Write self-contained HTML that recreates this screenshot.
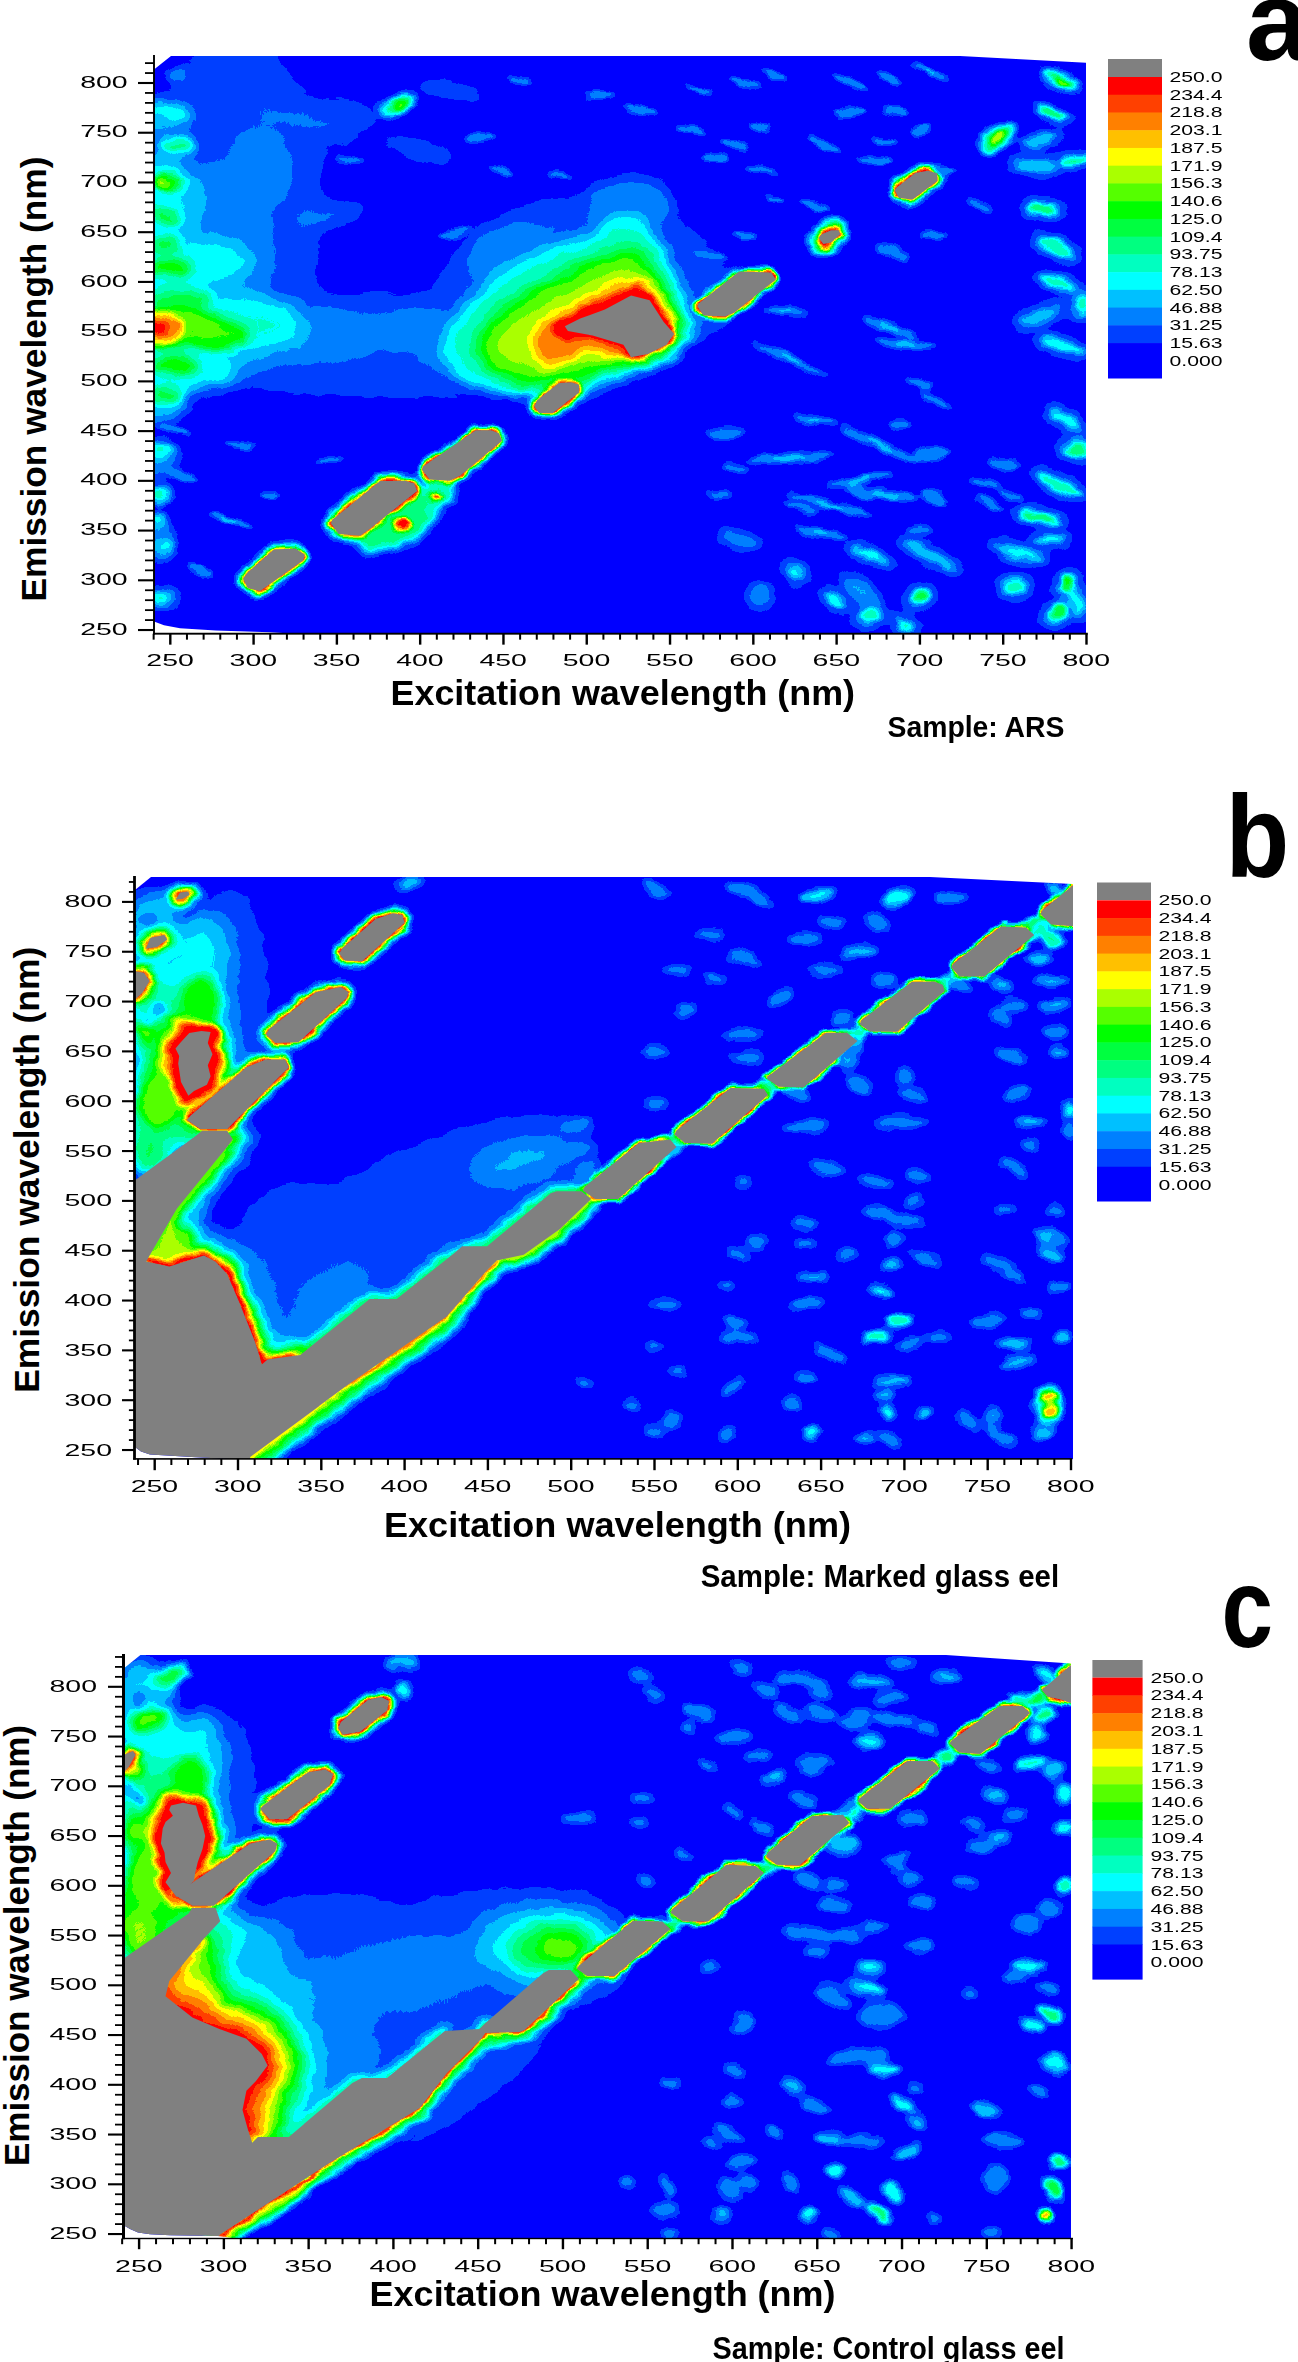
<!DOCTYPE html>
<html><head><meta charset="utf-8"><title>Excitation emission matrices</title><style>html,body{margin:0;padding:0;background:#fff}svg{display:block}</style></head><body>
<svg width="1298" height="2362" viewBox="0 0 1298 2362" font-family="'Liberation Sans', sans-serif" fill="#000">
<defs>
<filter id="jet" filterUnits="userSpaceOnUse" x="0" y="0" width="1298" height="2362" color-interpolation-filters="sRGB">
<feTurbulence type="fractalNoise" baseFrequency="0.045 0.07" numOctaves="2" seed="7" result="n"/>
<feDisplacementMap in="SourceGraphic" in2="n" scale="9" xChannelSelector="R" yChannelSelector="G" result="d"/>
<feComponentTransfer in="d">
<feFuncR type="discrete" tableValues="0 0 0 0 0 0 0 0 0 .333 .667 1 1 1 1 1 .5"/>
<feFuncG type="discrete" tableValues="0 .25 .5 .75 1 1 1 1 1 1 1 1 .75 .5 .25 0 .5"/>
<feFuncB type="discrete" tableValues="1 1 1 1 1 .75 .5 .25 0 0 0 0 0 0 0 0 .5"/>
</feComponentTransfer></filter>
<clipPath id="clipa"><path d="M154,69.5 L171,56 L960,56 L1086,62.8 L1086,634 L300,634 L270,632.3 L216,630.6 L180,628.2 L164,625.2 L154,621.5 Z"/></clipPath>
<clipPath id="clipb"><path d="M135,890 L151,877 L930,877 L1073,884 L1073,1459 L230,1459 L216,1458.3 L196,1457.2 L150,1454.5 L141,1451.5 L135,1447 Z"/></clipPath>
<clipPath id="clipc"><path d="M124,1668.2 L140.4,1655 L946,1655 L1071,1663.5 L1071,2239 L240,2239 L218,2236 L170,2235.2 L150,2234.2 L138,2232.5 L130,2229 L124,2225.5 Z"/></clipPath>
<filter id="b1_5" x="-60%" y="-60%" width="220%" height="220%" color-interpolation-filters="sRGB"><feGaussianBlur stdDeviation="1.5"/></filter>
<filter id="b2" x="-60%" y="-60%" width="220%" height="220%" color-interpolation-filters="sRGB"><feGaussianBlur stdDeviation="2"/></filter>
<filter id="b2_5" x="-60%" y="-60%" width="220%" height="220%" color-interpolation-filters="sRGB"><feGaussianBlur stdDeviation="2.5"/></filter>
<filter id="b3" x="-60%" y="-60%" width="220%" height="220%" color-interpolation-filters="sRGB"><feGaussianBlur stdDeviation="3"/></filter>
<filter id="b3_5" x="-60%" y="-60%" width="220%" height="220%" color-interpolation-filters="sRGB"><feGaussianBlur stdDeviation="3.5"/></filter>
<filter id="b4" x="-60%" y="-60%" width="220%" height="220%" color-interpolation-filters="sRGB"><feGaussianBlur stdDeviation="4"/></filter>
<filter id="b4_5" x="-60%" y="-60%" width="220%" height="220%" color-interpolation-filters="sRGB"><feGaussianBlur stdDeviation="4.5"/></filter>
<filter id="b5" x="-60%" y="-60%" width="220%" height="220%" color-interpolation-filters="sRGB"><feGaussianBlur stdDeviation="5"/></filter>
<filter id="b6" x="-60%" y="-60%" width="220%" height="220%" color-interpolation-filters="sRGB"><feGaussianBlur stdDeviation="6"/></filter>
<filter id="b6_5" x="-60%" y="-60%" width="220%" height="220%" color-interpolation-filters="sRGB"><feGaussianBlur stdDeviation="6.5"/></filter>
<filter id="b7" x="-60%" y="-60%" width="220%" height="220%" color-interpolation-filters="sRGB"><feGaussianBlur stdDeviation="7"/></filter>
<filter id="b8" x="-60%" y="-60%" width="220%" height="220%" color-interpolation-filters="sRGB"><feGaussianBlur stdDeviation="8"/></filter>
<filter id="b9" x="-60%" y="-60%" width="220%" height="220%" color-interpolation-filters="sRGB"><feGaussianBlur stdDeviation="9"/></filter>
<filter id="b10" x="-60%" y="-60%" width="220%" height="220%" color-interpolation-filters="sRGB"><feGaussianBlur stdDeviation="10"/></filter>
<filter id="b14" x="-60%" y="-60%" width="220%" height="220%" color-interpolation-filters="sRGB"><feGaussianBlur stdDeviation="14"/></filter>
<filter id="b16" x="-60%" y="-60%" width="220%" height="220%" color-interpolation-filters="sRGB"><feGaussianBlur stdDeviation="16"/></filter>
<filter id="b17" x="-60%" y="-60%" width="220%" height="220%" color-interpolation-filters="sRGB"><feGaussianBlur stdDeviation="17"/></filter>
</defs>
<g clip-path="url(#clipa)"><g filter="url(#jet)"><rect x="134" y="36" width="973" height="618" fill="#000"/><g filter="url(#b14)"><ellipse cx="235" cy="200" rx="90" ry="165" fill="rgb(26,26,26)"/><ellipse cx="390" cy="345" rx="250" ry="55" fill="rgb(26,26,26)"/><ellipse cx="585" cy="300" rx="150" ry="105" fill="rgb(27,27,27)"/><ellipse cx="560" cy="130" rx="50" ry="14" fill="rgb(21,21,21)" transform="rotate(10 560 130)"/><ellipse cx="330" cy="120" rx="60" ry="30" fill="rgb(21,21,21)"/></g><g filter="url(#b8)"><ellipse cx="300" cy="120" rx="50" ry="10" fill="rgb(34,34,34)" transform="rotate(10 300 120)"/><ellipse cx="420" cy="150" rx="40" ry="9" fill="rgb(32,32,32)" transform="rotate(15 420 150)"/><ellipse cx="330" cy="215" rx="40" ry="10" fill="rgb(36,36,36)" transform="rotate(-10 330 215)"/><ellipse cx="450" cy="90" rx="40" ry="8" fill="rgb(32,32,32)" transform="rotate(10 450 90)"/><ellipse cx="215" cy="250" rx="55" ry="85" fill="rgb(42,42,42)"/><ellipse cx="215" cy="330" rx="105" ry="40" fill="rgb(47,47,47)"/><ellipse cx="300" cy="335" rx="80" ry="25" fill="rgb(44,44,44)"/><ellipse cx="260" cy="170" rx="30" ry="40" fill="rgb(39,39,39)"/><ellipse cx="520" cy="260" rx="50" ry="35" fill="rgb(41,41,41)"/><ellipse cx="630" cy="205" rx="45" ry="30" fill="rgb(38,38,38)"/><ellipse cx="420" cy="330" rx="60" ry="20" fill="rgb(38,38,38)"/><ellipse cx="480" cy="365" rx="60" ry="14" fill="rgb(38,38,38)" transform="rotate(10 480 365)"/></g><g filter="url(#b5)"><polygon points="150,668 1095,104 1095,660" fill="rgb(8,8,8)"/></g><g filter="url(#b8)"><ellipse cx="158" cy="120" rx="28" ry="22" fill="rgb(47,47,47)"/><ellipse cx="160" cy="200" rx="38" ry="50" fill="rgb(60,60,60)"/><ellipse cx="158" cy="300" rx="48" ry="60" fill="rgb(70,70,70)"/><ellipse cx="158" cy="390" rx="36" ry="32" fill="rgb(58,58,58)"/><ellipse cx="160" cy="460" rx="20" ry="18" fill="rgb(45,45,45)"/><ellipse cx="158" cy="540" rx="16" ry="22" fill="rgb(45,45,45)"/><ellipse cx="165" cy="598" rx="18" ry="9" fill="rgb(52,52,52)"/><ellipse cx="230" cy="325" rx="70" ry="26" fill="rgb(75,75,75)"/><ellipse cx="200" cy="262" rx="48" ry="20" fill="rgb(72,72,72)"/><ellipse cx="200" cy="372" rx="40" ry="16" fill="rgb(72,72,72)"/></g><g filter="url(#b5)"><ellipse cx="168" cy="182" rx="16" ry="9" fill="rgb(128,128,128)"/><ellipse cx="178" cy="146" rx="16" ry="6" fill="rgb(112,112,112)"/><ellipse cx="176" cy="75" rx="10" ry="5" fill="rgb(60,60,60)"/><ellipse cx="170" cy="112" rx="22" ry="6" fill="rgb(82,82,82)" transform="rotate(15 170 112)"/><ellipse cx="165" cy="215" rx="15" ry="8" fill="rgb(112,112,112)" transform="rotate(20 165 215)"/><ellipse cx="170" cy="268" rx="22" ry="9" fill="rgb(128,128,128)"/><ellipse cx="165" cy="245" rx="15" ry="8" fill="rgb(112,112,112)"/><ellipse cx="180" cy="300" rx="30" ry="10" fill="rgb(112,112,112)"/><ellipse cx="175" cy="328" rx="55" ry="20" fill="rgb(142,142,142)"/><ellipse cx="210" cy="335" rx="40" ry="14" fill="rgb(135,135,135)"/><ellipse cx="175" cy="365" rx="25" ry="10" fill="rgb(128,128,128)"/><ellipse cx="165" cy="395" rx="18" ry="9" fill="rgb(112,112,112)"/><ellipse cx="160" cy="450" rx="12" ry="8" fill="rgb(82,82,82)"/><ellipse cx="160" cy="495" rx="12" ry="7" fill="rgb(98,98,98)"/><ellipse cx="158" cy="520" rx="10" ry="6" fill="rgb(82,82,82)"/><ellipse cx="165" cy="548" rx="10" ry="5" fill="rgb(82,82,82)"/><ellipse cx="160" cy="598" rx="8" ry="6" fill="rgb(98,98,98)"/><ellipse cx="398" cy="105" rx="18" ry="9" fill="rgb(98,98,98)" transform="rotate(-25 398 105)"/></g><g filter="url(#b3_5)"><ellipse cx="160" cy="328" rx="24" ry="15" fill="rgb(202,202,202)"/><ellipse cx="155" cy="328" rx="13" ry="9" fill="rgb(235,235,235)"/><ellipse cx="399" cy="105" rx="9" ry="4" fill="rgb(158,158,158)" transform="rotate(-25 399 105)"/><ellipse cx="163" cy="182" rx="6" ry="4" fill="rgb(172,172,172)"/></g><g filter="url(#b7)"><polygon points="444.7,354.1 450.8,329.4 472.4,301.7 500.1,277 543.3,255.5 592.6,237 617.2,218.5 641.9,221.6 660.4,252.4 675.8,286.3 685,317.1 691.2,329.4 666.5,354.1 635.7,363.3 604.9,372.6 580.2,384.9 543.3,391.1 497,388 460.1,375.7" fill="rgb(76,76,76)" stroke="rgb(76,76,76)" stroke-width="6" stroke-linejoin="round"/></g><g filter="url(#b10)"><polygon points="481.6,363.3 475.5,338.7 500.1,310.9 543.3,283.2 592.6,261.6 632.6,246.2 648,261.6 666.5,292.4 678.9,323.3 678.9,338.7 654.2,357.2 617.2,366.4 592.6,372.6 574.1,381.8 537.1,384.9 506.3,378.7" fill="rgb(152,152,152)"/></g><g filter="url(#b6_5)"><polygon points="530.9,344.8 534,329.4 555.6,314 586.4,298.6 617.2,283.2 641.9,280.1 663.5,301.7 675.8,329.4 672.7,341.8 648,357.2 629.6,360.2 604.9,354.1 586.4,351 567.9,360.2 549.4,366.4 537.1,360.2" fill="rgb(205,205,205)"/></g><g filter="url(#b2_5)"><polygon points="549.4,332.5 558.7,320.2 586.4,307.9 611.1,295.5 635.7,284.7 648,289.4 666.5,317.1 675.8,334.1 669.6,344.8 648,355.6 629.6,358.7 620.3,344.8 592.6,338.7 564.8,338.7" fill="rgb(237,237,237)"/></g><g filter="url(#b5)"><polygon points="243.1,578.8 247.7,588 260.1,591.1 303.2,560.3 304.7,554.8 295.5,548.6 273.9,549.5 247.7,572.6" fill="rgb(98,98,98)" stroke="rgb(98,98,98)" stroke-width="8" stroke-linejoin="round"/><polygon points="330.9,523.3 338.6,534.1 360.2,535.7 371,528 417.2,491 414.1,483.3 404.9,480.8 380.2,481.1 332.5,519.6" fill="rgb(112,112,112)" stroke="rgb(112,112,112)" stroke-width="10" stroke-linejoin="round"/><polygon points="421.8,469.4 429.6,479.6 449.6,480.8 460.4,475.6 502,440.7 498.9,433.3 491.2,430.3 475.8,430.3 423.4,466.3" fill="rgb(75,75,75)" stroke="rgb(75,75,75)" stroke-width="6" stroke-linejoin="round"/><polygon points="534.3,406.2 539,413 552.8,413 579,392.4 579,384.7 571.3,382.2 559,383.1 537.4,400.1" fill="rgb(112,112,112)" stroke="rgb(112,112,112)" stroke-width="8" stroke-linejoin="round"/><polygon points="697.3,306.3 703.5,315.6 725.1,316.5 734.3,312.5 775.9,279.5 771.3,272.4 739,271.5 698.9,303.2" fill="rgb(52,52,52)" stroke="rgb(52,52,52)" stroke-width="4" stroke-linejoin="round"/><polygon points="894.8,190.2 898.8,197.9 912.6,199.5 937.3,181 937.3,173.3 928,170.8 915.7,172.7 897.2,187.1" fill="rgb(98,98,98)" stroke="rgb(98,98,98)" stroke-width="8" stroke-linejoin="round"/><ellipse cx="828" cy="237" rx="20" ry="13" fill="rgb(142,142,142)" transform="rotate(-38 828 237)"/><ellipse cx="997" cy="138" rx="20" ry="10" fill="rgb(112,112,112)" transform="rotate(-35 997 138)"/><ellipse cx="1060" cy="81" rx="22" ry="7" fill="rgb(112,112,112)" transform="rotate(25 1060 81)"/><ellipse cx="395" cy="530" rx="40" ry="16" fill="rgb(98,98,98)" transform="rotate(-20 395 530)"/><ellipse cx="430" cy="500" rx="28" ry="14" fill="rgb(90,90,90)" transform="rotate(-30 430 500)"/></g><g filter="url(#b2)"><polygon points="243.1,578.8 247.7,588 260.1,591.1 303.2,560.3 304.7,554.8 295.5,548.6 273.9,549.5 247.7,572.6" fill="rgb(237,237,237)" stroke="rgb(237,237,237)" stroke-width="3.5" stroke-linejoin="round"/><polygon points="330.9,523.3 338.6,534.1 360.2,535.7 371,528 417.2,491 414.1,483.3 404.9,480.8 380.2,481.1 332.5,519.6" fill="rgb(237,237,237)" stroke="rgb(237,237,237)" stroke-width="3.5" stroke-linejoin="round"/><polygon points="421.8,469.4 429.6,479.6 449.6,480.8 460.4,475.6 502,440.7 498.9,433.3 491.2,430.3 475.8,430.3 423.4,466.3" fill="rgb(237,237,237)" stroke="rgb(237,237,237)" stroke-width="3.5" stroke-linejoin="round"/><polygon points="534.3,406.2 539,413 552.8,413 579,392.4 579,384.7 571.3,382.2 559,383.1 537.4,400.1" fill="rgb(237,237,237)" stroke="rgb(237,237,237)" stroke-width="3.5" stroke-linejoin="round"/><polygon points="697.3,306.3 703.5,315.6 725.1,316.5 734.3,312.5 775.9,279.5 771.3,272.4 739,271.5 698.9,303.2" fill="rgb(237,237,237)" stroke="rgb(237,237,237)" stroke-width="3.5" stroke-linejoin="round"/><polygon points="894.8,190.2 898.8,197.9 912.6,199.5 937.3,181 937.3,173.3 928,170.8 915.7,172.7 897.2,187.1" fill="rgb(237,237,237)" stroke="rgb(237,237,237)" stroke-width="3.5" stroke-linejoin="round"/><polygon points="818.6,238 823.3,244.1 831,242.6 840.2,234.3 838.7,230.3 831,230.3 821.7,234.3" fill="rgb(237,237,237)" stroke="rgb(237,237,237)" stroke-width="3.5" stroke-linejoin="round"/><ellipse cx="828" cy="237" rx="12" ry="8" fill="rgb(237,237,237)" transform="rotate(-38 828 237)"/><ellipse cx="998" cy="138" rx="8" ry="3.5" fill="rgb(172,172,172)" transform="rotate(-35 998 138)"/><ellipse cx="1062" cy="82" rx="9" ry="3" fill="rgb(158,158,158)" transform="rotate(25 1062 82)"/><ellipse cx="402" cy="525" rx="8" ry="5" fill="rgb(237,237,237)"/><ellipse cx="436.6" cy="497.8" rx="5" ry="4" fill="rgb(232,232,232)"/></g><g filter="url(#b4_5)"><ellipse cx="1052" cy="113" rx="23" ry="9" fill="rgb(38,38,38)" transform="rotate(20 1052 113)"/><ellipse cx="1075" cy="160" rx="21" ry="9" fill="rgb(38,38,38)" transform="rotate(-10 1075 160)"/><ellipse cx="1043" cy="209" rx="23" ry="10" fill="rgb(38,38,38)" transform="rotate(5 1043 209)"/><ellipse cx="1056" cy="247" rx="27" ry="11" fill="rgb(38,38,38)" transform="rotate(25 1056 247)"/><ellipse cx="1058" cy="283" rx="25" ry="9" fill="rgb(38,38,38)" transform="rotate(15 1058 283)"/><ellipse cx="1040" cy="140" rx="23" ry="9" fill="rgb(38,38,38)" transform="rotate(-10 1040 140)"/><ellipse cx="1035" cy="166" rx="27" ry="10" fill="rgb(38,38,38)" transform="rotate(5 1035 166)"/><ellipse cx="1082" cy="305" rx="15" ry="16" fill="rgb(38,38,38)"/><ellipse cx="1062" cy="346" rx="29" ry="9" fill="rgb(38,38,38)" transform="rotate(15 1062 346)"/><ellipse cx="1040" cy="316" rx="27" ry="11" fill="rgb(38,38,38)" transform="rotate(-20 1040 316)"/><ellipse cx="1065" cy="420" rx="23" ry="9" fill="rgb(38,38,38)" transform="rotate(30 1065 420)"/><ellipse cx="1078" cy="450" rx="19" ry="14" fill="rgb(38,38,38)"/><ellipse cx="1060" cy="485" rx="31" ry="10" fill="rgb(38,38,38)" transform="rotate(25 1060 485)"/><ellipse cx="1040" cy="517" rx="29" ry="9" fill="rgb(38,38,38)" transform="rotate(10 1040 517)"/><ellipse cx="1050" cy="540" rx="21" ry="7" fill="rgb(38,38,38)"/><ellipse cx="1068" cy="583" rx="15" ry="13" fill="rgb(38,38,38)" transform="rotate(-20 1068 583)"/><ellipse cx="1058" cy="613" rx="18" ry="13" fill="rgb(38,38,38)" transform="rotate(-30 1058 613)"/><ellipse cx="1015" cy="587" rx="19" ry="12" fill="rgb(38,38,38)"/><ellipse cx="1075" cy="600" rx="13" ry="22" fill="rgb(38,38,38)" transform="rotate(-25 1075 600)"/><ellipse cx="1020" cy="553" rx="31" ry="9" fill="rgb(38,38,38)" transform="rotate(15 1020 553)"/><ellipse cx="920" cy="597" rx="16" ry="13" fill="rgb(38,38,38)" transform="rotate(-25 920 597)"/><ellipse cx="870" cy="615" rx="17" ry="14" fill="rgb(38,38,38)" transform="rotate(-30 870 615)"/><ellipse cx="905" cy="625" rx="17" ry="9" fill="rgb(38,38,38)" transform="rotate(30 905 625)"/><ellipse cx="835" cy="600" rx="17" ry="9" fill="rgb(38,38,38)" transform="rotate(35 835 600)"/><ellipse cx="795" cy="572" rx="15" ry="10" fill="rgb(38,38,38)" transform="rotate(40 795 572)"/><ellipse cx="870" cy="555" rx="27" ry="8" fill="rgb(38,38,38)" transform="rotate(25 870 555)"/><ellipse cx="930" cy="555" rx="37" ry="9" fill="rgb(38,38,38)" transform="rotate(30 930 555)"/><ellipse cx="860" cy="590" rx="23" ry="12" fill="rgb(38,38,38)" transform="rotate(40 860 590)"/><ellipse cx="740" cy="540" rx="23" ry="8" fill="rgb(38,38,38)" transform="rotate(15 740 540)"/><ellipse cx="760" cy="595" rx="14" ry="13" fill="rgb(38,38,38)" transform="rotate(-20 760 595)"/></g><g filter="url(#b2_5)"><ellipse cx="1052" cy="113" rx="15" ry="4" fill="rgb(112,112,112)" transform="rotate(20 1052 113)"/><ellipse cx="1075" cy="160" rx="13" ry="4" fill="rgb(98,98,98)" transform="rotate(-10 1075 160)"/><ellipse cx="1043" cy="209" rx="15" ry="4.8" fill="rgb(105,105,105)" transform="rotate(5 1043 209)"/><ellipse cx="1056" cy="247" rx="19" ry="5.6" fill="rgb(90,90,90)" transform="rotate(25 1056 247)"/><ellipse cx="1058" cy="283" rx="17" ry="4" fill="rgb(90,90,90)" transform="rotate(15 1058 283)"/><ellipse cx="1040" cy="140" rx="15" ry="4" fill="rgb(60,60,60)" transform="rotate(-10 1040 140)"/><ellipse cx="1035" cy="166" rx="19" ry="4.8" fill="rgb(60,60,60)" transform="rotate(5 1035 166)"/><ellipse cx="1082" cy="305" rx="7" ry="9.6" fill="rgb(82,82,82)"/><ellipse cx="1062" cy="346" rx="21" ry="4" fill="rgb(75,75,75)" transform="rotate(15 1062 346)"/><ellipse cx="1040" cy="316" rx="19" ry="5.6" fill="rgb(52,52,52)" transform="rotate(-20 1040 316)"/><ellipse cx="1065" cy="420" rx="15" ry="4" fill="rgb(75,75,75)" transform="rotate(30 1065 420)"/><ellipse cx="1078" cy="450" rx="11" ry="8" fill="rgb(98,98,98)"/><ellipse cx="1060" cy="485" rx="23" ry="4.8" fill="rgb(90,90,90)" transform="rotate(25 1060 485)"/><ellipse cx="1040" cy="517" rx="21" ry="4" fill="rgb(112,112,112)" transform="rotate(10 1040 517)"/><ellipse cx="1050" cy="540" rx="13" ry="2.4" fill="rgb(82,82,82)"/><ellipse cx="1068" cy="583" rx="7" ry="7.2" fill="rgb(128,128,128)" transform="rotate(-20 1068 583)"/><ellipse cx="1058" cy="613" rx="10" ry="7.2" fill="rgb(112,112,112)" transform="rotate(-30 1058 613)"/><ellipse cx="1015" cy="587" rx="11" ry="6.4" fill="rgb(82,82,82)"/><ellipse cx="1075" cy="600" rx="5" ry="14.4" fill="rgb(68,68,68)" transform="rotate(-25 1075 600)"/><ellipse cx="1020" cy="553" rx="23" ry="4" fill="rgb(68,68,68)" transform="rotate(15 1020 553)"/><ellipse cx="920" cy="597" rx="8" ry="7.2" fill="rgb(112,112,112)" transform="rotate(-25 920 597)"/><ellipse cx="870" cy="615" rx="9" ry="8" fill="rgb(82,82,82)" transform="rotate(-30 870 615)"/><ellipse cx="905" cy="625" rx="9" ry="4" fill="rgb(82,82,82)" transform="rotate(30 905 625)"/><ellipse cx="835" cy="600" rx="9" ry="4" fill="rgb(75,75,75)" transform="rotate(35 835 600)"/><ellipse cx="795" cy="572" rx="7" ry="4.8" fill="rgb(68,68,68)" transform="rotate(40 795 572)"/><ellipse cx="870" cy="555" rx="19" ry="3.2" fill="rgb(75,75,75)" transform="rotate(25 870 555)"/><ellipse cx="930" cy="555" rx="29" ry="4" fill="rgb(60,60,60)" transform="rotate(30 930 555)"/><ellipse cx="860" cy="590" rx="15" ry="6.4" fill="rgb(45,45,45)" transform="rotate(40 860 590)"/><ellipse cx="740" cy="540" rx="15" ry="3.2" fill="rgb(45,45,45)" transform="rotate(15 740 540)"/><ellipse cx="760" cy="595" rx="6" ry="7.2" fill="rgb(38,38,38)" transform="rotate(-20 760 595)"/></g><g filter="url(#b2)"><ellipse cx="745" cy="82" rx="16" ry="4" fill="rgb(44,44,44)" transform="rotate(15 745 82)"/><ellipse cx="775" cy="76" rx="14" ry="4" fill="rgb(44,44,44)" transform="rotate(15 775 76)"/><ellipse cx="850" cy="82" rx="20" ry="4" fill="rgb(44,44,44)" transform="rotate(25 850 82)"/><ellipse cx="890" cy="78" rx="14" ry="4" fill="rgb(44,44,44)" transform="rotate(25 890 78)"/><ellipse cx="930" cy="72" rx="22" ry="3.2" fill="rgb(44,44,44)" transform="rotate(25 930 72)"/><ellipse cx="850" cy="112" rx="18" ry="4.8" fill="rgb(44,44,44)" transform="rotate(-10 850 112)"/><ellipse cx="895" cy="112" rx="14" ry="4" fill="rgb(44,44,44)" transform="rotate(10 895 112)"/><ellipse cx="735" cy="145" rx="16" ry="4" fill="rgb(44,44,44)" transform="rotate(20 735 145)"/><ellipse cx="825" cy="145" rx="18" ry="4" fill="rgb(44,44,44)" transform="rotate(25 825 145)"/><ellipse cx="885" cy="142" rx="14" ry="3.2" fill="rgb(44,44,44)" transform="rotate(10 885 142)"/><ellipse cx="920" cy="130" rx="12" ry="4.8" fill="rgb(44,44,44)" transform="rotate(-20 920 130)"/><ellipse cx="760" cy="128" rx="12" ry="4" fill="rgb(44,44,44)" transform="rotate(15 760 128)"/><ellipse cx="815" cy="205" rx="16" ry="4" fill="rgb(44,44,44)" transform="rotate(20 815 205)"/><ellipse cx="775" cy="200" rx="12" ry="3.2" fill="rgb(44,44,44)" transform="rotate(10 775 200)"/><ellipse cx="875" cy="160" rx="18" ry="4" fill="rgb(44,44,44)"/><ellipse cx="760" cy="170" rx="18" ry="3.2" fill="rgb(44,44,44)" transform="rotate(10 760 170)"/><ellipse cx="715" cy="158" rx="14" ry="4" fill="rgb(44,44,44)"/><ellipse cx="980" cy="205" rx="14" ry="3.2" fill="rgb(44,44,44)" transform="rotate(20 980 205)"/><ellipse cx="945" cy="170" rx="12" ry="4" fill="rgb(44,44,44)"/><ellipse cx="893" cy="252" rx="18" ry="4.8" fill="rgb(44,44,44)" transform="rotate(25 893 252)"/><ellipse cx="935" cy="235" rx="14" ry="3.2" fill="rgb(44,44,44)"/><ellipse cx="785" cy="311" rx="22" ry="3.2" fill="rgb(44,44,44)" transform="rotate(5 785 311)"/><ellipse cx="890" cy="328" rx="29" ry="4" fill="rgb(44,44,44)" transform="rotate(20 890 328)"/><ellipse cx="905" cy="344" rx="30" ry="4" fill="rgb(44,44,44)" transform="rotate(5 905 344)"/><ellipse cx="790" cy="360" rx="42" ry="3.2" fill="rgb(44,44,44)" transform="rotate(25 790 360)"/><ellipse cx="920" cy="383" rx="13" ry="4" fill="rgb(44,44,44)" transform="rotate(20 920 383)"/><ellipse cx="935" cy="400" rx="18" ry="3.2" fill="rgb(44,44,44)" transform="rotate(30 935 400)"/><ellipse cx="815" cy="420" rx="22" ry="3.2" fill="rgb(44,44,44)" transform="rotate(10 815 420)"/><ellipse cx="900" cy="425" rx="10" ry="4" fill="rgb(44,44,44)"/><ellipse cx="725" cy="433" rx="18" ry="4.8" fill="rgb(44,44,44)" transform="rotate(-5 725 433)"/><ellipse cx="880" cy="445" rx="44" ry="4" fill="rgb(44,44,44)" transform="rotate(25 880 445)"/><ellipse cx="930" cy="455" rx="18" ry="7.2" fill="rgb(44,44,44)" transform="rotate(-10 930 455)"/><ellipse cx="790" cy="458" rx="44" ry="4.8" fill="rgb(44,44,44)" transform="rotate(-5 790 458)"/><ellipse cx="1003" cy="464" rx="16" ry="4.8" fill="rgb(44,44,44)"/><ellipse cx="735" cy="468" rx="12" ry="3.2" fill="rgb(44,44,44)" transform="rotate(15 735 468)"/><ellipse cx="860" cy="480" rx="34" ry="4" fill="rgb(44,44,44)" transform="rotate(-10 860 480)"/><ellipse cx="885" cy="495" rx="34" ry="4.8" fill="rgb(44,44,44)" transform="rotate(5 885 495)"/><ellipse cx="860" cy="492" rx="16" ry="5.6" fill="rgb(44,44,44)" transform="rotate(30 860 492)"/><ellipse cx="935" cy="498" rx="14" ry="6.4" fill="rgb(44,44,44)" transform="rotate(20 935 498)"/><ellipse cx="985" cy="483" rx="16" ry="3.2" fill="rgb(44,44,44)" transform="rotate(15 985 483)"/><ellipse cx="830" cy="505" rx="44" ry="4" fill="rgb(44,44,44)" transform="rotate(15 830 505)"/><ellipse cx="800" cy="507" rx="18" ry="3.2" fill="rgb(44,44,44)" transform="rotate(15 800 507)"/><ellipse cx="720" cy="495" rx="12" ry="3.2" fill="rgb(44,44,44)"/><ellipse cx="1010" cy="495" rx="14" ry="3.2" fill="rgb(44,44,44)" transform="rotate(20 1010 495)"/><ellipse cx="990" cy="503" rx="16" ry="3.2" fill="rgb(44,44,44)" transform="rotate(25 990 503)"/><ellipse cx="820" cy="533" rx="26" ry="4" fill="rgb(44,44,44)" transform="rotate(10 820 533)"/><ellipse cx="920" cy="530" rx="12" ry="3.2" fill="rgb(44,44,44)"/><ellipse cx="455" cy="232" rx="16" ry="4" fill="rgb(44,44,44)" transform="rotate(-15 455 232)"/><ellipse cx="500" cy="170" rx="14" ry="3.2" fill="rgb(44,44,44)" transform="rotate(20 500 170)"/><ellipse cx="480" cy="138" rx="16" ry="4" fill="rgb(44,44,44)" transform="rotate(-10 480 138)"/><ellipse cx="350" cy="160" rx="14" ry="3.2" fill="rgb(44,44,44)" transform="rotate(10 350 160)"/><ellipse cx="270" cy="495" rx="12" ry="3.2" fill="rgb(44,44,44)"/><ellipse cx="180" cy="475" rx="20" ry="4" fill="rgb(44,44,44)" transform="rotate(20 180 475)"/><ellipse cx="230" cy="520" rx="24" ry="4" fill="rgb(44,44,44)" transform="rotate(15 230 520)"/><ellipse cx="200" cy="570" rx="16" ry="4" fill="rgb(44,44,44)" transform="rotate(20 200 570)"/><ellipse cx="285" cy="555" rx="12" ry="3.2" fill="rgb(44,44,44)"/><ellipse cx="175" cy="430" rx="18" ry="4" fill="rgb(44,44,44)" transform="rotate(15 175 430)"/><ellipse cx="240" cy="445" rx="16" ry="3.2" fill="rgb(44,44,44)" transform="rotate(10 240 445)"/><ellipse cx="330" cy="460" rx="14" ry="3.2" fill="rgb(44,44,44)" transform="rotate(5 330 460)"/><ellipse cx="560" cy="175" rx="14" ry="3.2" fill="rgb(44,44,44)" transform="rotate(10 560 175)"/><ellipse cx="690" cy="130" rx="16" ry="4" fill="rgb(44,44,44)" transform="rotate(10 690 130)"/><ellipse cx="640" cy="110" rx="18" ry="4" fill="rgb(44,44,44)" transform="rotate(15 640 110)"/><ellipse cx="600" cy="95" rx="16" ry="4" fill="rgb(44,44,44)"/><ellipse cx="520" cy="80" rx="14" ry="3.2" fill="rgb(44,44,44)" transform="rotate(10 520 80)"/><ellipse cx="700" cy="90" rx="16" ry="3.2" fill="rgb(44,44,44)" transform="rotate(15 700 90)"/><ellipse cx="710" cy="255" rx="16" ry="4" fill="rgb(44,44,44)" transform="rotate(10 710 255)"/><ellipse cx="745" cy="235" rx="14" ry="3.2" fill="rgb(44,44,44)" transform="rotate(5 745 235)"/></g><g filter="url(#b1_5)"><ellipse cx="930" cy="72" rx="7.2" ry="1.2" fill="rgb(56,56,56)" transform="rotate(25 930 72)"/><ellipse cx="785" cy="311" rx="7.2" ry="1.2" fill="rgb(56,56,56)" transform="rotate(5 785 311)"/><ellipse cx="890" cy="328" rx="10" ry="1.6" fill="rgb(56,56,56)" transform="rotate(20 890 328)"/><ellipse cx="905" cy="344" rx="10.4" ry="1.6" fill="rgb(56,56,56)" transform="rotate(5 905 344)"/><ellipse cx="790" cy="360" rx="15.2" ry="1.2" fill="rgb(56,56,56)" transform="rotate(25 790 360)"/><ellipse cx="815" cy="420" rx="7.2" ry="1.2" fill="rgb(56,56,56)" transform="rotate(10 815 420)"/><ellipse cx="880" cy="445" rx="16" ry="1.6" fill="rgb(56,56,56)" transform="rotate(25 880 445)"/><ellipse cx="790" cy="458" rx="16" ry="2" fill="rgb(56,56,56)" transform="rotate(-5 790 458)"/><ellipse cx="860" cy="480" rx="12" ry="1.6" fill="rgb(56,56,56)" transform="rotate(-10 860 480)"/><ellipse cx="885" cy="495" rx="12" ry="2" fill="rgb(56,56,56)" transform="rotate(5 885 495)"/><ellipse cx="830" cy="505" rx="16" ry="1.6" fill="rgb(56,56,56)" transform="rotate(15 830 505)"/><ellipse cx="820" cy="533" rx="8.8" ry="1.6" fill="rgb(56,56,56)" transform="rotate(10 820 533)"/><ellipse cx="230" cy="520" rx="8" ry="1.6" fill="rgb(56,56,56)" transform="rotate(15 230 520)"/></g></g><polygon points="564.8,326.3 580.2,318.6 604.9,309.4 631.1,295.5 649.6,300.2 663.5,321.7 674.2,334.1 666.5,344.8 648,354.1 631.1,357.2 623.4,344.8 592.6,335.6 567.9,331" fill="#808080"/><polygon points="243.1,578.8 247.7,588 260.1,591.1 303.2,560.3 304.7,554.8 295.5,548.6 273.9,549.5 247.7,572.6" fill="#808080"/><polygon points="330.9,523.3 338.6,534.1 360.2,535.7 371,528 417.2,491 414.1,483.3 404.9,480.8 380.2,481.1 332.5,519.6" fill="#808080"/><polygon points="421.8,469.4 429.6,479.6 449.6,480.8 460.4,475.6 502,440.7 498.9,433.3 491.2,430.3 475.8,430.3 423.4,466.3" fill="#808080"/><polygon points="534.3,406.2 539,413 552.8,413 579,392.4 579,384.7 571.3,382.2 559,383.1 537.4,400.1" fill="#808080"/><polygon points="697.3,306.3 703.5,315.6 725.1,316.5 734.3,312.5 775.9,279.5 771.3,272.4 739,271.5 698.9,303.2" fill="#808080"/><polygon points="894.8,190.2 898.8,197.9 912.6,199.5 937.3,181 937.3,173.3 928,170.8 915.7,172.7 897.2,187.1" fill="#808080"/><polygon points="818.6,238 823.3,244.1 831,242.6 840.2,234.3 838.7,230.3 831,230.3 821.7,234.3" fill="#808080"/></g>
<rect x="153.05" y="55" width="1.9" height="579.65" fill="#000"/><rect x="153.05" y="632.75" width="934.75" height="1.9" fill="#000"/><rect x="145" y="62.208" width="9" height="1.8" fill="#000"/><rect x="145" y="72.154" width="9" height="1.8" fill="#000"/><rect x="138" y="81.95" width="16" height="2.1" fill="#000"/><rect x="145" y="92.046" width="9" height="1.8" fill="#000"/><rect x="145" y="101.992" width="9" height="1.8" fill="#000"/><rect x="145" y="111.938" width="9" height="1.8" fill="#000"/><rect x="145" y="121.884" width="9" height="1.8" fill="#000"/><rect x="138" y="131.68" width="16" height="2.1" fill="#000"/><rect x="145" y="141.776" width="9" height="1.8" fill="#000"/><rect x="145" y="151.722" width="9" height="1.8" fill="#000"/><rect x="145" y="161.668" width="9" height="1.8" fill="#000"/><rect x="145" y="171.614" width="9" height="1.8" fill="#000"/><rect x="138" y="181.41" width="16" height="2.1" fill="#000"/><rect x="145" y="191.506" width="9" height="1.8" fill="#000"/><rect x="145" y="201.452" width="9" height="1.8" fill="#000"/><rect x="145" y="211.398" width="9" height="1.8" fill="#000"/><rect x="145" y="221.344" width="9" height="1.8" fill="#000"/><rect x="138" y="231.14" width="16" height="2.1" fill="#000"/><rect x="145" y="241.236" width="9" height="1.8" fill="#000"/><rect x="145" y="251.182" width="9" height="1.8" fill="#000"/><rect x="145" y="261.128" width="9" height="1.8" fill="#000"/><rect x="145" y="271.074" width="9" height="1.8" fill="#000"/><rect x="138" y="280.87" width="16" height="2.1" fill="#000"/><rect x="145" y="290.966" width="9" height="1.8" fill="#000"/><rect x="145" y="300.912" width="9" height="1.8" fill="#000"/><rect x="145" y="310.858" width="9" height="1.8" fill="#000"/><rect x="145" y="320.804" width="9" height="1.8" fill="#000"/><rect x="138" y="330.6" width="16" height="2.1" fill="#000"/><rect x="145" y="340.696" width="9" height="1.8" fill="#000"/><rect x="145" y="350.642" width="9" height="1.8" fill="#000"/><rect x="145" y="360.588" width="9" height="1.8" fill="#000"/><rect x="145" y="370.534" width="9" height="1.8" fill="#000"/><rect x="138" y="380.33" width="16" height="2.1" fill="#000"/><rect x="145" y="390.426" width="9" height="1.8" fill="#000"/><rect x="145" y="400.372" width="9" height="1.8" fill="#000"/><rect x="145" y="410.318" width="9" height="1.8" fill="#000"/><rect x="145" y="420.264" width="9" height="1.8" fill="#000"/><rect x="138" y="430.06" width="16" height="2.1" fill="#000"/><rect x="145" y="440.156" width="9" height="1.8" fill="#000"/><rect x="145" y="450.102" width="9" height="1.8" fill="#000"/><rect x="145" y="460.048" width="9" height="1.8" fill="#000"/><rect x="145" y="469.994" width="9" height="1.8" fill="#000"/><rect x="138" y="479.79" width="16" height="2.1" fill="#000"/><rect x="145" y="489.886" width="9" height="1.8" fill="#000"/><rect x="145" y="499.832" width="9" height="1.8" fill="#000"/><rect x="145" y="509.778" width="9" height="1.8" fill="#000"/><rect x="145" y="519.724" width="9" height="1.8" fill="#000"/><rect x="138" y="529.52" width="16" height="2.1" fill="#000"/><rect x="145" y="539.616" width="9" height="1.8" fill="#000"/><rect x="145" y="549.562" width="9" height="1.8" fill="#000"/><rect x="145" y="559.508" width="9" height="1.8" fill="#000"/><rect x="145" y="569.454" width="9" height="1.8" fill="#000"/><rect x="138" y="579.25" width="16" height="2.1" fill="#000"/><rect x="145" y="589.346" width="9" height="1.8" fill="#000"/><rect x="145" y="599.292" width="9" height="1.8" fill="#000"/><rect x="145" y="609.238" width="9" height="1.8" fill="#000"/><rect x="145" y="619.184" width="9" height="1.8" fill="#000"/><rect x="138" y="628.98" width="16" height="2.1" fill="#000"/><text x="80.2" y="87.6" font-size="17.4" textLength="47.5" lengthAdjust="spacingAndGlyphs">800</text><text x="80.2" y="137.33" font-size="17.4" textLength="47.5" lengthAdjust="spacingAndGlyphs">750</text><text x="80.2" y="187.06" font-size="17.4" textLength="47.5" lengthAdjust="spacingAndGlyphs">700</text><text x="80.2" y="236.79" font-size="17.4" textLength="47.5" lengthAdjust="spacingAndGlyphs">650</text><text x="80.2" y="286.52" font-size="17.4" textLength="47.5" lengthAdjust="spacingAndGlyphs">600</text><text x="80.2" y="336.25" font-size="17.4" textLength="47.5" lengthAdjust="spacingAndGlyphs">550</text><text x="80.2" y="385.98" font-size="17.4" textLength="47.5" lengthAdjust="spacingAndGlyphs">500</text><text x="80.2" y="435.71" font-size="17.4" textLength="47.5" lengthAdjust="spacingAndGlyphs">450</text><text x="80.2" y="485.44" font-size="17.4" textLength="47.5" lengthAdjust="spacingAndGlyphs">400</text><text x="80.2" y="535.17" font-size="17.4" textLength="47.5" lengthAdjust="spacingAndGlyphs">350</text><text x="80.2" y="584.9" font-size="17.4" textLength="47.5" lengthAdjust="spacingAndGlyphs">300</text><text x="80.2" y="634.63" font-size="17.4" textLength="47.5" lengthAdjust="spacingAndGlyphs">250</text><rect x="152.642" y="633.7" width="2" height="5.95" fill="#000"/><rect x="169.1" y="633.7" width="2.4" height="10.95" fill="#000"/><rect x="185.958" y="633.7" width="2" height="5.95" fill="#000"/><rect x="202.616" y="633.7" width="2" height="5.95" fill="#000"/><rect x="219.274" y="633.7" width="2" height="5.95" fill="#000"/><rect x="235.932" y="633.7" width="2" height="5.95" fill="#000"/><rect x="252.39" y="633.7" width="2.4" height="10.95" fill="#000"/><rect x="269.248" y="633.7" width="2" height="5.95" fill="#000"/><rect x="285.906" y="633.7" width="2" height="5.95" fill="#000"/><rect x="302.564" y="633.7" width="2" height="5.95" fill="#000"/><rect x="319.222" y="633.7" width="2" height="5.95" fill="#000"/><rect x="335.68" y="633.7" width="2.4" height="10.95" fill="#000"/><rect x="352.538" y="633.7" width="2" height="5.95" fill="#000"/><rect x="369.196" y="633.7" width="2" height="5.95" fill="#000"/><rect x="385.854" y="633.7" width="2" height="5.95" fill="#000"/><rect x="402.512" y="633.7" width="2" height="5.95" fill="#000"/><rect x="418.97" y="633.7" width="2.4" height="10.95" fill="#000"/><rect x="435.828" y="633.7" width="2" height="5.95" fill="#000"/><rect x="452.486" y="633.7" width="2" height="5.95" fill="#000"/><rect x="469.144" y="633.7" width="2" height="5.95" fill="#000"/><rect x="485.802" y="633.7" width="2" height="5.95" fill="#000"/><rect x="502.26" y="633.7" width="2.4" height="10.95" fill="#000"/><rect x="519.118" y="633.7" width="2" height="5.95" fill="#000"/><rect x="535.776" y="633.7" width="2" height="5.95" fill="#000"/><rect x="552.434" y="633.7" width="2" height="5.95" fill="#000"/><rect x="569.092" y="633.7" width="2" height="5.95" fill="#000"/><rect x="585.55" y="633.7" width="2.4" height="10.95" fill="#000"/><rect x="602.408" y="633.7" width="2" height="5.95" fill="#000"/><rect x="619.066" y="633.7" width="2" height="5.95" fill="#000"/><rect x="635.724" y="633.7" width="2" height="5.95" fill="#000"/><rect x="652.382" y="633.7" width="2" height="5.95" fill="#000"/><rect x="668.84" y="633.7" width="2.4" height="10.95" fill="#000"/><rect x="685.698" y="633.7" width="2" height="5.95" fill="#000"/><rect x="702.356" y="633.7" width="2" height="5.95" fill="#000"/><rect x="719.014" y="633.7" width="2" height="5.95" fill="#000"/><rect x="735.672" y="633.7" width="2" height="5.95" fill="#000"/><rect x="752.13" y="633.7" width="2.4" height="10.95" fill="#000"/><rect x="768.988" y="633.7" width="2" height="5.95" fill="#000"/><rect x="785.646" y="633.7" width="2" height="5.95" fill="#000"/><rect x="802.304" y="633.7" width="2" height="5.95" fill="#000"/><rect x="818.962" y="633.7" width="2" height="5.95" fill="#000"/><rect x="835.42" y="633.7" width="2.4" height="10.95" fill="#000"/><rect x="852.278" y="633.7" width="2" height="5.95" fill="#000"/><rect x="868.936" y="633.7" width="2" height="5.95" fill="#000"/><rect x="885.594" y="633.7" width="2" height="5.95" fill="#000"/><rect x="902.252" y="633.7" width="2" height="5.95" fill="#000"/><rect x="918.71" y="633.7" width="2.4" height="10.95" fill="#000"/><rect x="935.568" y="633.7" width="2" height="5.95" fill="#000"/><rect x="952.226" y="633.7" width="2" height="5.95" fill="#000"/><rect x="968.884" y="633.7" width="2" height="5.95" fill="#000"/><rect x="985.542" y="633.7" width="2" height="5.95" fill="#000"/><rect x="1002" y="633.7" width="2.4" height="10.95" fill="#000"/><rect x="1018.86" y="633.7" width="2" height="5.95" fill="#000"/><rect x="1035.52" y="633.7" width="2" height="5.95" fill="#000"/><rect x="1052.17" y="633.7" width="2" height="5.95" fill="#000"/><rect x="1068.83" y="633.7" width="2" height="5.95" fill="#000"/><rect x="1085.29" y="633.7" width="2.4" height="10.95" fill="#000"/><text x="146.3" y="665.5" font-size="17.4" textLength="47.5" lengthAdjust="spacingAndGlyphs">250</text><text x="229.59" y="665.5" font-size="17.4" textLength="47.5" lengthAdjust="spacingAndGlyphs">300</text><text x="312.88" y="665.5" font-size="17.4" textLength="47.5" lengthAdjust="spacingAndGlyphs">350</text><text x="396.17" y="665.5" font-size="17.4" textLength="47.5" lengthAdjust="spacingAndGlyphs">400</text><text x="479.46" y="665.5" font-size="17.4" textLength="47.5" lengthAdjust="spacingAndGlyphs">450</text><text x="562.75" y="665.5" font-size="17.4" textLength="47.5" lengthAdjust="spacingAndGlyphs">500</text><text x="646.04" y="665.5" font-size="17.4" textLength="47.5" lengthAdjust="spacingAndGlyphs">550</text><text x="729.33" y="665.5" font-size="17.4" textLength="47.5" lengthAdjust="spacingAndGlyphs">600</text><text x="812.62" y="665.5" font-size="17.4" textLength="47.5" lengthAdjust="spacingAndGlyphs">650</text><text x="895.91" y="665.5" font-size="17.4" textLength="47.5" lengthAdjust="spacingAndGlyphs">700</text><text x="979.2" y="665.5" font-size="17.4" textLength="47.5" lengthAdjust="spacingAndGlyphs">750</text><text x="1062.49" y="665.5" font-size="17.4" textLength="47.5" lengthAdjust="spacingAndGlyphs">800</text><rect x="1108" y="59" width="54" height="18" fill="#808080"/><rect x="1108" y="77" width="54" height="18.2375" fill="#ff0000"/><rect x="1108" y="94.7375" width="54" height="18.2375" fill="#ff4000"/><rect x="1108" y="112.475" width="54" height="18.2375" fill="#ff8000"/><rect x="1108" y="130.213" width="54" height="18.2375" fill="#ffc000"/><rect x="1108" y="147.95" width="54" height="18.2375" fill="#ffff00"/><rect x="1108" y="165.688" width="54" height="18.2375" fill="#aaff00"/><rect x="1108" y="183.425" width="54" height="18.2375" fill="#55ff00"/><rect x="1108" y="201.163" width="54" height="18.2375" fill="#00ff00"/><rect x="1108" y="218.9" width="54" height="18.2375" fill="#00ff40"/><rect x="1108" y="236.638" width="54" height="18.2375" fill="#00ff80"/><rect x="1108" y="254.375" width="54" height="18.2375" fill="#00ffc0"/><rect x="1108" y="272.113" width="54" height="18.2375" fill="#00ffff"/><rect x="1108" y="289.85" width="54" height="18.2375" fill="#00c0ff"/><rect x="1108" y="307.587" width="54" height="18.2375" fill="#0080ff"/><rect x="1108" y="325.325" width="54" height="18.2375" fill="#0040ff"/><rect x="1108" y="343.062" width="54" height="35.4375" fill="#0000ff"/><text x="1169.5" y="82" font-size="14" textLength="53" lengthAdjust="spacingAndGlyphs">250.0</text><text x="1169.5" y="99.7375" font-size="14" textLength="53" lengthAdjust="spacingAndGlyphs">234.4</text><text x="1169.5" y="117.475" font-size="14" textLength="53" lengthAdjust="spacingAndGlyphs">218.8</text><text x="1169.5" y="135.213" font-size="14" textLength="53" lengthAdjust="spacingAndGlyphs">203.1</text><text x="1169.5" y="152.95" font-size="14" textLength="53" lengthAdjust="spacingAndGlyphs">187.5</text><text x="1169.5" y="170.688" font-size="14" textLength="53" lengthAdjust="spacingAndGlyphs">171.9</text><text x="1169.5" y="188.425" font-size="14" textLength="53" lengthAdjust="spacingAndGlyphs">156.3</text><text x="1169.5" y="206.163" font-size="14" textLength="53" lengthAdjust="spacingAndGlyphs">140.6</text><text x="1169.5" y="223.9" font-size="14" textLength="53" lengthAdjust="spacingAndGlyphs">125.0</text><text x="1169.5" y="241.638" font-size="14" textLength="53" lengthAdjust="spacingAndGlyphs">109.4</text><text x="1169.5" y="259.375" font-size="14" textLength="53" lengthAdjust="spacingAndGlyphs">93.75</text><text x="1169.5" y="277.113" font-size="14" textLength="53" lengthAdjust="spacingAndGlyphs">78.13</text><text x="1169.5" y="294.85" font-size="14" textLength="53" lengthAdjust="spacingAndGlyphs">62.50</text><text x="1169.5" y="312.587" font-size="14" textLength="53" lengthAdjust="spacingAndGlyphs">46.88</text><text x="1169.5" y="330.325" font-size="14" textLength="53" lengthAdjust="spacingAndGlyphs">31.25</text><text x="1169.5" y="348.062" font-size="14" textLength="53" lengthAdjust="spacingAndGlyphs">15.63</text><text x="1169.5" y="365.8" font-size="14" textLength="53" lengthAdjust="spacingAndGlyphs">0.000</text><text x="390.5" y="704.8" font-size="34.5" font-weight="bold" textLength="464.5" lengthAdjust="spacingAndGlyphs">Excitation wavelength (nm)</text><text x="887.5" y="736.9" font-size="29.5" font-weight="bold" textLength="177" lengthAdjust="spacingAndGlyphs">Sample: ARS</text><text x="45.5" y="601.5" font-size="34.5" font-weight="bold" textLength="445" lengthAdjust="spacingAndGlyphs" transform="rotate(-90 45.5 601.5)">Emission wavelength (nm)</text><text x="1246" y="60" font-size="113" font-weight="bold">a</text>
<g clip-path="url(#clipb)"><g filter="url(#jet)"><rect x="115" y="857" width="978" height="622" fill="#000"/><g filter="url(#b16)"><ellipse cx="430" cy="1215" rx="185" ry="72" fill="rgb(27,27,27)" transform="rotate(-25 430 1215)"/><ellipse cx="520" cy="1160" rx="60" ry="25" fill="rgb(30,30,30)" transform="rotate(-10 520 1160)"/><ellipse cx="300" cy="1260" rx="70" ry="80" fill="rgb(28,28,28)"/><ellipse cx="230" cy="1000" rx="40" ry="120" fill="rgb(27,27,27)"/></g><g filter="url(#b8)"><ellipse cx="520" cy="1160" rx="45" ry="16" fill="rgb(47,47,47)" transform="rotate(-15 520 1160)"/><ellipse cx="330" cy="1300" rx="40" ry="22" fill="rgb(39,39,39)" transform="rotate(-35 330 1300)"/></g><g filter="url(#b9)"><ellipse cx="152" cy="915" rx="26" ry="24" fill="rgb(56,56,56)"/><ellipse cx="165" cy="960" rx="40" ry="40" fill="rgb(60,60,60)"/><ellipse cx="170" cy="1020" rx="45" ry="40" fill="rgb(82,82,82)"/><ellipse cx="185" cy="1075" rx="50" ry="70" fill="rgb(112,112,112)"/><ellipse cx="150" cy="1130" rx="30" ry="45" fill="rgb(90,90,90)"/><ellipse cx="205" cy="960" rx="25" ry="50" fill="rgb(61,61,61)"/><ellipse cx="215" cy="1050" rx="18" ry="60" fill="rgb(68,68,68)"/><ellipse cx="160" cy="1230" rx="40" ry="45" fill="rgb(98,98,98)"/></g><g filter="url(#b5)"><ellipse cx="193" cy="1063" rx="34" ry="50" fill="rgb(180,180,180)"/><ellipse cx="160" cy="1100" rx="20" ry="30" fill="rgb(142,142,142)"/><ellipse cx="150" cy="1150" rx="12" ry="16" fill="rgb(105,105,105)"/><ellipse cx="145" cy="1030" rx="10" ry="14" fill="rgb(142,142,142)"/><ellipse cx="200" cy="1000" rx="20" ry="25" fill="rgb(128,128,128)"/><ellipse cx="183" cy="896" rx="16" ry="11" fill="rgb(128,128,128)" transform="rotate(-20 183 896)"/><ellipse cx="156" cy="942" rx="20" ry="13" fill="rgb(128,128,128)" transform="rotate(-20 156 942)"/><ellipse cx="142" cy="985" rx="12" ry="18" fill="rgb(158,158,158)"/><ellipse cx="160" cy="1010" rx="8" ry="6" fill="rgb(22,22,22)"/><ellipse cx="146" cy="1020" rx="6" ry="5" fill="rgb(15,15,15)"/><ellipse cx="150" cy="920" rx="8" ry="5" fill="rgb(12,12,12)"/><ellipse cx="410" cy="882" rx="14" ry="4" fill="rgb(98,98,98)" transform="rotate(-10 410 882)"/></g><g filter="url(#b3)"><polygon points="189.3,1032.9 201.4,1031 210.6,1032 207.8,1043.1 212.5,1054.2 207.8,1065.3 210.6,1076.3 206.9,1084.7 194,1091.1 188.4,1095.8 181,1081.9 178.2,1063.4 179.2,1056 175.5,1048.6 181,1042.1" fill="rgb(237,237,237)" stroke="rgb(237,237,237)" stroke-width="18" stroke-linejoin="round"/><polygon points="175.5,899.8 180.1,892.4 188.4,891.4 189.3,895.1 182.9,898.8" fill="rgb(237,237,237)" stroke="rgb(237,237,237)" stroke-width="5" stroke-linejoin="round"/><polygon points="145.9,948.8 150.5,937.7 164.4,934.9 167.2,939.5 157,946.9" fill="rgb(237,237,237)" stroke="rgb(237,237,237)" stroke-width="5" stroke-linejoin="round"/><polygon points="134,971 144,972.8 149.6,981.1 142.2,993.1 134,1000.5" fill="rgb(237,237,237)" stroke="rgb(237,237,237)" stroke-width="6" stroke-linejoin="round"/></g><g filter="url(#b9)"><polyline points="146.2,1261.5 169.3,1266.4 204,1255.6 215.6,1261.8 227.1,1274.1 238.7,1301 246.4,1320.3 254.1,1339.6 261.8,1364.6 300.3,1355" fill="none" stroke="rgb(48,48,48)" stroke-width="56" stroke-linejoin="round" stroke-linecap="round"/><polyline points="232.9,1139.3 227,1147 177,1208.6 165.5,1227.9 146.2,1261.5" fill="none" stroke="rgb(48,48,48)" stroke-width="44" stroke-linejoin="round" stroke-linecap="round"/></g><g filter="url(#b6)"><polyline points="146.2,1261.5 169.3,1266.4 204,1255.6 215.6,1261.8 227.1,1274.1 238.7,1301 246.4,1320.3 254.1,1339.6 261.8,1364.6 300.3,1355" fill="none" stroke="rgb(188,188,188)" stroke-width="20" stroke-linejoin="round" stroke-linecap="round"/><polyline points="232.9,1139.3 227,1147 177,1208.6 165.5,1227.9 146.2,1261.5" fill="none" stroke="rgb(172,172,172)" stroke-width="14" stroke-linejoin="round" stroke-linecap="round"/><ellipse cx="172" cy="1243" rx="24" ry="14" fill="rgb(150,150,150)" transform="rotate(-25 172 1243)"/></g><g filter="url(#b2_5)"><polyline points="146.2,1261.5 169.3,1266.4 204,1255.6 215.6,1261.8 227.1,1274.1 238.7,1301 246.4,1320.3 254.1,1339.6 261.8,1364.6 300.3,1355" fill="none" stroke="rgb(237,237,237)" stroke-width="7" stroke-linejoin="round" stroke-linecap="round"/></g><g filter="url(#b7)"><polyline points="250,1457 346.5,1385.8 446.7,1316.5" fill="none" stroke="rgb(112,112,112)" stroke-width="30" stroke-linejoin="round" stroke-linecap="round"/></g><g filter="url(#b5)"><polyline points="250.2,1457 346.5,1385.8 446.7,1316.5 485.2,1272.2 496.8,1260.6 523.7,1254.8 560,1229 591.2,1199.1" fill="none" stroke="rgb(135,135,135)" stroke-width="18" stroke-linejoin="round" stroke-linecap="round"/><polyline points="300.3,1355 369.6,1299.1 396.6,1299.1 454.4,1252.9 487.1,1246.3 550.7,1193.2 581.5,1191.3" fill="none" stroke="rgb(128,128,128)" stroke-width="9" stroke-linejoin="round" stroke-linecap="round"/></g><g filter="url(#b2)"><polyline points="346.5,1385.8 446.7,1316.5 485.2,1272.2 496.8,1260.6" fill="none" stroke="rgb(237,237,237)" stroke-width="4" stroke-linejoin="round" stroke-linecap="round"/><polyline points="250.2,1457 346.5,1385.8" fill="none" stroke="rgb(202,202,202)" stroke-width="4" stroke-linejoin="round" stroke-linecap="round"/><polyline points="496.8,1260.6 523.7,1254.8 560,1229 591.2,1199.1" fill="none" stroke="rgb(188,188,188)" stroke-width="3" stroke-linejoin="round" stroke-linecap="round"/></g><g filter="url(#b4)"><polygon points="339,953.6 344.8,960.6 362.1,961.3 404.5,922.8 402.5,915.1 392.9,913.2 375.6,919 342.8,947.9" fill="rgb(158,158,158)" stroke="rgb(158,158,158)" stroke-width="8" stroke-linejoin="round"/><polygon points="265.8,1034.5 275.4,1043 298.5,1042.2 346.7,997.9 348.6,992.2 340.9,987.1 315.9,992.2 269.6,1028.8" fill="rgb(158,158,158)" stroke="rgb(158,158,158)" stroke-width="8" stroke-linejoin="round"/><polygon points="186.8,1120 200.3,1128.9 227.3,1128.9 277.3,1078.8 288.9,1067.3 285.1,1059.6 265.8,1059.6 246.5,1067.3 190.7,1115.4" fill="rgb(158,158,158)" stroke="rgb(158,158,158)" stroke-width="8" stroke-linejoin="round"/></g><g filter="url(#b2)"><polygon points="1040.5,914.1 1050.9,924.5 1075.9,926.6 1075.9,882.9 1042.6,909.9" fill="rgb(237,237,237)" stroke="rgb(237,237,237)" stroke-width="3.5" stroke-linejoin="round"/><polygon points="951.1,967.3 959.4,976.5 984.3,976.5 1034.3,934.9 1025.9,927.4 1001,926.6 953.1,964" fill="rgb(237,237,237)" stroke="rgb(237,237,237)" stroke-width="3.5" stroke-linejoin="round"/><polygon points="859.5,1024.3 869.9,1031.4 897,1031.8 944.8,991 942.7,984.8 934.4,981.5 911.5,981.9 861.6,1020.2" fill="rgb(237,237,237)" stroke="rgb(237,237,237)" stroke-width="3.5" stroke-linejoin="round"/><polygon points="766.8,1078.4 778.4,1086.7 803.4,1087.6 857.5,1041 847.1,1032.7 826.3,1032.7 768,1076.3" fill="rgb(237,237,237)" stroke="rgb(237,237,237)" stroke-width="3.5" stroke-linejoin="round"/><polygon points="674.4,1134.6 684.8,1142.9 711.8,1143.7 768,1095.1 763.9,1088.8 730.6,1088 676.5,1130.4" fill="rgb(237,237,237)" stroke="rgb(237,237,237)" stroke-width="3.5" stroke-linejoin="round"/><polygon points="582.9,1190.7 595.4,1199.1 618.2,1199.1 676.5,1147.1 670.2,1139.6 639,1142.9 585,1186.6" fill="rgb(237,237,237)" stroke="rgb(237,237,237)" stroke-width="3.5" stroke-linejoin="round"/><polygon points="339,953.6 344.8,960.6 362.1,961.3 404.5,922.8 402.5,915.1 392.9,913.2 375.6,919 342.8,947.9" fill="rgb(237,237,237)" stroke="rgb(237,237,237)" stroke-width="3.5" stroke-linejoin="round"/><polygon points="265.8,1034.5 275.4,1043 298.5,1042.2 346.7,997.9 348.6,992.2 340.9,987.1 315.9,992.2 269.6,1028.8" fill="rgb(237,237,237)" stroke="rgb(237,237,237)" stroke-width="3.5" stroke-linejoin="round"/><polygon points="186.8,1120 200.3,1128.9 227.3,1128.9 277.3,1078.8 288.9,1067.3 285.1,1059.6 265.8,1059.6 246.5,1067.3 190.7,1115.4" fill="rgb(237,237,237)" stroke="rgb(237,237,237)" stroke-width="3.5" stroke-linejoin="round"/></g><g filter="url(#b3_5)"><ellipse cx="1037" cy="925" rx="12" ry="7" fill="rgb(165,165,165)" transform="rotate(-20 1037 925)"/><ellipse cx="947" cy="981" rx="11" ry="6" fill="rgb(112,112,112)" transform="rotate(-20 947 981)"/><ellipse cx="855" cy="1035" rx="11" ry="6" fill="rgb(112,112,112)" transform="rotate(-20 855 1035)"/><ellipse cx="766" cy="1090" rx="11" ry="6" fill="rgb(112,112,112)" transform="rotate(-20 766 1090)"/><ellipse cx="674" cy="1142" rx="11" ry="6" fill="rgb(112,112,112)" transform="rotate(-20 674 1142)"/><ellipse cx="583" cy="1194" rx="11" ry="6" fill="rgb(112,112,112)" transform="rotate(-20 583 1194)"/></g><g filter="url(#b4)"><ellipse cx="899.1" cy="1320.6" rx="16.3333" ry="7.41667" fill="rgb(36,36,36)" transform="rotate(-10 899.1 1320.6)"/><ellipse cx="876.2" cy="1337.3" rx="17.4444" ry="7.41667" fill="rgb(36,36,36)" transform="rotate(-5 876.2 1337.3)"/><ellipse cx="1046.7" cy="1395.5" rx="11.8889" ry="6.58333" fill="rgb(36,36,36)"/><ellipse cx="1046.7" cy="1416.3" rx="11.8889" ry="7.41667" fill="rgb(36,36,36)"/><ellipse cx="1042.6" cy="1433" rx="13.5556" ry="7" fill="rgb(36,36,36)"/><ellipse cx="1050.9" cy="1254.1" rx="16.3333" ry="7.83333" fill="rgb(36,36,36)" transform="rotate(20 1050.9 1254.1)"/><ellipse cx="1042.6" cy="1237.4" rx="14.6667" ry="6.58333" fill="rgb(36,36,36)" transform="rotate(30 1042.6 1237.4)"/><ellipse cx="880.3" cy="1291.5" rx="15.2222" ry="6.58333" fill="rgb(36,36,36)" transform="rotate(10 880.3 1291.5)"/><ellipse cx="890.7" cy="1264.5" rx="13.5556" ry="6.16667" fill="rgb(36,36,36)"/><ellipse cx="813.8" cy="1277" rx="19.1111" ry="6.16667" fill="rgb(36,36,36)"/><ellipse cx="805.5" cy="1304" rx="21.8889" ry="6.16667" fill="rgb(36,36,36)" transform="rotate(-5 805.5 1304)"/><ellipse cx="847.1" cy="1254.1" rx="13.5556" ry="5.75" fill="rgb(36,36,36)"/><ellipse cx="1013.5" cy="1343.5" rx="20.5" ry="5.75" fill="rgb(36,36,36)"/><ellipse cx="1017.6" cy="1362.2" rx="21.8889" ry="6.58333" fill="rgb(36,36,36)" transform="rotate(-15 1017.6 1362.2)"/><ellipse cx="1063.4" cy="1337.3" rx="12.4444" ry="6.16667" fill="rgb(36,36,36)" transform="rotate(-10 1063.4 1337.3)"/><ellipse cx="1059.2" cy="1287.4" rx="14.6667" ry="5.75" fill="rgb(36,36,36)" transform="rotate(-10 1059.2 1287.4)"/><ellipse cx="892.8" cy="1381" rx="21.8889" ry="5.95833" fill="rgb(36,36,36)"/><ellipse cx="805.5" cy="1376.8" rx="14.6667" ry="5.75" fill="rgb(36,36,36)"/><ellipse cx="888.7" cy="1412.2" rx="10.7778" ry="9.08333" fill="rgb(36,36,36)" transform="rotate(20 888.7 1412.2)"/><ellipse cx="884.5" cy="1395.5" rx="11.8889" ry="5.75" fill="rgb(36,36,36)" transform="rotate(-10 884.5 1395.5)"/><ellipse cx="924" cy="1411.3" rx="10.7778" ry="7" fill="rgb(36,36,36)"/><ellipse cx="811.7" cy="1433" rx="11.3333" ry="8.66667" fill="rgb(36,36,36)" transform="rotate(-10 811.7 1433)"/><ellipse cx="865.8" cy="1437.1" rx="11.8889" ry="6.58333" fill="rgb(36,36,36)"/><ellipse cx="888.7" cy="1439.2" rx="14.6667" ry="6.16667" fill="rgb(36,36,36)" transform="rotate(30 888.7 1439.2)"/><ellipse cx="793" cy="1403.9" rx="11.8889" ry="7.83333" fill="rgb(36,36,36)" transform="rotate(30 793 1403.9)"/><ellipse cx="734.7" cy="1322.7" rx="14.6667" ry="6.16667" fill="rgb(36,36,36)" transform="rotate(10 734.7 1322.7)"/><ellipse cx="738.9" cy="1337.3" rx="21.8889" ry="5.95833" fill="rgb(36,36,36)" transform="rotate(5 738.9 1337.3)"/><ellipse cx="830.4" cy="1353.9" rx="21.8889" ry="6.16667" fill="rgb(36,36,36)" transform="rotate(25 830.4 1353.9)"/><ellipse cx="992.7" cy="1416.3" rx="11.3333" ry="9.5" fill="rgb(36,36,36)" transform="rotate(-20 992.7 1416.3)"/><ellipse cx="1001" cy="1437.1" rx="19.1111" ry="6.58333" fill="rgb(36,36,36)" transform="rotate(30 1001 1437.1)"/><ellipse cx="967.7" cy="1420.5" rx="16.3333" ry="6.16667" fill="rgb(36,36,36)" transform="rotate(40 967.7 1420.5)"/><ellipse cx="672.3" cy="1420.5" rx="11.8889" ry="9.5" fill="rgb(36,36,36)" transform="rotate(-20 672.3 1420.5)"/><ellipse cx="726.4" cy="1433" rx="11.3333" ry="7.83333" fill="rgb(36,36,36)" transform="rotate(-25 726.4 1433)"/><ellipse cx="732.7" cy="1387.2" rx="16.3333" ry="5.75" fill="rgb(36,36,36)" transform="rotate(-40 732.7 1387.2)"/><ellipse cx="664" cy="1304" rx="19.1111" ry="5.54167" fill="rgb(36,36,36)"/><ellipse cx="738.9" cy="1254.1" rx="14.6667" ry="6.16667" fill="rgb(36,36,36)" transform="rotate(20 738.9 1254.1)"/><ellipse cx="996.8" cy="1262.4" rx="19.1111" ry="6.16667" fill="rgb(36,36,36)" transform="rotate(20 996.8 1262.4)"/><ellipse cx="1013.5" cy="1277" rx="14.6667" ry="6.16667" fill="rgb(36,36,36)" transform="rotate(10 1013.5 1277)"/><ellipse cx="926.1" cy="1258.2" rx="19.1111" ry="6.16667" fill="rgb(36,36,36)" transform="rotate(25 926.1 1258.2)"/><ellipse cx="905.3" cy="1220.8" rx="21.8889" ry="6.16667" fill="rgb(36,36,36)" transform="rotate(10 905.3 1220.8)"/><ellipse cx="988.5" cy="1320.6" rx="21.8889" ry="5.95833" fill="rgb(36,36,36)" transform="rotate(-10 988.5 1320.6)"/><ellipse cx="1030.1" cy="1314.4" rx="13.5556" ry="5.33333" fill="rgb(36,36,36)" transform="rotate(10 1030.1 1314.4)"/><ellipse cx="653.6" cy="1430.9" rx="11.3333" ry="6.58333" fill="rgb(36,36,36)"/><ellipse cx="632.8" cy="1403.9" rx="10.7778" ry="6.16667" fill="rgb(36,36,36)" transform="rotate(30 632.8 1403.9)"/><ellipse cx="585" cy="1381" rx="11.3333" ry="5.33333" fill="rgb(36,36,36)"/><ellipse cx="676.5" cy="1370.6" rx="10.7778" ry="5.54167" fill="rgb(36,36,36)"/><ellipse cx="653.6" cy="1347.7" rx="11.3333" ry="5.54167" fill="rgb(36,36,36)"/><ellipse cx="801.3" cy="1222.9" rx="11.3333" ry="5.75" fill="rgb(36,36,36)"/><ellipse cx="755.5" cy="1243.7" rx="11.3333" ry="6.16667" fill="rgb(36,36,36)" transform="rotate(30 755.5 1243.7)"/><ellipse cx="726.4" cy="1285.3" rx="10.7778" ry="5.54167" fill="rgb(36,36,36)"/><ellipse cx="805.5" cy="1243.7" rx="13.5556" ry="5.75" fill="rgb(36,36,36)"/><ellipse cx="938.6" cy="1337.3" rx="13.5556" ry="5.75" fill="rgb(36,36,36)"/><ellipse cx="909.5" cy="1343.5" rx="16.3333" ry="6.16667" fill="rgb(36,36,36)" transform="rotate(-20 909.5 1343.5)"/><ellipse cx="817.9" cy="895.4" rx="21.8889" ry="7.83333" fill="rgb(36,36,36)" transform="rotate(-10 817.9 895.4)"/><ellipse cx="897" cy="897.4" rx="19.1111" ry="9.5" fill="rgb(36,36,36)" transform="rotate(-20 897 897.4)"/><ellipse cx="743.1" cy="889.1" rx="19.1111" ry="6.58333" fill="rgb(36,36,36)" transform="rotate(10 743.1 889.1)"/><ellipse cx="759.7" cy="899.5" rx="16.3333" ry="6.58333" fill="rgb(36,36,36)" transform="rotate(30 759.7 899.5)"/><ellipse cx="951.1" cy="897.4" rx="19.1111" ry="6.58333" fill="rgb(36,36,36)"/><ellipse cx="1055.1" cy="889.1" rx="13.5556" ry="6.16667" fill="rgb(36,36,36)" transform="rotate(30 1055.1 889.1)"/><ellipse cx="1038.4" cy="957.8" rx="16.3333" ry="6.58333" fill="rgb(36,36,36)"/><ellipse cx="1050.9" cy="980.6" rx="19.1111" ry="6.16667" fill="rgb(36,36,36)"/><ellipse cx="1055.1" cy="1005.6" rx="19.1111" ry="6.16667" fill="rgb(36,36,36)" transform="rotate(-10 1055.1 1005.6)"/><ellipse cx="1055.1" cy="1030.6" rx="14.6667" ry="5.75" fill="rgb(36,36,36)"/><ellipse cx="1038.4" cy="930.7" rx="16.3333" ry="7.41667" fill="rgb(36,36,36)" transform="rotate(-40 1038.4 930.7)"/><ellipse cx="1055.1" cy="939" rx="11.8889" ry="10.75" fill="rgb(36,36,36)" transform="rotate(20 1055.1 939)"/><ellipse cx="655.7" cy="889.1" rx="16.3333" ry="6.58333" fill="rgb(36,36,36)" transform="rotate(30 655.7 889.1)"/><ellipse cx="709.8" cy="934.9" rx="16.3333" ry="5.75" fill="rgb(36,36,36)"/><ellipse cx="743.1" cy="957.8" rx="19.1111" ry="6.58333" fill="rgb(36,36,36)" transform="rotate(20 743.1 957.8)"/><ellipse cx="684.8" cy="1009.8" rx="13.5556" ry="6.58333" fill="rgb(36,36,36)"/><ellipse cx="713.9" cy="978.6" rx="13.5556" ry="5.75" fill="rgb(36,36,36)" transform="rotate(10 713.9 978.6)"/><ellipse cx="676.5" cy="970.2" rx="16.3333" ry="5.54167" fill="rgb(36,36,36)"/><ellipse cx="805.5" cy="939" rx="19.1111" ry="6.58333" fill="rgb(36,36,36)"/><ellipse cx="859.5" cy="951.5" rx="21.8889" ry="7" fill="rgb(36,36,36)" transform="rotate(-10 859.5 951.5)"/><ellipse cx="876.2" cy="922.4" rx="16.3333" ry="6.58333" fill="rgb(36,36,36)" transform="rotate(20 876.2 922.4)"/><ellipse cx="830.4" cy="922.4" rx="16.3333" ry="6.16667" fill="rgb(36,36,36)" transform="rotate(10 830.4 922.4)"/><ellipse cx="884.5" cy="980.6" rx="16.3333" ry="6.58333" fill="rgb(36,36,36)"/><ellipse cx="780.5" cy="997.3" rx="16.3333" ry="7" fill="rgb(36,36,36)" transform="rotate(-20 780.5 997.3)"/><ellipse cx="826.3" cy="970.2" rx="19.1111" ry="5.75" fill="rgb(36,36,36)"/><ellipse cx="842.9" cy="1018.1" rx="13.5556" ry="7.41667" fill="rgb(36,36,36)"/><ellipse cx="743.1" cy="1034.7" rx="21.8889" ry="6.16667" fill="rgb(36,36,36)"/><ellipse cx="747.2" cy="1057.6" rx="19.1111" ry="6.16667" fill="rgb(36,36,36)"/><ellipse cx="655.7" cy="1051.4" rx="16.3333" ry="6.16667" fill="rgb(36,36,36)"/><ellipse cx="655.7" cy="1103.4" rx="14.6667" ry="6.16667" fill="rgb(36,36,36)"/><ellipse cx="847.1" cy="1059.7" rx="13.5556" ry="10.75" fill="rgb(36,36,36)" transform="rotate(-20 847.1 1059.7)"/><ellipse cx="859.5" cy="1084.7" rx="16.3333" ry="7.83333" fill="rgb(36,36,36)" transform="rotate(30 859.5 1084.7)"/><ellipse cx="905.3" cy="1076.3" rx="11.8889" ry="7.83333" fill="rgb(36,36,36)"/><ellipse cx="913.6" cy="1095.1" rx="16.3333" ry="6.58333" fill="rgb(36,36,36)" transform="rotate(20 913.6 1095.1)"/><ellipse cx="805.5" cy="1126.3" rx="24.6667" ry="7" fill="rgb(36,36,36)"/><ellipse cx="901.1" cy="1122.1" rx="30.2222" ry="6.58333" fill="rgb(36,36,36)"/><ellipse cx="1030.1" cy="1122.1" rx="16.3333" ry="6.58333" fill="rgb(36,36,36)"/><ellipse cx="1030.1" cy="1145" rx="11.8889" ry="6.58333" fill="rgb(36,36,36)"/><ellipse cx="1017.6" cy="1093" rx="16.3333" ry="7.41667" fill="rgb(36,36,36)" transform="rotate(-20 1017.6 1093)"/><ellipse cx="1009.3" cy="1055.5" rx="19.1111" ry="7" fill="rgb(36,36,36)" transform="rotate(20 1009.3 1055.5)"/><ellipse cx="1059.2" cy="1051.4" rx="12.4444" ry="6.58333" fill="rgb(36,36,36)"/><ellipse cx="1055.1" cy="1032.7" rx="11.8889" ry="5.75" fill="rgb(36,36,36)"/><ellipse cx="1069.6" cy="1109.6" rx="10.2222" ry="10.75" fill="rgb(36,36,36)"/><ellipse cx="1069.6" cy="1130.4" rx="10.2222" ry="7.83333" fill="rgb(36,36,36)"/><ellipse cx="1013.5" cy="1005.6" rx="16.3333" ry="6.16667" fill="rgb(36,36,36)"/><ellipse cx="1001" cy="1018.1" rx="13.5556" ry="7.41667" fill="rgb(36,36,36)" transform="rotate(30 1001 1018.1)"/><ellipse cx="826.3" cy="1167.9" rx="21.8889" ry="6.58333" fill="rgb(36,36,36)" transform="rotate(10 826.3 1167.9)"/><ellipse cx="876.2" cy="1182.4" rx="19.1111" ry="6.16667" fill="rgb(36,36,36)" transform="rotate(10 876.2 1182.4)"/><ellipse cx="917.8" cy="1176.2" rx="14.6667" ry="6.58333" fill="rgb(36,36,36)" transform="rotate(20 917.8 1176.2)"/><ellipse cx="880.3" cy="1213.6" rx="21.8889" ry="6.58333" fill="rgb(36,36,36)" transform="rotate(10 880.3 1213.6)"/><ellipse cx="805.5" cy="1221.9" rx="13.5556" ry="6.58333" fill="rgb(36,36,36)"/><ellipse cx="913.6" cy="1201.1" rx="12.4444" ry="6.58333" fill="rgb(36,36,36)"/><ellipse cx="1013.5" cy="1167.9" rx="19.1111" ry="6.58333" fill="rgb(36,36,36)" transform="rotate(30 1013.5 1167.9)"/><ellipse cx="1005.1" cy="1209.5" rx="13.5556" ry="5.75" fill="rgb(36,36,36)"/><ellipse cx="1055.1" cy="1211.5" rx="11.8889" ry="6.16667" fill="rgb(36,36,36)"/><ellipse cx="1055.1" cy="1236.5" rx="16.3333" ry="7.41667" fill="rgb(36,36,36)" transform="rotate(30 1055.1 1236.5)"/><ellipse cx="743.1" cy="1182.4" rx="10.7778" ry="5.75" fill="rgb(36,36,36)"/><ellipse cx="755.5" cy="1240.7" rx="13.5556" ry="6.16667" fill="rgb(36,36,36)"/><ellipse cx="892.8" cy="1238.6" rx="10.7778" ry="7.83333" fill="rgb(36,36,36)"/><ellipse cx="572.5" cy="1151.2" rx="19.1111" ry="7.41667" fill="rgb(36,36,36)" transform="rotate(-20 572.5 1151.2)"/><ellipse cx="576.6" cy="1126.3" rx="19.1111" ry="6.16667" fill="rgb(36,36,36)" transform="rotate(-10 576.6 1126.3)"/><ellipse cx="585" cy="1172" rx="16.3333" ry="8.66667" fill="rgb(36,36,36)" transform="rotate(-40 585 1172)"/><ellipse cx="926.1" cy="993.1" rx="16.3333" ry="7.41667" fill="rgb(36,36,36)" transform="rotate(-20 926.1 993.1)"/><ellipse cx="959.4" cy="984.8" rx="14.6667" ry="6.16667" fill="rgb(36,36,36)" transform="rotate(20 959.4 984.8)"/><ellipse cx="1001" cy="984.8" rx="14.6667" ry="6.58333" fill="rgb(36,36,36)" transform="rotate(30 1001 984.8)"/><ellipse cx="851.2" cy="1043.1" rx="14.6667" ry="7.41667" fill="rgb(36,36,36)" transform="rotate(30 851.2 1043.1)"/><ellipse cx="797.1" cy="1093" rx="16.3333" ry="6.58333" fill="rgb(36,36,36)" transform="rotate(30 797.1 1093)"/><ellipse cx="668.2" cy="1151.2" rx="16.3333" ry="6.58333" fill="rgb(36,36,36)" transform="rotate(-30 668.2 1151.2)"/><ellipse cx="1048" cy="1406" rx="18" ry="22" fill="rgb(36,36,36)"/><ellipse cx="1049" cy="1397" rx="14" ry="9" fill="rgb(36,36,36)"/><ellipse cx="1050.5" cy="1411" rx="14" ry="10" fill="rgb(36,36,36)"/><ellipse cx="1052" cy="938" rx="17" ry="10" fill="rgb(36,36,36)" transform="rotate(30 1052 938)"/></g><g filter="url(#b2_5)"><ellipse cx="899.1" cy="1320.6" rx="11.3333" ry="4.41667" fill="rgb(93,93,93)" transform="rotate(-10 899.1 1320.6)"/><ellipse cx="876.2" cy="1337.3" rx="12.4444" ry="4.41667" fill="rgb(87,87,87)" transform="rotate(-5 876.2 1337.3)"/><ellipse cx="1046.7" cy="1395.5" rx="6.88889" ry="3.58333" fill="rgb(117,117,117)"/><ellipse cx="1046.7" cy="1416.3" rx="6.88889" ry="4.41667" fill="rgb(117,117,117)"/><ellipse cx="1042.6" cy="1433" rx="8.55556" ry="4" fill="rgb(57,57,57)"/><ellipse cx="1050.9" cy="1254.1" rx="11.3333" ry="4.83333" fill="rgb(57,57,57)" transform="rotate(20 1050.9 1254.1)"/><ellipse cx="1042.6" cy="1237.4" rx="9.66667" ry="3.58333" fill="rgb(51,51,51)" transform="rotate(30 1042.6 1237.4)"/><ellipse cx="880.3" cy="1291.5" rx="10.2222" ry="3.58333" fill="rgb(69,69,69)" transform="rotate(10 880.3 1291.5)"/><ellipse cx="890.7" cy="1264.5" rx="8.55556" ry="3.16667" fill="rgb(57,57,57)"/><ellipse cx="813.8" cy="1277" rx="14.1111" ry="3.16667" fill="rgb(51,51,51)"/><ellipse cx="805.5" cy="1304" rx="16.8889" ry="3.16667" fill="rgb(45,45,45)" transform="rotate(-5 805.5 1304)"/><ellipse cx="847.1" cy="1254.1" rx="8.55556" ry="2.75" fill="rgb(45,45,45)"/><ellipse cx="1013.5" cy="1343.5" rx="15.5" ry="2.75" fill="rgb(63,63,63)"/><ellipse cx="1017.6" cy="1362.2" rx="16.8889" ry="3.58333" fill="rgb(51,51,51)" transform="rotate(-15 1017.6 1362.2)"/><ellipse cx="1063.4" cy="1337.3" rx="7.44444" ry="3.16667" fill="rgb(69,69,69)" transform="rotate(-10 1063.4 1337.3)"/><ellipse cx="1059.2" cy="1287.4" rx="9.66667" ry="2.75" fill="rgb(51,51,51)" transform="rotate(-10 1059.2 1287.4)"/><ellipse cx="892.8" cy="1381" rx="16.8889" ry="2.95833" fill="rgb(57,57,57)"/><ellipse cx="805.5" cy="1376.8" rx="9.66667" ry="2.75" fill="rgb(51,51,51)"/><ellipse cx="888.7" cy="1412.2" rx="5.77778" ry="6.08333" fill="rgb(69,69,69)" transform="rotate(20 888.7 1412.2)"/><ellipse cx="884.5" cy="1395.5" rx="6.88889" ry="2.75" fill="rgb(57,57,57)" transform="rotate(-10 884.5 1395.5)"/><ellipse cx="924" cy="1411.3" rx="5.77778" ry="4" fill="rgb(63,63,63)"/><ellipse cx="811.7" cy="1433" rx="6.33333" ry="5.66667" fill="rgb(69,69,69)" transform="rotate(-10 811.7 1433)"/><ellipse cx="865.8" cy="1437.1" rx="6.88889" ry="3.58333" fill="rgb(51,51,51)"/><ellipse cx="888.7" cy="1439.2" rx="9.66667" ry="3.16667" fill="rgb(45,45,45)" transform="rotate(30 888.7 1439.2)"/><ellipse cx="793" cy="1403.9" rx="6.88889" ry="4.83333" fill="rgb(45,45,45)" transform="rotate(30 793 1403.9)"/><ellipse cx="734.7" cy="1322.7" rx="9.66667" ry="3.16667" fill="rgb(45,45,45)" transform="rotate(10 734.7 1322.7)"/><ellipse cx="738.9" cy="1337.3" rx="16.8889" ry="2.95833" fill="rgb(45,45,45)" transform="rotate(5 738.9 1337.3)"/><ellipse cx="830.4" cy="1353.9" rx="16.8889" ry="3.16667" fill="rgb(45,45,45)" transform="rotate(25 830.4 1353.9)"/><ellipse cx="992.7" cy="1416.3" rx="6.33333" ry="6.5" fill="rgb(45,45,45)" transform="rotate(-20 992.7 1416.3)"/><ellipse cx="1001" cy="1437.1" rx="14.1111" ry="3.58333" fill="rgb(45,45,45)" transform="rotate(30 1001 1437.1)"/><ellipse cx="967.7" cy="1420.5" rx="11.3333" ry="3.16667" fill="rgb(39,39,39)" transform="rotate(40 967.7 1420.5)"/><ellipse cx="672.3" cy="1420.5" rx="6.88889" ry="6.5" fill="rgb(39,39,39)" transform="rotate(-20 672.3 1420.5)"/><ellipse cx="726.4" cy="1433" rx="6.33333" ry="4.83333" fill="rgb(39,39,39)" transform="rotate(-25 726.4 1433)"/><ellipse cx="732.7" cy="1387.2" rx="11.3333" ry="2.75" fill="rgb(39,39,39)" transform="rotate(-40 732.7 1387.2)"/><ellipse cx="664" cy="1304" rx="14.1111" ry="2.54167" fill="rgb(39,39,39)"/><ellipse cx="738.9" cy="1254.1" rx="9.66667" ry="3.16667" fill="rgb(39,39,39)" transform="rotate(20 738.9 1254.1)"/><ellipse cx="996.8" cy="1262.4" rx="14.1111" ry="3.16667" fill="rgb(39,39,39)" transform="rotate(20 996.8 1262.4)"/><ellipse cx="1013.5" cy="1277" rx="9.66667" ry="3.16667" fill="rgb(45,45,45)" transform="rotate(10 1013.5 1277)"/><ellipse cx="926.1" cy="1258.2" rx="14.1111" ry="3.16667" fill="rgb(39,39,39)" transform="rotate(25 926.1 1258.2)"/><ellipse cx="905.3" cy="1220.8" rx="16.8889" ry="3.16667" fill="rgb(39,39,39)" transform="rotate(10 905.3 1220.8)"/><ellipse cx="988.5" cy="1320.6" rx="16.8889" ry="2.95833" fill="rgb(45,45,45)" transform="rotate(-10 988.5 1320.6)"/><ellipse cx="1030.1" cy="1314.4" rx="8.55556" ry="2.33333" fill="rgb(45,45,45)" transform="rotate(10 1030.1 1314.4)"/><ellipse cx="653.6" cy="1430.9" rx="6.33333" ry="3.58333" fill="rgb(39,39,39)"/><ellipse cx="632.8" cy="1403.9" rx="5.77778" ry="3.16667" fill="rgb(39,39,39)" transform="rotate(30 632.8 1403.9)"/><ellipse cx="585" cy="1381" rx="6.33333" ry="2.33333" fill="rgb(39,39,39)"/><ellipse cx="676.5" cy="1370.6" rx="5.77778" ry="2.54167" fill="rgb(39,39,39)"/><ellipse cx="653.6" cy="1347.7" rx="6.33333" ry="2.54167" fill="rgb(39,39,39)"/><ellipse cx="801.3" cy="1222.9" rx="6.33333" ry="2.75" fill="rgb(39,39,39)"/><ellipse cx="755.5" cy="1243.7" rx="6.33333" ry="3.16667" fill="rgb(39,39,39)" transform="rotate(30 755.5 1243.7)"/><ellipse cx="726.4" cy="1285.3" rx="5.77778" ry="2.54167" fill="rgb(39,39,39)"/><ellipse cx="805.5" cy="1243.7" rx="8.55556" ry="2.75" fill="rgb(39,39,39)"/><ellipse cx="938.6" cy="1337.3" rx="8.55556" ry="2.75" fill="rgb(39,39,39)"/><ellipse cx="909.5" cy="1343.5" rx="11.3333" ry="3.16667" fill="rgb(39,39,39)" transform="rotate(-20 909.5 1343.5)"/><ellipse cx="817.9" cy="895.4" rx="16.8889" ry="4.83333" fill="rgb(63,63,63)" transform="rotate(-10 817.9 895.4)"/><ellipse cx="897" cy="897.4" rx="14.1111" ry="6.5" fill="rgb(69,69,69)" transform="rotate(-20 897 897.4)"/><ellipse cx="743.1" cy="889.1" rx="14.1111" ry="3.58333" fill="rgb(45,45,45)" transform="rotate(10 743.1 889.1)"/><ellipse cx="759.7" cy="899.5" rx="11.3333" ry="3.58333" fill="rgb(45,45,45)" transform="rotate(30 759.7 899.5)"/><ellipse cx="951.1" cy="897.4" rx="14.1111" ry="3.58333" fill="rgb(45,45,45)"/><ellipse cx="1055.1" cy="889.1" rx="8.55556" ry="3.16667" fill="rgb(69,69,69)" transform="rotate(30 1055.1 889.1)"/><ellipse cx="1038.4" cy="957.8" rx="11.3333" ry="3.58333" fill="rgb(63,63,63)"/><ellipse cx="1050.9" cy="980.6" rx="14.1111" ry="3.16667" fill="rgb(51,51,51)"/><ellipse cx="1055.1" cy="1005.6" rx="14.1111" ry="3.16667" fill="rgb(51,51,51)" transform="rotate(-10 1055.1 1005.6)"/><ellipse cx="1055.1" cy="1030.6" rx="9.66667" ry="2.75" fill="rgb(51,51,51)"/><ellipse cx="1038.4" cy="930.7" rx="11.3333" ry="4.41667" fill="rgb(81,81,81)" transform="rotate(-40 1038.4 930.7)"/><ellipse cx="1055.1" cy="939" rx="6.88889" ry="7.75" fill="rgb(69,69,69)" transform="rotate(20 1055.1 939)"/><ellipse cx="655.7" cy="889.1" rx="11.3333" ry="3.58333" fill="rgb(39,39,39)" transform="rotate(30 655.7 889.1)"/><ellipse cx="709.8" cy="934.9" rx="11.3333" ry="2.75" fill="rgb(39,39,39)"/><ellipse cx="743.1" cy="957.8" rx="14.1111" ry="3.58333" fill="rgb(39,39,39)" transform="rotate(20 743.1 957.8)"/><ellipse cx="684.8" cy="1009.8" rx="8.55556" ry="3.58333" fill="rgb(39,39,39)"/><ellipse cx="713.9" cy="978.6" rx="8.55556" ry="2.75" fill="rgb(39,39,39)" transform="rotate(10 713.9 978.6)"/><ellipse cx="676.5" cy="970.2" rx="11.3333" ry="2.54167" fill="rgb(39,39,39)"/><ellipse cx="805.5" cy="939" rx="14.1111" ry="3.58333" fill="rgb(45,45,45)"/><ellipse cx="859.5" cy="951.5" rx="16.8889" ry="4" fill="rgb(51,51,51)" transform="rotate(-10 859.5 951.5)"/><ellipse cx="876.2" cy="922.4" rx="11.3333" ry="3.58333" fill="rgb(45,45,45)" transform="rotate(20 876.2 922.4)"/><ellipse cx="830.4" cy="922.4" rx="11.3333" ry="3.16667" fill="rgb(39,39,39)" transform="rotate(10 830.4 922.4)"/><ellipse cx="884.5" cy="980.6" rx="11.3333" ry="3.58333" fill="rgb(45,45,45)"/><ellipse cx="780.5" cy="997.3" rx="11.3333" ry="4" fill="rgb(45,45,45)" transform="rotate(-20 780.5 997.3)"/><ellipse cx="826.3" cy="970.2" rx="14.1111" ry="2.75" fill="rgb(39,39,39)"/><ellipse cx="842.9" cy="1018.1" rx="8.55556" ry="4.41667" fill="rgb(45,45,45)"/><ellipse cx="743.1" cy="1034.7" rx="16.8889" ry="3.16667" fill="rgb(39,39,39)"/><ellipse cx="747.2" cy="1057.6" rx="14.1111" ry="3.16667" fill="rgb(39,39,39)"/><ellipse cx="655.7" cy="1051.4" rx="11.3333" ry="3.16667" fill="rgb(39,39,39)"/><ellipse cx="655.7" cy="1103.4" rx="9.66667" ry="3.16667" fill="rgb(39,39,39)"/><ellipse cx="847.1" cy="1059.7" rx="8.55556" ry="7.75" fill="rgb(45,45,45)" transform="rotate(-20 847.1 1059.7)"/><ellipse cx="859.5" cy="1084.7" rx="11.3333" ry="4.83333" fill="rgb(39,39,39)" transform="rotate(30 859.5 1084.7)"/><ellipse cx="905.3" cy="1076.3" rx="6.88889" ry="4.83333" fill="rgb(39,39,39)"/><ellipse cx="913.6" cy="1095.1" rx="11.3333" ry="3.58333" fill="rgb(39,39,39)" transform="rotate(20 913.6 1095.1)"/><ellipse cx="805.5" cy="1126.3" rx="19.6667" ry="4" fill="rgb(39,39,39)"/><ellipse cx="901.1" cy="1122.1" rx="25.2222" ry="3.58333" fill="rgb(39,39,39)"/><ellipse cx="1030.1" cy="1122.1" rx="11.3333" ry="3.58333" fill="rgb(51,51,51)"/><ellipse cx="1030.1" cy="1145" rx="6.88889" ry="3.58333" fill="rgb(39,39,39)"/><ellipse cx="1017.6" cy="1093" rx="11.3333" ry="4.41667" fill="rgb(45,45,45)" transform="rotate(-20 1017.6 1093)"/><ellipse cx="1009.3" cy="1055.5" rx="14.1111" ry="4" fill="rgb(45,45,45)" transform="rotate(20 1009.3 1055.5)"/><ellipse cx="1059.2" cy="1051.4" rx="7.44444" ry="3.58333" fill="rgb(51,51,51)"/><ellipse cx="1055.1" cy="1032.7" rx="6.88889" ry="2.75" fill="rgb(45,45,45)"/><ellipse cx="1069.6" cy="1109.6" rx="5.22222" ry="7.75" fill="rgb(69,69,69)"/><ellipse cx="1069.6" cy="1130.4" rx="5.22222" ry="4.83333" fill="rgb(45,45,45)"/><ellipse cx="1013.5" cy="1005.6" rx="11.3333" ry="3.16667" fill="rgb(45,45,45)"/><ellipse cx="1001" cy="1018.1" rx="8.55556" ry="4.41667" fill="rgb(39,39,39)" transform="rotate(30 1001 1018.1)"/><ellipse cx="826.3" cy="1167.9" rx="16.8889" ry="3.58333" fill="rgb(39,39,39)" transform="rotate(10 826.3 1167.9)"/><ellipse cx="876.2" cy="1182.4" rx="14.1111" ry="3.16667" fill="rgb(39,39,39)" transform="rotate(10 876.2 1182.4)"/><ellipse cx="917.8" cy="1176.2" rx="9.66667" ry="3.58333" fill="rgb(39,39,39)" transform="rotate(20 917.8 1176.2)"/><ellipse cx="880.3" cy="1213.6" rx="16.8889" ry="3.58333" fill="rgb(39,39,39)" transform="rotate(10 880.3 1213.6)"/><ellipse cx="805.5" cy="1221.9" rx="8.55556" ry="3.58333" fill="rgb(39,39,39)"/><ellipse cx="913.6" cy="1201.1" rx="7.44444" ry="3.58333" fill="rgb(39,39,39)"/><ellipse cx="1013.5" cy="1167.9" rx="14.1111" ry="3.58333" fill="rgb(39,39,39)" transform="rotate(30 1013.5 1167.9)"/><ellipse cx="1005.1" cy="1209.5" rx="8.55556" ry="2.75" fill="rgb(39,39,39)"/><ellipse cx="1055.1" cy="1211.5" rx="6.88889" ry="3.16667" fill="rgb(39,39,39)"/><ellipse cx="1055.1" cy="1236.5" rx="11.3333" ry="4.41667" fill="rgb(45,45,45)" transform="rotate(30 1055.1 1236.5)"/><ellipse cx="743.1" cy="1182.4" rx="5.77778" ry="2.75" fill="rgb(39,39,39)"/><ellipse cx="755.5" cy="1240.7" rx="8.55556" ry="3.16667" fill="rgb(39,39,39)"/><ellipse cx="892.8" cy="1238.6" rx="5.77778" ry="4.83333" fill="rgb(39,39,39)"/><ellipse cx="572.5" cy="1151.2" rx="14.1111" ry="4.41667" fill="rgb(39,39,39)" transform="rotate(-20 572.5 1151.2)"/><ellipse cx="576.6" cy="1126.3" rx="14.1111" ry="3.16667" fill="rgb(39,39,39)" transform="rotate(-10 576.6 1126.3)"/><ellipse cx="585" cy="1172" rx="11.3333" ry="5.66667" fill="rgb(40,40,40)" transform="rotate(-40 585 1172)"/><ellipse cx="926.1" cy="993.1" rx="11.3333" ry="4.41667" fill="rgb(45,45,45)" transform="rotate(-20 926.1 993.1)"/><ellipse cx="959.4" cy="984.8" rx="9.66667" ry="3.16667" fill="rgb(45,45,45)" transform="rotate(20 959.4 984.8)"/><ellipse cx="1001" cy="984.8" rx="9.66667" ry="3.58333" fill="rgb(51,51,51)" transform="rotate(30 1001 984.8)"/><ellipse cx="851.2" cy="1043.1" rx="9.66667" ry="4.41667" fill="rgb(47,47,47)" transform="rotate(30 851.2 1043.1)"/><ellipse cx="797.1" cy="1093" rx="11.3333" ry="3.58333" fill="rgb(45,45,45)" transform="rotate(30 797.1 1093)"/><ellipse cx="668.2" cy="1151.2" rx="11.3333" ry="3.58333" fill="rgb(45,45,45)" transform="rotate(-30 668.2 1151.2)"/><ellipse cx="1048" cy="1406" rx="13" ry="19" fill="rgb(75,75,75)"/><ellipse cx="1049" cy="1397" rx="9" ry="6" fill="rgb(188,188,188)"/><ellipse cx="1050.5" cy="1411" rx="9" ry="7" fill="rgb(188,188,188)"/><ellipse cx="1052" cy="938" rx="12" ry="7" fill="rgb(90,90,90)" transform="rotate(30 1052 938)"/></g></g><polygon points="133,1181.6 196.3,1135.4 202,1130.8 227,1130.8 232.9,1139.3 227,1147 177,1208.6 165.5,1227.9 146.2,1261.5 169.3,1266.4 204,1255.6 215.6,1261.8 227.1,1274.1 238.7,1301 246.4,1320.3 254.1,1339.6 257.9,1351.1 261.8,1364.6 267.6,1359.6 300.3,1355 369.6,1299.1 396.6,1299.1 454.4,1252.9 462.1,1246.3 487.1,1246.3 550.7,1193.2 556.5,1191.3 581.5,1191.3 591.2,1199.1 560,1229 523.7,1254.8 496.8,1260.6 485.2,1272.2 446.7,1316.5 346.5,1385.8 250.2,1457 250,1462 133,1462" fill="#808080"/><polygon points="339,953.6 344.8,960.6 362.1,961.3 404.5,922.8 402.5,915.1 392.9,913.2 375.6,919 342.8,947.9" fill="#808080"/><polygon points="265.8,1034.5 275.4,1043 298.5,1042.2 346.7,997.9 348.6,992.2 340.9,987.1 315.9,992.2 269.6,1028.8" fill="#808080"/><polygon points="186.8,1120 200.3,1128.9 227.3,1128.9 277.3,1078.8 288.9,1067.3 285.1,1059.6 265.8,1059.6 246.5,1067.3 190.7,1115.4" fill="#808080"/><polygon points="189.3,1032.9 201.4,1031 210.6,1032 207.8,1043.1 212.5,1054.2 207.8,1065.3 210.6,1076.3 206.9,1084.7 194,1091.1 188.4,1095.8 181,1081.9 178.2,1063.4 179.2,1056 175.5,1048.6 181,1042.1" fill="#808080"/><polygon points="175.5,899.8 180.1,892.4 188.4,891.4 189.3,895.1 182.9,898.8" fill="#808080"/><polygon points="145.9,948.8 150.5,937.7 164.4,934.9 167.2,939.5 157,946.9" fill="#808080"/><polygon points="134,971 144,972.8 149.6,981.1 142.2,993.1 134,1000.5" fill="#808080"/><polygon points="1040.5,914.1 1050.9,924.5 1075.9,926.6 1075.9,882.9 1042.6,909.9" fill="#808080"/><polygon points="951.1,967.3 959.4,976.5 984.3,976.5 1034.3,934.9 1025.9,927.4 1001,926.6 953.1,964" fill="#808080"/><polygon points="859.5,1024.3 869.9,1031.4 897,1031.8 944.8,991 942.7,984.8 934.4,981.5 911.5,981.9 861.6,1020.2" fill="#808080"/><polygon points="766.8,1078.4 778.4,1086.7 803.4,1087.6 857.5,1041 847.1,1032.7 826.3,1032.7 768,1076.3" fill="#808080"/><polygon points="674.4,1134.6 684.8,1142.9 711.8,1143.7 768,1095.1 763.9,1088.8 730.6,1088 676.5,1130.4" fill="#808080"/><polygon points="582.9,1190.7 595.4,1199.1 618.2,1199.1 676.5,1147.1 670.2,1139.6 639,1142.9 585,1186.6" fill="#808080"/></g>
<rect x="133.1" y="876" width="2.8" height="583.7" fill="#000"/><rect x="133.1" y="1458.1" width="939.1" height="1.6" fill="#000"/><rect x="128.9" y="881.068" width="5.6" height="1.8" fill="#000"/><rect x="128.9" y="891.034" width="5.6" height="1.8" fill="#000"/><rect x="122" y="900.85" width="12.5" height="2.1" fill="#000"/><rect x="128.9" y="910.966" width="5.6" height="1.8" fill="#000"/><rect x="128.9" y="920.932" width="5.6" height="1.8" fill="#000"/><rect x="128.9" y="930.898" width="5.6" height="1.8" fill="#000"/><rect x="128.9" y="940.864" width="5.6" height="1.8" fill="#000"/><rect x="122" y="950.68" width="12.5" height="2.1" fill="#000"/><rect x="128.9" y="960.796" width="5.6" height="1.8" fill="#000"/><rect x="128.9" y="970.762" width="5.6" height="1.8" fill="#000"/><rect x="128.9" y="980.728" width="5.6" height="1.8" fill="#000"/><rect x="128.9" y="990.694" width="5.6" height="1.8" fill="#000"/><rect x="122" y="1000.51" width="12.5" height="2.1" fill="#000"/><rect x="128.9" y="1010.63" width="5.6" height="1.8" fill="#000"/><rect x="128.9" y="1020.59" width="5.6" height="1.8" fill="#000"/><rect x="128.9" y="1030.56" width="5.6" height="1.8" fill="#000"/><rect x="128.9" y="1040.52" width="5.6" height="1.8" fill="#000"/><rect x="122" y="1050.34" width="12.5" height="2.1" fill="#000"/><rect x="128.9" y="1060.46" width="5.6" height="1.8" fill="#000"/><rect x="128.9" y="1070.42" width="5.6" height="1.8" fill="#000"/><rect x="128.9" y="1080.39" width="5.6" height="1.8" fill="#000"/><rect x="128.9" y="1090.35" width="5.6" height="1.8" fill="#000"/><rect x="122" y="1100.17" width="12.5" height="2.1" fill="#000"/><rect x="128.9" y="1110.29" width="5.6" height="1.8" fill="#000"/><rect x="128.9" y="1120.25" width="5.6" height="1.8" fill="#000"/><rect x="128.9" y="1130.22" width="5.6" height="1.8" fill="#000"/><rect x="128.9" y="1140.18" width="5.6" height="1.8" fill="#000"/><rect x="122" y="1150" width="12.5" height="2.1" fill="#000"/><rect x="128.9" y="1160.12" width="5.6" height="1.8" fill="#000"/><rect x="128.9" y="1170.08" width="5.6" height="1.8" fill="#000"/><rect x="128.9" y="1180.05" width="5.6" height="1.8" fill="#000"/><rect x="128.9" y="1190.01" width="5.6" height="1.8" fill="#000"/><rect x="122" y="1199.83" width="12.5" height="2.1" fill="#000"/><rect x="128.9" y="1209.95" width="5.6" height="1.8" fill="#000"/><rect x="128.9" y="1219.91" width="5.6" height="1.8" fill="#000"/><rect x="128.9" y="1229.88" width="5.6" height="1.8" fill="#000"/><rect x="128.9" y="1239.84" width="5.6" height="1.8" fill="#000"/><rect x="122" y="1249.66" width="12.5" height="2.1" fill="#000"/><rect x="128.9" y="1259.78" width="5.6" height="1.8" fill="#000"/><rect x="128.9" y="1269.74" width="5.6" height="1.8" fill="#000"/><rect x="128.9" y="1279.71" width="5.6" height="1.8" fill="#000"/><rect x="128.9" y="1289.67" width="5.6" height="1.8" fill="#000"/><rect x="122" y="1299.49" width="12.5" height="2.1" fill="#000"/><rect x="128.9" y="1309.61" width="5.6" height="1.8" fill="#000"/><rect x="128.9" y="1319.57" width="5.6" height="1.8" fill="#000"/><rect x="128.9" y="1329.54" width="5.6" height="1.8" fill="#000"/><rect x="128.9" y="1339.5" width="5.6" height="1.8" fill="#000"/><rect x="122" y="1349.32" width="12.5" height="2.1" fill="#000"/><rect x="128.9" y="1359.44" width="5.6" height="1.8" fill="#000"/><rect x="128.9" y="1369.4" width="5.6" height="1.8" fill="#000"/><rect x="128.9" y="1379.37" width="5.6" height="1.8" fill="#000"/><rect x="128.9" y="1389.33" width="5.6" height="1.8" fill="#000"/><rect x="122" y="1399.15" width="12.5" height="2.1" fill="#000"/><rect x="128.9" y="1409.27" width="5.6" height="1.8" fill="#000"/><rect x="128.9" y="1419.23" width="5.6" height="1.8" fill="#000"/><rect x="128.9" y="1429.2" width="5.6" height="1.8" fill="#000"/><rect x="128.9" y="1439.16" width="5.6" height="1.8" fill="#000"/><rect x="122" y="1448.98" width="12.5" height="2.1" fill="#000"/><text x="64.5" y="907.4" font-size="17.4" textLength="47.5" lengthAdjust="spacingAndGlyphs">800</text><text x="64.5" y="957.23" font-size="17.4" textLength="47.5" lengthAdjust="spacingAndGlyphs">750</text><text x="64.5" y="1007.06" font-size="17.4" textLength="47.5" lengthAdjust="spacingAndGlyphs">700</text><text x="64.5" y="1056.89" font-size="17.4" textLength="47.5" lengthAdjust="spacingAndGlyphs">650</text><text x="64.5" y="1106.72" font-size="17.4" textLength="47.5" lengthAdjust="spacingAndGlyphs">600</text><text x="64.5" y="1156.55" font-size="17.4" textLength="47.5" lengthAdjust="spacingAndGlyphs">550</text><text x="64.5" y="1206.38" font-size="17.4" textLength="47.5" lengthAdjust="spacingAndGlyphs">500</text><text x="64.5" y="1256.21" font-size="17.4" textLength="47.5" lengthAdjust="spacingAndGlyphs">450</text><text x="64.5" y="1306.04" font-size="17.4" textLength="47.5" lengthAdjust="spacingAndGlyphs">400</text><text x="64.5" y="1355.87" font-size="17.4" textLength="47.5" lengthAdjust="spacingAndGlyphs">350</text><text x="64.5" y="1405.7" font-size="17.4" textLength="47.5" lengthAdjust="spacingAndGlyphs">300</text><text x="64.5" y="1455.53" font-size="17.4" textLength="47.5" lengthAdjust="spacingAndGlyphs">250</text><rect x="137.04" y="1458.9" width="2" height="6.1" fill="#000"/><rect x="153.5" y="1458.9" width="2.4" height="11.3" fill="#000"/><rect x="170.36" y="1458.9" width="2" height="6.1" fill="#000"/><rect x="187.02" y="1458.9" width="2" height="6.1" fill="#000"/><rect x="203.68" y="1458.9" width="2" height="6.1" fill="#000"/><rect x="220.34" y="1458.9" width="2" height="6.1" fill="#000"/><rect x="236.8" y="1458.9" width="2.4" height="11.3" fill="#000"/><rect x="253.66" y="1458.9" width="2" height="6.1" fill="#000"/><rect x="270.32" y="1458.9" width="2" height="6.1" fill="#000"/><rect x="286.98" y="1458.9" width="2" height="6.1" fill="#000"/><rect x="303.64" y="1458.9" width="2" height="6.1" fill="#000"/><rect x="320.1" y="1458.9" width="2.4" height="11.3" fill="#000"/><rect x="336.96" y="1458.9" width="2" height="6.1" fill="#000"/><rect x="353.62" y="1458.9" width="2" height="6.1" fill="#000"/><rect x="370.28" y="1458.9" width="2" height="6.1" fill="#000"/><rect x="386.94" y="1458.9" width="2" height="6.1" fill="#000"/><rect x="403.4" y="1458.9" width="2.4" height="11.3" fill="#000"/><rect x="420.26" y="1458.9" width="2" height="6.1" fill="#000"/><rect x="436.92" y="1458.9" width="2" height="6.1" fill="#000"/><rect x="453.58" y="1458.9" width="2" height="6.1" fill="#000"/><rect x="470.24" y="1458.9" width="2" height="6.1" fill="#000"/><rect x="486.7" y="1458.9" width="2.4" height="11.3" fill="#000"/><rect x="503.56" y="1458.9" width="2" height="6.1" fill="#000"/><rect x="520.22" y="1458.9" width="2" height="6.1" fill="#000"/><rect x="536.88" y="1458.9" width="2" height="6.1" fill="#000"/><rect x="553.54" y="1458.9" width="2" height="6.1" fill="#000"/><rect x="570" y="1458.9" width="2.4" height="11.3" fill="#000"/><rect x="586.86" y="1458.9" width="2" height="6.1" fill="#000"/><rect x="603.52" y="1458.9" width="2" height="6.1" fill="#000"/><rect x="620.18" y="1458.9" width="2" height="6.1" fill="#000"/><rect x="636.84" y="1458.9" width="2" height="6.1" fill="#000"/><rect x="653.3" y="1458.9" width="2.4" height="11.3" fill="#000"/><rect x="670.16" y="1458.9" width="2" height="6.1" fill="#000"/><rect x="686.82" y="1458.9" width="2" height="6.1" fill="#000"/><rect x="703.48" y="1458.9" width="2" height="6.1" fill="#000"/><rect x="720.14" y="1458.9" width="2" height="6.1" fill="#000"/><rect x="736.6" y="1458.9" width="2.4" height="11.3" fill="#000"/><rect x="753.46" y="1458.9" width="2" height="6.1" fill="#000"/><rect x="770.12" y="1458.9" width="2" height="6.1" fill="#000"/><rect x="786.78" y="1458.9" width="2" height="6.1" fill="#000"/><rect x="803.44" y="1458.9" width="2" height="6.1" fill="#000"/><rect x="819.9" y="1458.9" width="2.4" height="11.3" fill="#000"/><rect x="836.76" y="1458.9" width="2" height="6.1" fill="#000"/><rect x="853.42" y="1458.9" width="2" height="6.1" fill="#000"/><rect x="870.08" y="1458.9" width="2" height="6.1" fill="#000"/><rect x="886.74" y="1458.9" width="2" height="6.1" fill="#000"/><rect x="903.2" y="1458.9" width="2.4" height="11.3" fill="#000"/><rect x="920.06" y="1458.9" width="2" height="6.1" fill="#000"/><rect x="936.72" y="1458.9" width="2" height="6.1" fill="#000"/><rect x="953.38" y="1458.9" width="2" height="6.1" fill="#000"/><rect x="970.04" y="1458.9" width="2" height="6.1" fill="#000"/><rect x="986.5" y="1458.9" width="2.4" height="11.3" fill="#000"/><rect x="1003.36" y="1458.9" width="2" height="6.1" fill="#000"/><rect x="1020.02" y="1458.9" width="2" height="6.1" fill="#000"/><rect x="1036.68" y="1458.9" width="2" height="6.1" fill="#000"/><rect x="1053.34" y="1458.9" width="2" height="6.1" fill="#000"/><rect x="1069.8" y="1458.9" width="2.4" height="11.3" fill="#000"/><text x="130.7" y="1491.8" font-size="17.4" textLength="47.5" lengthAdjust="spacingAndGlyphs">250</text><text x="214" y="1491.8" font-size="17.4" textLength="47.5" lengthAdjust="spacingAndGlyphs">300</text><text x="297.3" y="1491.8" font-size="17.4" textLength="47.5" lengthAdjust="spacingAndGlyphs">350</text><text x="380.6" y="1491.8" font-size="17.4" textLength="47.5" lengthAdjust="spacingAndGlyphs">400</text><text x="463.9" y="1491.8" font-size="17.4" textLength="47.5" lengthAdjust="spacingAndGlyphs">450</text><text x="547.2" y="1491.8" font-size="17.4" textLength="47.5" lengthAdjust="spacingAndGlyphs">500</text><text x="630.5" y="1491.8" font-size="17.4" textLength="47.5" lengthAdjust="spacingAndGlyphs">550</text><text x="713.8" y="1491.8" font-size="17.4" textLength="47.5" lengthAdjust="spacingAndGlyphs">600</text><text x="797.1" y="1491.8" font-size="17.4" textLength="47.5" lengthAdjust="spacingAndGlyphs">650</text><text x="880.4" y="1491.8" font-size="17.4" textLength="47.5" lengthAdjust="spacingAndGlyphs">700</text><text x="963.7" y="1491.8" font-size="17.4" textLength="47.5" lengthAdjust="spacingAndGlyphs">750</text><text x="1047" y="1491.8" font-size="17.4" textLength="47.5" lengthAdjust="spacingAndGlyphs">800</text><rect x="1097" y="882.5" width="54" height="17.5" fill="#808080"/><rect x="1097" y="900.3" width="54" height="18.2625" fill="#ff0000"/><rect x="1097" y="918.062" width="54" height="18.2625" fill="#ff4000"/><rect x="1097" y="935.825" width="54" height="18.2625" fill="#ff8000"/><rect x="1097" y="953.587" width="54" height="18.2625" fill="#ffc000"/><rect x="1097" y="971.35" width="54" height="18.2625" fill="#ffff00"/><rect x="1097" y="989.112" width="54" height="18.2625" fill="#aaff00"/><rect x="1097" y="1006.88" width="54" height="18.2625" fill="#55ff00"/><rect x="1097" y="1024.64" width="54" height="18.2625" fill="#00ff00"/><rect x="1097" y="1042.4" width="54" height="18.2625" fill="#00ff40"/><rect x="1097" y="1060.16" width="54" height="18.2625" fill="#00ff80"/><rect x="1097" y="1077.92" width="54" height="18.2625" fill="#00ffc0"/><rect x="1097" y="1095.69" width="54" height="18.2625" fill="#00ffff"/><rect x="1097" y="1113.45" width="54" height="18.2625" fill="#00c0ff"/><rect x="1097" y="1131.21" width="54" height="18.2625" fill="#0080ff"/><rect x="1097" y="1148.97" width="54" height="18.2625" fill="#0040ff"/><rect x="1097" y="1166.74" width="54" height="34.7625" fill="#0000ff"/><text x="1158.5" y="905.3" font-size="14" textLength="53" lengthAdjust="spacingAndGlyphs">250.0</text><text x="1158.5" y="923.062" font-size="14" textLength="53" lengthAdjust="spacingAndGlyphs">234.4</text><text x="1158.5" y="940.825" font-size="14" textLength="53" lengthAdjust="spacingAndGlyphs">218.8</text><text x="1158.5" y="958.587" font-size="14" textLength="53" lengthAdjust="spacingAndGlyphs">203.1</text><text x="1158.5" y="976.35" font-size="14" textLength="53" lengthAdjust="spacingAndGlyphs">187.5</text><text x="1158.5" y="994.112" font-size="14" textLength="53" lengthAdjust="spacingAndGlyphs">171.9</text><text x="1158.5" y="1011.88" font-size="14" textLength="53" lengthAdjust="spacingAndGlyphs">156.3</text><text x="1158.5" y="1029.64" font-size="14" textLength="53" lengthAdjust="spacingAndGlyphs">140.6</text><text x="1158.5" y="1047.4" font-size="14" textLength="53" lengthAdjust="spacingAndGlyphs">125.0</text><text x="1158.5" y="1065.16" font-size="14" textLength="53" lengthAdjust="spacingAndGlyphs">109.4</text><text x="1158.5" y="1082.92" font-size="14" textLength="53" lengthAdjust="spacingAndGlyphs">93.75</text><text x="1158.5" y="1100.69" font-size="14" textLength="53" lengthAdjust="spacingAndGlyphs">78.13</text><text x="1158.5" y="1118.45" font-size="14" textLength="53" lengthAdjust="spacingAndGlyphs">62.50</text><text x="1158.5" y="1136.21" font-size="14" textLength="53" lengthAdjust="spacingAndGlyphs">46.88</text><text x="1158.5" y="1153.97" font-size="14" textLength="53" lengthAdjust="spacingAndGlyphs">31.25</text><text x="1158.5" y="1171.74" font-size="14" textLength="53" lengthAdjust="spacingAndGlyphs">15.63</text><text x="1158.5" y="1189.5" font-size="14" textLength="53" lengthAdjust="spacingAndGlyphs">0.000</text><text x="384" y="1537" font-size="34.5" font-weight="bold" textLength="467" lengthAdjust="spacingAndGlyphs">Excitation wavelength (nm)</text><text x="700.7" y="1586.5" font-size="30.5" font-weight="bold" textLength="358.5" lengthAdjust="spacingAndGlyphs">Sample: Marked glass eel</text><text x="39.2" y="1392.8" font-size="35.5" font-weight="bold" textLength="446" lengthAdjust="spacingAndGlyphs" transform="rotate(-90 39.2 1392.8)">Emission wavelength (nm)</text><text transform="translate(1225.5 877.4) scale(0.9 1)" x="0" y="0" font-size="116" font-weight="bold">b</text>
<g clip-path="url(#clipc)"><g filter="url(#jet)"><rect x="104" y="1635" width="988" height="624" fill="#000"/><g filter="url(#b16)"><ellipse cx="420" cy="1990" rx="200" ry="85" fill="rgb(27,27,27)" transform="rotate(-20 420 1990)"/><ellipse cx="330" cy="1960" rx="110" ry="70" fill="rgb(27,27,27)"/><ellipse cx="560" cy="1950" rx="80" ry="60" fill="rgb(28,28,28)"/><ellipse cx="232" cy="1800" rx="24" ry="100" fill="rgb(27,27,27)"/><ellipse cx="468" cy="2098" rx="115" ry="15" fill="rgb(27,27,27)" transform="rotate(-35 468 2098)"/></g><g filter="url(#b10)"><ellipse cx="300" cy="2030" rx="70" ry="55" fill="rgb(49,49,49)" transform="rotate(-40 300 2030)"/><ellipse cx="400" cy="1975" rx="90" ry="28" fill="rgb(41,41,41)" transform="rotate(-10 400 1975)"/><ellipse cx="548" cy="1946" rx="72" ry="40" fill="rgb(61,61,61)"/><ellipse cx="250" cy="1960" rx="40" ry="40" fill="rgb(52,52,52)"/><ellipse cx="300" cy="2090" rx="40" ry="40" fill="rgb(45,45,45)"/><ellipse cx="330" cy="2050" rx="40" ry="50" fill="rgb(42,42,42)" transform="rotate(-30 330 2050)"/></g><g filter="url(#b8)"><ellipse cx="552" cy="1946" rx="44" ry="24" fill="rgb(110,110,110)" transform="rotate(-8 552 1946)"/><ellipse cx="560" cy="1948" rx="22" ry="11" fill="rgb(158,158,158)"/></g><g filter="url(#b9)"><ellipse cx="140" cy="1690" rx="28" ry="30" fill="rgb(60,60,60)"/><ellipse cx="150" cy="1740" rx="36" ry="40" fill="rgb(68,68,68)"/><ellipse cx="160" cy="1800" rx="45" ry="40" fill="rgb(90,90,90)"/><ellipse cx="172" cy="1860" rx="50" ry="70" fill="rgb(120,120,120)"/><ellipse cx="140" cy="1920" rx="30" ry="50" fill="rgb(128,128,128)"/><ellipse cx="200" cy="1760" rx="25" ry="50" fill="rgb(61,61,61)"/><ellipse cx="210" cy="1850" rx="18" ry="60" fill="rgb(68,68,68)"/><ellipse cx="185" cy="1975" rx="40" ry="40" fill="rgb(112,112,112)"/></g><g filter="url(#b5)"><ellipse cx="182" cy="1840" rx="36" ry="52" fill="rgb(180,180,180)"/><ellipse cx="150" cy="1880" rx="20" ry="30" fill="rgb(142,142,142)"/><ellipse cx="140" cy="1930" rx="14" ry="20" fill="rgb(150,150,150)"/><ellipse cx="135" cy="1830" rx="10" ry="14" fill="rgb(142,142,142)"/><ellipse cx="190" cy="1780" rx="20" ry="25" fill="rgb(128,128,128)"/><ellipse cx="170" cy="1676" rx="18" ry="9" fill="rgb(120,120,120)" transform="rotate(-25 170 1676)"/><ellipse cx="148" cy="1720" rx="18" ry="10" fill="rgb(142,142,142)" transform="rotate(-20 148 1720)"/><ellipse cx="132" cy="1765" rx="10" ry="16" fill="rgb(158,158,158)"/><ellipse cx="140" cy="1800" rx="8" ry="6" fill="rgb(22,22,22)"/><ellipse cx="132" cy="1790" rx="6" ry="5" fill="rgb(15,15,15)"/><ellipse cx="140" cy="1700" rx="8" ry="5" fill="rgb(12,12,12)"/><ellipse cx="400" cy="1661" rx="16" ry="4" fill="rgb(98,98,98)" transform="rotate(-10 400 1661)"/><ellipse cx="160" cy="1695" rx="20" ry="5" fill="rgb(52,52,52)"/></g><g filter="url(#b3)"><polygon points="171,1805.5 183,1802.7 196,1805.5 198.8,1815.7 202.5,1824.9 205.2,1836 202.5,1849 197.8,1861.9 195.1,1873 194.1,1880.4 185,1890 176.6,1897 165.5,1882.2 171,1873 165.5,1861.9 164.5,1852.6 160.9,1843.4 162.7,1828.6 165.5,1822.1 172.9,1815.7 169.2,1810.1" fill="rgb(237,237,237)" stroke="rgb(237,237,237)" stroke-width="16" stroke-linejoin="round"/><polygon points="124,1754.8 132.9,1751 135.6,1754.8 129,1766.4 124,1772.2" fill="rgb(237,237,237)" stroke="rgb(237,237,237)" stroke-width="6" stroke-linejoin="round"/></g><g filter="url(#b17)"><polyline points="165.5,1996.3 192.4,2017.5 219.4,2029 246.4,2038.7 261.8,2054.1 267.6,2065.6 256,2081 246.4,2090.7 242.5,2109.9 248.3,2131.1 252.2,2142.7" fill="none" stroke="rgb(226,226,226)" stroke-width="60" stroke-linejoin="round" stroke-linecap="round"/><polyline points="220.2,1921.2 204,1938.5 169.3,1980.9 165.5,1996.3" fill="none" stroke="rgb(172,172,172)" stroke-width="24" stroke-linejoin="round" stroke-linecap="round"/></g><g filter="url(#b4)"><polyline points="165.5,1996.3 192.4,2017.5 219.4,2029 246.4,2038.7 261.8,2054.1 267.6,2065.6 256,2081 246.4,2090.7 242.5,2109.9 248.3,2131.1 252.2,2142.7" fill="none" stroke="rgb(237,237,237)" stroke-width="8" stroke-linejoin="round" stroke-linecap="round"/><polyline points="204,1938.5 169.3,1980.9 165.5,1996.3" fill="none" stroke="rgb(232,232,232)" stroke-width="6" stroke-linejoin="round" stroke-linecap="round"/></g><g filter="url(#b4)"><polyline points="252.2,2142.7 288.8,2136.9 352.3,2083 387,2078 444.8,2031" fill="none" stroke="rgb(112,112,112)" stroke-width="7" stroke-linejoin="round" stroke-linecap="round"/></g><g filter="url(#b5)"><polyline points="219.4,2235.1 331.1,2161.9 419.7,2108 446.7,2073.3 481.4,2038.7 485.2,2032.9 519.9,2032.1 524.8,2029.8 578.9,1979.1" fill="none" stroke="rgb(142,142,142)" stroke-width="18" stroke-linejoin="round" stroke-linecap="round"/><polyline points="219,2235 300,2185" fill="none" stroke="rgb(172,172,172)" stroke-width="22" stroke-linejoin="round" stroke-linecap="round"/></g><g filter="url(#b1_5)"><polyline points="219.4,2235.1 331.1,2161.9 419.7,2108 446.7,2073.3 481.4,2038.7 485.2,2032.9 519.9,2032.1 524.8,2029.8 578.9,1979.1" fill="none" stroke="rgb(237,237,237)" stroke-width="4" stroke-linejoin="round" stroke-linecap="round"/></g><g filter="url(#b4)"><polygon points="338.2,1727.9 342.8,1734.8 360.2,1731.7 387.1,1710.5 389.1,1700.9 381.4,1697 367.9,1700.1 340.9,1722.1" fill="rgb(158,158,158)" stroke="rgb(158,158,158)" stroke-width="8" stroke-linejoin="round"/><polygon points="260,1808.8 269.6,1819.2 287,1819.2 329.4,1785.6 333.2,1774.1 325.5,1769.5 308.2,1772.2 263.9,1804.9" fill="rgb(158,158,158)" stroke="rgb(158,158,158)" stroke-width="8" stroke-linejoin="round"/><polygon points="175.3,1895.4 192.6,1905.8 213.8,1905.8 275.4,1851.1 277.3,1843.4 269.6,1839.6 250.4,1843.4 179.1,1891.6" fill="rgb(158,158,158)" stroke="rgb(158,158,158)" stroke-width="8" stroke-linejoin="round"/></g><g filter="url(#b2)"><polygon points="1041.7,1689.9 1053.2,1680.3 1074.3,1662.3 1074.3,1704.1 1060.9,1699.5 1047.5,1696.8" fill="rgb(237,237,237)" stroke="rgb(237,237,237)" stroke-width="3.5" stroke-linejoin="round"/><polygon points="949.6,1743.6 959.2,1752.4 980.3,1754 1030.2,1712.9 1022.5,1706 999.5,1706 951.6,1740.5" fill="rgb(237,237,237)" stroke="rgb(237,237,237)" stroke-width="3.5" stroke-linejoin="round"/><polygon points="857.6,1801.1 867.1,1808.8 890.2,1808.8 940,1768.5 932.4,1760.9 907.4,1760.9 859.5,1798.5" fill="rgb(237,237,237)" stroke="rgb(237,237,237)" stroke-width="3.5" stroke-linejoin="round"/><polygon points="766.1,1856.3 776.5,1864.7 799.4,1865.5 849.3,1823.1 843.1,1814.7 811.9,1816 768.2,1852.2" fill="rgb(237,237,237)" stroke="rgb(237,237,237)" stroke-width="3.5" stroke-linejoin="round"/><polygon points="670.4,1912.5 682.9,1921.6 707.9,1921.6 764,1873 755.7,1865.9 726.6,1864.7 672.5,1909.6" fill="rgb(237,237,237)" stroke="rgb(237,237,237)" stroke-width="3.5" stroke-linejoin="round"/><polygon points="576.8,1968.7 587.2,1976.1 614.3,1976.1 670.4,1929.1 662.1,1921.6 633,1920.8 578.9,1965.7" fill="rgb(237,237,237)" stroke="rgb(237,237,237)" stroke-width="3.5" stroke-linejoin="round"/><polygon points="338.2,1727.9 342.8,1734.8 360.2,1731.7 387.1,1710.5 389.1,1700.9 381.4,1697 367.9,1700.1 340.9,1722.1" fill="rgb(237,237,237)" stroke="rgb(237,237,237)" stroke-width="3.5" stroke-linejoin="round"/><polygon points="260,1808.8 269.6,1819.2 287,1819.2 329.4,1785.6 333.2,1774.1 325.5,1769.5 308.2,1772.2 263.9,1804.9" fill="rgb(237,237,237)" stroke="rgb(237,237,237)" stroke-width="3.5" stroke-linejoin="round"/><polygon points="175.3,1895.4 192.6,1905.8 213.8,1905.8 275.4,1851.1 277.3,1843.4 269.6,1839.6 250.4,1843.4 179.1,1891.6" fill="rgb(237,237,237)" stroke="rgb(237,237,237)" stroke-width="3.5" stroke-linejoin="round"/></g><g filter="url(#b3_5)"><ellipse cx="1037" cy="1700" rx="11" ry="6" fill="rgb(128,128,128)" transform="rotate(-20 1037 1700)"/><ellipse cx="946" cy="1757" rx="11" ry="6" fill="rgb(112,112,112)" transform="rotate(-20 946 1757)"/><ellipse cx="853" cy="1813" rx="11" ry="6" fill="rgb(112,112,112)" transform="rotate(-20 853 1813)"/><ellipse cx="766" cy="1869" rx="11" ry="6" fill="rgb(112,112,112)" transform="rotate(-20 766 1869)"/><ellipse cx="671" cy="1925" rx="11" ry="6" fill="rgb(112,112,112)" transform="rotate(-20 671 1925)"/><ellipse cx="577" cy="1974" rx="11" ry="6" fill="rgb(112,112,112)" transform="rotate(-20 577 1974)"/><ellipse cx="1045" cy="1715" rx="14" ry="6" fill="rgb(112,112,112)" transform="rotate(-30 1045 1715)"/><ellipse cx="1020" cy="1700" rx="10" ry="6" fill="rgb(98,98,98)" transform="rotate(20 1020 1700)"/></g><g filter="url(#b4)"><ellipse cx="869.1" cy="1741.7" rx="15.6923" ry="8.34615" fill="rgb(36,36,36)"/><ellipse cx="863.3" cy="1680.3" rx="18.2564" ry="6.42308" fill="rgb(36,36,36)"/><ellipse cx="945.8" cy="1676.4" rx="18.2564" ry="6.42308" fill="rgb(36,36,36)"/><ellipse cx="888.2" cy="1718.7" rx="18.2564" ry="6.42308" fill="rgb(36,36,36)" transform="rotate(20 888.2 1718.7)"/><ellipse cx="821.1" cy="1712.9" rx="18.2564" ry="6.42308" fill="rgb(36,36,36)" transform="rotate(10 821.1 1712.9)"/><ellipse cx="995.7" cy="1795.4" rx="15.6923" ry="7.19231" fill="rgb(36,36,36)" transform="rotate(10 995.7 1795.4)"/><ellipse cx="997.6" cy="1837.6" rx="15.6923" ry="7.19231" fill="rgb(36,36,36)" transform="rotate(-10 997.6 1837.6)"/><ellipse cx="911.3" cy="1818.4" rx="15.6923" ry="6.80769" fill="rgb(36,36,36)"/><ellipse cx="1030.2" cy="1762.8" rx="20.8205" ry="7.19231" fill="rgb(36,36,36)" transform="rotate(-10 1030.2 1762.8)"/><ellipse cx="1036" cy="1734" rx="11.5897" ry="10.2692" fill="rgb(36,36,36)" transform="rotate(10 1036 1734)"/><ellipse cx="1064.7" cy="1793.5" rx="11.5897" ry="12.1923" fill="rgb(36,36,36)" transform="rotate(-20 1064.7 1793.5)"/><ellipse cx="1064.7" cy="1828" rx="12.1026" ry="7.19231" fill="rgb(36,36,36)"/><ellipse cx="1064.7" cy="1885.5" rx="11.5897" ry="10.2692" fill="rgb(36,36,36)"/><ellipse cx="1045.5" cy="1674.5" rx="15.6923" ry="7.19231" fill="rgb(36,36,36)" transform="rotate(40 1045.5 1674.5)"/><ellipse cx="1014.9" cy="1814.6" rx="14.1538" ry="6.42308" fill="rgb(36,36,36)"/><ellipse cx="1053.2" cy="1770.4" rx="13.1282" ry="10.2692" fill="rgb(36,36,36)" transform="rotate(-30 1053.2 1770.4)"/><ellipse cx="1026.4" cy="1966.1" rx="18.2564" ry="7.19231" fill="rgb(36,36,36)" transform="rotate(10 1026.4 1966.1)"/><ellipse cx="869.1" cy="1968" rx="18.2564" ry="6.80769" fill="rgb(36,36,36)" transform="rotate(10 869.1 1968)"/><ellipse cx="861.4" cy="1989.1" rx="18.2564" ry="6.80769" fill="rgb(36,36,36)" transform="rotate(20 861.4 1989.1)"/><ellipse cx="922.8" cy="1902.8" rx="15.6923" ry="6.42308" fill="rgb(36,36,36)"/><ellipse cx="834.5" cy="1904.7" rx="18.2564" ry="6.80769" fill="rgb(36,36,36)" transform="rotate(10 834.5 1904.7)"/><ellipse cx="807.7" cy="1881.7" rx="15.6923" ry="6.80769" fill="rgb(36,36,36)" transform="rotate(30 807.7 1881.7)"/><ellipse cx="965" cy="1881.7" rx="15.6923" ry="6.42308" fill="rgb(36,36,36)" transform="rotate(10 965 1881.7)"/><ellipse cx="1026.4" cy="1923.9" rx="15.6923" ry="10.2692" fill="rgb(36,36,36)"/><ellipse cx="1049.4" cy="1908.6" rx="13.1282" ry="10.2692" fill="rgb(36,36,36)"/><ellipse cx="918.9" cy="1946.9" rx="18.2564" ry="6.03846" fill="rgb(36,36,36)"/><ellipse cx="823" cy="1935.4" rx="23.3846" ry="6.42308" fill="rgb(36,36,36)" transform="rotate(10 823 1935.4)"/><ellipse cx="849.9" cy="1841.4" rx="13.1282" ry="8.34615" fill="rgb(36,36,36)" transform="rotate(30 849.9 1841.4)"/><ellipse cx="838.4" cy="1849.1" rx="13.1282" ry="6.80769" fill="rgb(36,36,36)" transform="rotate(30 838.4 1849.1)"/><ellipse cx="895.9" cy="1858.7" rx="15.6923" ry="6.42308" fill="rgb(36,36,36)" transform="rotate(-20 895.9 1858.7)"/><ellipse cx="980.3" cy="1847.2" rx="15.6923" ry="6.42308" fill="rgb(36,36,36)" transform="rotate(10 980.3 1847.2)"/><ellipse cx="1014.9" cy="1977.6" rx="14.1538" ry="6.03846" fill="rgb(36,36,36)"/><ellipse cx="1045.5" cy="1987.2" rx="13.1282" ry="6.03846" fill="rgb(36,36,36)"/><ellipse cx="853.7" cy="1722.5" rx="18.2564" ry="6.03846" fill="rgb(36,36,36)"/><ellipse cx="926.6" cy="1728.2" rx="15.6923" ry="6.03846" fill="rgb(36,36,36)" transform="rotate(20 926.6 1728.2)"/><ellipse cx="815.3" cy="1682.2" rx="15.6923" ry="6.03846" fill="rgb(36,36,36)" transform="rotate(20 815.3 1682.2)"/><ellipse cx="899.8" cy="1663" rx="18.2564" ry="6.03846" fill="rgb(36,36,36)"/><ellipse cx="988" cy="1766.6" rx="15.6923" ry="5.65385" fill="rgb(36,36,36)" transform="rotate(20 988 1766.6)"/><ellipse cx="972.7" cy="1824.2" rx="13.1282" ry="6.42308" fill="rgb(36,36,36)" transform="rotate(30 972.7 1824.2)"/><ellipse cx="911.3" cy="1877.9" rx="12.1026" ry="6.03846" fill="rgb(36,36,36)"/><ellipse cx="815.3" cy="1766.6" rx="18.2564" ry="6.42308" fill="rgb(36,36,36)" transform="rotate(-20 815.3 1766.6)"/><ellipse cx="846" cy="1808.8" rx="15.6923" ry="6.42308" fill="rgb(36,36,36)" transform="rotate(-30 846 1808.8)"/><ellipse cx="870.1" cy="1741.1" rx="16.3333" ry="8.66667" fill="rgb(36,36,36)"/><ellipse cx="874.3" cy="1681.6" rx="21.8889" ry="6.58333" fill="rgb(36,36,36)"/><ellipse cx="791.1" cy="1677.4" rx="19.1111" ry="6.58333" fill="rgb(36,36,36)"/><ellipse cx="699.5" cy="1712.8" rx="19.1111" ry="7.41667" fill="rgb(36,36,36)" transform="rotate(20 699.5 1712.8)"/><ellipse cx="732.8" cy="1736.5" rx="21.8889" ry="6.16667" fill="rgb(36,36,36)"/><ellipse cx="774.4" cy="1777.3" rx="14.6667" ry="7.41667" fill="rgb(36,36,36)" transform="rotate(-20 774.4 1777.3)"/><ellipse cx="841" cy="1843.9" rx="16.3333" ry="8.66667" fill="rgb(36,36,36)" transform="rotate(30 841 1843.9)"/><ellipse cx="803.5" cy="1800.2" rx="16.3333" ry="6.58333" fill="rgb(36,36,36)" transform="rotate(10 803.5 1800.2)"/><ellipse cx="911.7" cy="1818.9" rx="16.3333" ry="6.58333" fill="rgb(36,36,36)" transform="rotate(10 911.7 1818.9)"/><ellipse cx="807.7" cy="1881.3" rx="16.3333" ry="7.41667" fill="rgb(36,36,36)" transform="rotate(30 807.7 1881.3)"/><ellipse cx="832.7" cy="1906.3" rx="16.3333" ry="6.58333" fill="rgb(36,36,36)" transform="rotate(10 832.7 1906.3)"/><ellipse cx="799.4" cy="1933.3" rx="19.1111" ry="6.58333" fill="rgb(36,36,36)" transform="rotate(10 799.4 1933.3)"/><ellipse cx="849.3" cy="1935.4" rx="16.3333" ry="6.58333" fill="rgb(36,36,36)" transform="rotate(10 849.3 1935.4)"/><ellipse cx="870.1" cy="1968.7" rx="16.3333" ry="7" fill="rgb(36,36,36)" transform="rotate(10 870.1 1968.7)"/><ellipse cx="865.9" cy="1985.3" rx="19.1111" ry="7.41667" fill="rgb(36,36,36)" transform="rotate(20 865.9 1985.3)"/><ellipse cx="920" cy="1945.8" rx="16.3333" ry="6.16667" fill="rgb(36,36,36)"/><ellipse cx="920" cy="1902.1" rx="14.6667" ry="6.16667" fill="rgb(36,36,36)"/><ellipse cx="641.3" cy="1675.4" rx="13.5556" ry="6.16667" fill="rgb(36,36,36)" transform="rotate(20 641.3 1675.4)"/><ellipse cx="741.1" cy="1667" rx="13.5556" ry="6.16667" fill="rgb(36,36,36)" transform="rotate(20 741.1 1667)"/><ellipse cx="653.8" cy="1694.1" rx="13.5556" ry="5.75" fill="rgb(36,36,36)" transform="rotate(20 653.8 1694.1)"/><ellipse cx="766.1" cy="1689.9" rx="16.3333" ry="6.16667" fill="rgb(36,36,36)" transform="rotate(20 766.1 1689.9)"/><ellipse cx="820.2" cy="1694.1" rx="13.5556" ry="5.75" fill="rgb(36,36,36)"/><ellipse cx="890.9" cy="1698.2" rx="19.1111" ry="5.75" fill="rgb(36,36,36)"/><ellipse cx="861.8" cy="1712.8" rx="13.5556" ry="6.16667" fill="rgb(36,36,36)"/><ellipse cx="786.9" cy="1712.8" rx="19.1111" ry="6.16667" fill="rgb(36,36,36)" transform="rotate(20 786.9 1712.8)"/><ellipse cx="899.2" cy="1721.1" rx="19.1111" ry="6.16667" fill="rgb(36,36,36)"/><ellipse cx="816" cy="1760.6" rx="21.8889" ry="5.75" fill="rgb(36,36,36)"/><ellipse cx="757.8" cy="1754.4" rx="16.3333" ry="5.75" fill="rgb(36,36,36)" transform="rotate(-10 757.8 1754.4)"/><ellipse cx="707.9" cy="1764.8" rx="12.4444" ry="5.75" fill="rgb(36,36,36)" transform="rotate(20 707.9 1764.8)"/><ellipse cx="687.1" cy="1727.4" rx="10.7778" ry="5.33333" fill="rgb(36,36,36)" transform="rotate(30 687.1 1727.4)"/><ellipse cx="641.3" cy="1798.1" rx="13.5556" ry="5.75" fill="rgb(36,36,36)"/><ellipse cx="578.9" cy="1818.9" rx="19.1111" ry="6.16667" fill="rgb(36,36,36)"/><ellipse cx="639.2" cy="1822.2" rx="11.8889" ry="5.75" fill="rgb(36,36,36)"/><ellipse cx="732.8" cy="1810.6" rx="11.8889" ry="5.75" fill="rgb(36,36,36)" transform="rotate(30 732.8 1810.6)"/><ellipse cx="761.9" cy="1827.2" rx="16.3333" ry="6.16667" fill="rgb(36,36,36)" transform="rotate(30 761.9 1827.2)"/><ellipse cx="682.9" cy="1854.3" rx="12.4444" ry="5.75" fill="rgb(36,36,36)" transform="rotate(30 682.9 1854.3)"/><ellipse cx="645.5" cy="1881.3" rx="12.4444" ry="6.16667" fill="rgb(36,36,36)" transform="rotate(30 645.5 1881.3)"/><ellipse cx="895.1" cy="1864.7" rx="13.5556" ry="6.58333" fill="rgb(36,36,36)" transform="rotate(30 895.1 1864.7)"/><ellipse cx="913.8" cy="1881.3" rx="12.4444" ry="5.75" fill="rgb(36,36,36)"/><ellipse cx="816" cy="1952" rx="13.5556" ry="6.16667" fill="rgb(36,36,36)"/><ellipse cx="707.9" cy="1966.6" rx="10.7778" ry="5.33333" fill="rgb(36,36,36)"/><ellipse cx="832.7" cy="1997.8" rx="21.8889" ry="7.41667" fill="rgb(36,36,36)" transform="rotate(30 832.7 1997.8)"/><ellipse cx="882.6" cy="2014.4" rx="16.3333" ry="8.66667" fill="rgb(36,36,36)" transform="rotate(-30 882.6 2014.4)"/><ellipse cx="745.3" cy="2018.6" rx="13.5556" ry="6.16667" fill="rgb(36,36,36)" transform="rotate(30 745.3 2018.6)"/><ellipse cx="404.2" cy="1689.9" rx="10.7778" ry="10.75" fill="rgb(36,36,36)" transform="rotate(-40 404.2 1689.9)"/><ellipse cx="408.3" cy="1665" rx="13.5556" ry="5.75" fill="rgb(36,36,36)"/><ellipse cx="836.8" cy="1885.5" rx="13.5556" ry="6.16667" fill="rgb(36,36,36)"/><ellipse cx="874.3" cy="1927.1" rx="16.3333" ry="5.75" fill="rgb(36,36,36)"/><ellipse cx="868.1" cy="1966.7" rx="16.7456" ry="6.71893" fill="rgb(36,36,36)"/><ellipse cx="870" cy="1987.7" rx="18.5947" ry="7.45858" fill="rgb(36,36,36)" transform="rotate(15 870 1987.7)"/><ellipse cx="881.1" cy="2015.5" rx="24.142" ry="13.7456" fill="rgb(36,36,36)"/><ellipse cx="829.3" cy="1993.3" rx="14.8964" ry="10.0473" fill="rgb(36,36,36)"/><ellipse cx="1029" cy="1966.7" rx="18.5947" ry="6.71893" fill="rgb(36,36,36)"/><ellipse cx="1051.2" cy="2013.6" rx="16.7456" ry="7.45858" fill="rgb(36,36,36)" transform="rotate(20 1051.2 2013.6)"/><ellipse cx="1032.7" cy="2024.7" rx="16.7456" ry="7.45858" fill="rgb(36,36,36)" transform="rotate(15 1032.7 2024.7)"/><ellipse cx="884.8" cy="2069.1" rx="20.4438" ry="7.08876" fill="rgb(36,36,36)" transform="rotate(5 884.8 2069.1)"/><ellipse cx="858.9" cy="2056.2" rx="33.3876" ry="8.19822" fill="rgb(36,36,36)" transform="rotate(-5 858.9 2056.2)"/><ellipse cx="1054.9" cy="2063.6" rx="16.7456" ry="10.0473" fill="rgb(36,36,36)" transform="rotate(10 1054.9 2063.6)"/><ellipse cx="903.3" cy="2104.2" rx="16.7456" ry="7.08876" fill="rgb(36,36,36)" transform="rotate(25 903.3 2104.2)"/><ellipse cx="918" cy="2122.7" rx="13.0473" ry="6.71893" fill="rgb(36,36,36)" transform="rotate(20 918 2122.7)"/><ellipse cx="984.6" cy="2109.8" rx="18.5947" ry="7.45858" fill="rgb(36,36,36)" transform="rotate(15 984.6 2109.8)"/><ellipse cx="1003.1" cy="2141.2" rx="24.142" ry="6.71893" fill="rgb(36,36,36)" transform="rotate(5 1003.1 2141.2)"/><ellipse cx="829.3" cy="2137.5" rx="16.7456" ry="7.08876" fill="rgb(36,36,36)"/><ellipse cx="858.9" cy="2141.2" rx="29.6893" ry="5.97929" fill="rgb(36,36,36)"/><ellipse cx="907" cy="2152.3" rx="18.5947" ry="7.08876" fill="rgb(36,36,36)" transform="rotate(-20 907 2152.3)"/><ellipse cx="834.8" cy="2170.8" rx="12.1228" ry="8.19822" fill="rgb(36,36,36)"/><ellipse cx="892.2" cy="2191.1" rx="14.8964" ry="9.30769" fill="rgb(36,36,36)" transform="rotate(50 892.2 2191.1)"/><ellipse cx="879.2" cy="2213.3" rx="18.5947" ry="7.08876" fill="rgb(36,36,36)" transform="rotate(30 879.2 2213.3)"/><ellipse cx="851.5" cy="2196.7" rx="18.5947" ry="6.71893" fill="rgb(36,36,36)" transform="rotate(30 851.5 2196.7)"/><ellipse cx="808.9" cy="2213.3" rx="10.8284" ry="10.0473" fill="rgb(36,36,36)" transform="rotate(20 808.9 2213.3)"/><ellipse cx="1058.6" cy="2161.6" rx="13.0473" ry="7.08876" fill="rgb(36,36,36)"/><ellipse cx="1053" cy="2189.3" rx="16.7456" ry="10.0473" fill="rgb(36,36,36)" transform="rotate(55 1053 2189.3)"/><ellipse cx="995.7" cy="2178.2" rx="14.8964" ry="13.7456" fill="rgb(36,36,36)"/><ellipse cx="740.5" cy="2161.6" rx="16.7456" ry="7.08876" fill="rgb(36,36,36)" transform="rotate(-10 740.5 2161.6)"/><ellipse cx="729.4" cy="2189.3" rx="14.8964" ry="10.0473" fill="rgb(36,36,36)" transform="rotate(40 729.4 2189.3)"/><ellipse cx="747.9" cy="2181.9" rx="13.0473" ry="7.08876" fill="rgb(36,36,36)" transform="rotate(20 747.9 2181.9)"/><ellipse cx="722" cy="2215.2" rx="11.1982" ry="8.93787" fill="rgb(36,36,36)"/><ellipse cx="790.5" cy="2181.9" rx="14.8964" ry="6.71893" fill="rgb(36,36,36)" transform="rotate(60 790.5 2181.9)"/><ellipse cx="666.6" cy="2185.6" rx="14.8964" ry="6.71893" fill="rgb(36,36,36)" transform="rotate(60 666.6 2185.6)"/><ellipse cx="664.7" cy="2209.6" rx="14.8964" ry="7.08876" fill="rgb(36,36,36)" transform="rotate(10 664.7 2209.6)"/><ellipse cx="627.7" cy="2181.9" rx="10.0888" ry="7.08876" fill="rgb(36,36,36)"/><ellipse cx="729.4" cy="2133.8" rx="20.4438" ry="5.97929" fill="rgb(36,36,36)" transform="rotate(25 729.4 2133.8)"/><ellipse cx="773.8" cy="2132" rx="13.0473" ry="5.97929" fill="rgb(36,36,36)" transform="rotate(20 773.8 2132)"/><ellipse cx="792.3" cy="2085.7" rx="14.8964" ry="7.45858" fill="rgb(36,36,36)" transform="rotate(25 792.3 2085.7)"/><ellipse cx="814.5" cy="2106.1" rx="16.7456" ry="7.08876" fill="rgb(36,36,36)" transform="rotate(20 814.5 2106.1)"/><ellipse cx="742.4" cy="2024.7" rx="14.8964" ry="7.08876" fill="rgb(36,36,36)" transform="rotate(-30 742.4 2024.7)"/><ellipse cx="735" cy="2070.2" rx="13.0473" ry="6.34911" fill="rgb(36,36,36)" transform="rotate(15 735 2070.2)"/><ellipse cx="670.3" cy="2082.8" rx="13.9719" ry="5.97929" fill="rgb(36,36,36)" transform="rotate(5 670.3 2082.8)"/><ellipse cx="731.3" cy="2101.3" rx="11.1982" ry="5.97929" fill="rgb(36,36,36)" transform="rotate(5 731.3 2101.3)"/><ellipse cx="710.9" cy="2143.1" rx="11.1982" ry="5.60947" fill="rgb(36,36,36)"/><ellipse cx="709.1" cy="1967.4" rx="10.0888" ry="5.60947" fill="rgb(36,36,36)"/><ellipse cx="969.8" cy="1992.5" rx="10.0888" ry="5.97929" fill="rgb(36,36,36)"/><ellipse cx="1049.3" cy="1989.6" rx="11.9379" ry="5.97929" fill="rgb(36,36,36)" transform="rotate(10 1049.3 1989.6)"/><ellipse cx="1038.2" cy="2091.3" rx="13.0473" ry="5.60947" fill="rgb(36,36,36)" transform="rotate(15 1038.2 2091.3)"/><ellipse cx="916.2" cy="2087.6" rx="11.1982" ry="5.42456" fill="rgb(36,36,36)" transform="rotate(5 916.2 2087.6)"/><ellipse cx="934.7" cy="2218.9" rx="9.71893" ry="6.71893" fill="rgb(36,36,36)"/><ellipse cx="992" cy="2232.9" rx="13.0473" ry="5.97929" fill="rgb(36,36,36)"/><ellipse cx="831.1" cy="2233.7" rx="13.0473" ry="5.97929" fill="rgb(36,36,36)"/><ellipse cx="670.3" cy="2233.7" rx="11.1982" ry="5.97929" fill="rgb(36,36,36)"/><ellipse cx="1045.6" cy="2215.5" rx="11" ry="7" fill="rgb(36,36,36)" transform="rotate(30 1045.6 2215.5)"/></g><g filter="url(#b2_5)"><ellipse cx="869.1" cy="1741.7" rx="10.6923" ry="5.34615" fill="rgb(63,63,63)"/><ellipse cx="863.3" cy="1680.3" rx="13.2564" ry="3.42308" fill="rgb(51,51,51)"/><ellipse cx="945.8" cy="1676.4" rx="13.2564" ry="3.42308" fill="rgb(51,51,51)"/><ellipse cx="888.2" cy="1718.7" rx="13.2564" ry="3.42308" fill="rgb(45,45,45)" transform="rotate(20 888.2 1718.7)"/><ellipse cx="821.1" cy="1712.9" rx="13.2564" ry="3.42308" fill="rgb(45,45,45)" transform="rotate(10 821.1 1712.9)"/><ellipse cx="995.7" cy="1795.4" rx="10.6923" ry="4.19231" fill="rgb(51,51,51)" transform="rotate(10 995.7 1795.4)"/><ellipse cx="997.6" cy="1837.6" rx="10.6923" ry="4.19231" fill="rgb(51,51,51)" transform="rotate(-10 997.6 1837.6)"/><ellipse cx="911.3" cy="1818.4" rx="10.6923" ry="3.80769" fill="rgb(45,45,45)"/><ellipse cx="1030.2" cy="1762.8" rx="15.8205" ry="4.19231" fill="rgb(81,81,81)" transform="rotate(-10 1030.2 1762.8)"/><ellipse cx="1036" cy="1734" rx="6.58974" ry="7.26923" fill="rgb(69,69,69)" transform="rotate(10 1036 1734)"/><ellipse cx="1064.7" cy="1793.5" rx="6.58974" ry="9.19231" fill="rgb(69,69,69)" transform="rotate(-20 1064.7 1793.5)"/><ellipse cx="1064.7" cy="1828" rx="7.10256" ry="4.19231" fill="rgb(81,81,81)"/><ellipse cx="1064.7" cy="1885.5" rx="6.58974" ry="7.26923" fill="rgb(87,87,87)"/><ellipse cx="1045.5" cy="1674.5" rx="10.6923" ry="4.19231" fill="rgb(69,69,69)" transform="rotate(40 1045.5 1674.5)"/><ellipse cx="1014.9" cy="1814.6" rx="9.15385" ry="3.42308" fill="rgb(45,45,45)"/><ellipse cx="1053.2" cy="1770.4" rx="8.12821" ry="7.26923" fill="rgb(57,57,57)" transform="rotate(-30 1053.2 1770.4)"/><ellipse cx="1026.4" cy="1966.1" rx="13.2564" ry="4.19231" fill="rgb(69,69,69)" transform="rotate(10 1026.4 1966.1)"/><ellipse cx="869.1" cy="1968" rx="13.2564" ry="3.80769" fill="rgb(57,57,57)" transform="rotate(10 869.1 1968)"/><ellipse cx="861.4" cy="1989.1" rx="13.2564" ry="3.80769" fill="rgb(51,51,51)" transform="rotate(20 861.4 1989.1)"/><ellipse cx="922.8" cy="1902.8" rx="10.6923" ry="3.42308" fill="rgb(51,51,51)"/><ellipse cx="834.5" cy="1904.7" rx="13.2564" ry="3.80769" fill="rgb(45,45,45)" transform="rotate(10 834.5 1904.7)"/><ellipse cx="807.7" cy="1881.7" rx="10.6923" ry="3.80769" fill="rgb(45,45,45)" transform="rotate(30 807.7 1881.7)"/><ellipse cx="965" cy="1881.7" rx="10.6923" ry="3.42308" fill="rgb(45,45,45)" transform="rotate(10 965 1881.7)"/><ellipse cx="1026.4" cy="1923.9" rx="10.6923" ry="7.26923" fill="rgb(40,40,40)"/><ellipse cx="1049.4" cy="1908.6" rx="8.12821" ry="7.26923" fill="rgb(40,40,40)"/><ellipse cx="918.9" cy="1946.9" rx="13.2564" ry="3.03846" fill="rgb(40,40,40)"/><ellipse cx="823" cy="1935.4" rx="18.3846" ry="3.42308" fill="rgb(45,45,45)" transform="rotate(10 823 1935.4)"/><ellipse cx="849.9" cy="1841.4" rx="8.12821" ry="5.34615" fill="rgb(57,57,57)" transform="rotate(30 849.9 1841.4)"/><ellipse cx="838.4" cy="1849.1" rx="8.12821" ry="3.80769" fill="rgb(51,51,51)" transform="rotate(30 838.4 1849.1)"/><ellipse cx="895.9" cy="1858.7" rx="10.6923" ry="3.42308" fill="rgb(40,40,40)" transform="rotate(-20 895.9 1858.7)"/><ellipse cx="980.3" cy="1847.2" rx="10.6923" ry="3.42308" fill="rgb(40,40,40)" transform="rotate(10 980.3 1847.2)"/><ellipse cx="1014.9" cy="1977.6" rx="9.15385" ry="3.03846" fill="rgb(40,40,40)"/><ellipse cx="1045.5" cy="1987.2" rx="8.12821" ry="3.03846" fill="rgb(40,40,40)"/><ellipse cx="853.7" cy="1722.5" rx="13.2564" ry="3.03846" fill="rgb(40,40,40)"/><ellipse cx="926.6" cy="1728.2" rx="10.6923" ry="3.03846" fill="rgb(40,40,40)" transform="rotate(20 926.6 1728.2)"/><ellipse cx="815.3" cy="1682.2" rx="10.6923" ry="3.03846" fill="rgb(40,40,40)" transform="rotate(20 815.3 1682.2)"/><ellipse cx="899.8" cy="1663" rx="13.2564" ry="3.03846" fill="rgb(40,40,40)"/><ellipse cx="988" cy="1766.6" rx="10.6923" ry="2.65385" fill="rgb(40,40,40)" transform="rotate(20 988 1766.6)"/><ellipse cx="972.7" cy="1824.2" rx="8.12821" ry="3.42308" fill="rgb(40,40,40)" transform="rotate(30 972.7 1824.2)"/><ellipse cx="911.3" cy="1877.9" rx="7.10256" ry="3.03846" fill="rgb(40,40,40)"/><ellipse cx="815.3" cy="1766.6" rx="13.2564" ry="3.42308" fill="rgb(43,43,43)" transform="rotate(-20 815.3 1766.6)"/><ellipse cx="846" cy="1808.8" rx="10.6923" ry="3.42308" fill="rgb(45,45,45)" transform="rotate(-30 846 1808.8)"/><ellipse cx="870.1" cy="1741.1" rx="11.3333" ry="5.66667" fill="rgb(63,63,63)"/><ellipse cx="874.3" cy="1681.6" rx="16.8889" ry="3.58333" fill="rgb(51,51,51)"/><ellipse cx="791.1" cy="1677.4" rx="14.1111" ry="3.58333" fill="rgb(45,45,45)"/><ellipse cx="699.5" cy="1712.8" rx="14.1111" ry="4.41667" fill="rgb(45,45,45)" transform="rotate(20 699.5 1712.8)"/><ellipse cx="732.8" cy="1736.5" rx="16.8889" ry="3.16667" fill="rgb(45,45,45)"/><ellipse cx="774.4" cy="1777.3" rx="9.66667" ry="4.41667" fill="rgb(51,51,51)" transform="rotate(-20 774.4 1777.3)"/><ellipse cx="841" cy="1843.9" rx="11.3333" ry="5.66667" fill="rgb(51,51,51)" transform="rotate(30 841 1843.9)"/><ellipse cx="803.5" cy="1800.2" rx="11.3333" ry="3.58333" fill="rgb(45,45,45)" transform="rotate(10 803.5 1800.2)"/><ellipse cx="911.7" cy="1818.9" rx="11.3333" ry="3.58333" fill="rgb(45,45,45)" transform="rotate(10 911.7 1818.9)"/><ellipse cx="807.7" cy="1881.3" rx="11.3333" ry="4.41667" fill="rgb(45,45,45)" transform="rotate(30 807.7 1881.3)"/><ellipse cx="832.7" cy="1906.3" rx="11.3333" ry="3.58333" fill="rgb(45,45,45)" transform="rotate(10 832.7 1906.3)"/><ellipse cx="799.4" cy="1933.3" rx="14.1111" ry="3.58333" fill="rgb(45,45,45)" transform="rotate(10 799.4 1933.3)"/><ellipse cx="849.3" cy="1935.4" rx="11.3333" ry="3.58333" fill="rgb(45,45,45)" transform="rotate(10 849.3 1935.4)"/><ellipse cx="870.1" cy="1968.7" rx="11.3333" ry="4" fill="rgb(45,45,45)" transform="rotate(10 870.1 1968.7)"/><ellipse cx="865.9" cy="1985.3" rx="14.1111" ry="4.41667" fill="rgb(45,45,45)" transform="rotate(20 865.9 1985.3)"/><ellipse cx="920" cy="1945.8" rx="11.3333" ry="3.16667" fill="rgb(45,45,45)"/><ellipse cx="920" cy="1902.1" rx="9.66667" ry="3.16667" fill="rgb(40,40,40)"/><ellipse cx="641.3" cy="1675.4" rx="8.55556" ry="3.16667" fill="rgb(40,40,40)" transform="rotate(20 641.3 1675.4)"/><ellipse cx="741.1" cy="1667" rx="8.55556" ry="3.16667" fill="rgb(40,40,40)" transform="rotate(20 741.1 1667)"/><ellipse cx="653.8" cy="1694.1" rx="8.55556" ry="2.75" fill="rgb(40,40,40)" transform="rotate(20 653.8 1694.1)"/><ellipse cx="766.1" cy="1689.9" rx="11.3333" ry="3.16667" fill="rgb(40,40,40)" transform="rotate(20 766.1 1689.9)"/><ellipse cx="820.2" cy="1694.1" rx="8.55556" ry="2.75" fill="rgb(40,40,40)"/><ellipse cx="890.9" cy="1698.2" rx="14.1111" ry="2.75" fill="rgb(40,40,40)"/><ellipse cx="861.8" cy="1712.8" rx="8.55556" ry="3.16667" fill="rgb(40,40,40)"/><ellipse cx="786.9" cy="1712.8" rx="14.1111" ry="3.16667" fill="rgb(40,40,40)" transform="rotate(20 786.9 1712.8)"/><ellipse cx="899.2" cy="1721.1" rx="14.1111" ry="3.16667" fill="rgb(40,40,40)"/><ellipse cx="816" cy="1760.6" rx="16.8889" ry="2.75" fill="rgb(40,40,40)"/><ellipse cx="757.8" cy="1754.4" rx="11.3333" ry="2.75" fill="rgb(40,40,40)" transform="rotate(-10 757.8 1754.4)"/><ellipse cx="707.9" cy="1764.8" rx="7.44444" ry="2.75" fill="rgb(40,40,40)" transform="rotate(20 707.9 1764.8)"/><ellipse cx="687.1" cy="1727.4" rx="5.77778" ry="2.33333" fill="rgb(40,40,40)" transform="rotate(30 687.1 1727.4)"/><ellipse cx="641.3" cy="1798.1" rx="8.55556" ry="2.75" fill="rgb(40,40,40)"/><ellipse cx="578.9" cy="1818.9" rx="14.1111" ry="3.16667" fill="rgb(40,40,40)"/><ellipse cx="639.2" cy="1822.2" rx="6.88889" ry="2.75" fill="rgb(40,40,40)"/><ellipse cx="732.8" cy="1810.6" rx="6.88889" ry="2.75" fill="rgb(40,40,40)" transform="rotate(30 732.8 1810.6)"/><ellipse cx="761.9" cy="1827.2" rx="11.3333" ry="3.16667" fill="rgb(40,40,40)" transform="rotate(30 761.9 1827.2)"/><ellipse cx="682.9" cy="1854.3" rx="7.44444" ry="2.75" fill="rgb(40,40,40)" transform="rotate(30 682.9 1854.3)"/><ellipse cx="645.5" cy="1881.3" rx="7.44444" ry="3.16667" fill="rgb(40,40,40)" transform="rotate(30 645.5 1881.3)"/><ellipse cx="895.1" cy="1864.7" rx="8.55556" ry="3.58333" fill="rgb(40,40,40)" transform="rotate(30 895.1 1864.7)"/><ellipse cx="913.8" cy="1881.3" rx="7.44444" ry="2.75" fill="rgb(40,40,40)"/><ellipse cx="816" cy="1952" rx="8.55556" ry="3.16667" fill="rgb(40,40,40)"/><ellipse cx="707.9" cy="1966.6" rx="5.77778" ry="2.33333" fill="rgb(40,40,40)"/><ellipse cx="832.7" cy="1997.8" rx="16.8889" ry="4.41667" fill="rgb(43,43,43)" transform="rotate(30 832.7 1997.8)"/><ellipse cx="882.6" cy="2014.4" rx="11.3333" ry="5.66667" fill="rgb(43,43,43)" transform="rotate(-30 882.6 2014.4)"/><ellipse cx="745.3" cy="2018.6" rx="8.55556" ry="3.16667" fill="rgb(40,40,40)" transform="rotate(30 745.3 2018.6)"/><ellipse cx="404.2" cy="1689.9" rx="5.77778" ry="7.75" fill="rgb(69,69,69)" transform="rotate(-40 404.2 1689.9)"/><ellipse cx="408.3" cy="1665" rx="8.55556" ry="2.75" fill="rgb(57,57,57)"/><ellipse cx="836.8" cy="1885.5" rx="8.55556" ry="3.16667" fill="rgb(40,40,40)"/><ellipse cx="874.3" cy="1927.1" rx="11.3333" ry="2.75" fill="rgb(40,40,40)"/><ellipse cx="868.1" cy="1966.7" rx="11.7456" ry="3.71893" fill="rgb(68,68,68)"/><ellipse cx="870" cy="1987.7" rx="13.5947" ry="4.45858" fill="rgb(68,68,68)" transform="rotate(15 870 1987.7)"/><ellipse cx="881.1" cy="2015.5" rx="19.142" ry="10.7456" fill="rgb(34,34,34)"/><ellipse cx="829.3" cy="1993.3" rx="9.89645" ry="7.04734" fill="rgb(34,34,34)"/><ellipse cx="1029" cy="1966.7" rx="13.5947" ry="3.71893" fill="rgb(68,68,68)"/><ellipse cx="1051.2" cy="2013.6" rx="11.7456" ry="4.45858" fill="rgb(105,105,105)" transform="rotate(20 1051.2 2013.6)"/><ellipse cx="1032.7" cy="2024.7" rx="11.7456" ry="4.45858" fill="rgb(75,75,75)" transform="rotate(15 1032.7 2024.7)"/><ellipse cx="884.8" cy="2069.1" rx="15.4438" ry="4.08876" fill="rgb(75,75,75)" transform="rotate(5 884.8 2069.1)"/><ellipse cx="858.9" cy="2056.2" rx="28.3876" ry="5.19822" fill="rgb(38,38,38)" transform="rotate(-5 858.9 2056.2)"/><ellipse cx="1054.9" cy="2063.6" rx="11.7456" ry="7.04734" fill="rgb(68,68,68)" transform="rotate(10 1054.9 2063.6)"/><ellipse cx="903.3" cy="2104.2" rx="11.7456" ry="4.08876" fill="rgb(75,75,75)" transform="rotate(25 903.3 2104.2)"/><ellipse cx="918" cy="2122.7" rx="8.04734" ry="3.71893" fill="rgb(52,52,52)" transform="rotate(20 918 2122.7)"/><ellipse cx="984.6" cy="2109.8" rx="13.5947" ry="4.45858" fill="rgb(60,60,60)" transform="rotate(15 984.6 2109.8)"/><ellipse cx="1003.1" cy="2141.2" rx="19.142" ry="3.71893" fill="rgb(45,45,45)" transform="rotate(5 1003.1 2141.2)"/><ellipse cx="829.3" cy="2137.5" rx="11.7456" ry="4.08876" fill="rgb(60,60,60)"/><ellipse cx="858.9" cy="2141.2" rx="24.6893" ry="2.97929" fill="rgb(38,38,38)"/><ellipse cx="907" cy="2152.3" rx="13.5947" ry="4.08876" fill="rgb(60,60,60)" transform="rotate(-20 907 2152.3)"/><ellipse cx="834.8" cy="2170.8" rx="7.12278" ry="5.19822" fill="rgb(75,75,75)"/><ellipse cx="892.2" cy="2191.1" rx="9.89645" ry="6.30769" fill="rgb(75,75,75)" transform="rotate(50 892.2 2191.1)"/><ellipse cx="879.2" cy="2213.3" rx="13.5947" ry="4.08876" fill="rgb(105,105,105)" transform="rotate(30 879.2 2213.3)"/><ellipse cx="851.5" cy="2196.7" rx="13.5947" ry="3.71893" fill="rgb(60,60,60)" transform="rotate(30 851.5 2196.7)"/><ellipse cx="808.9" cy="2213.3" rx="5.8284" ry="7.04734" fill="rgb(68,68,68)" transform="rotate(20 808.9 2213.3)"/><ellipse cx="1058.6" cy="2161.6" rx="8.04734" ry="4.08876" fill="rgb(112,112,112)"/><ellipse cx="1053" cy="2189.3" rx="11.7456" ry="7.04734" fill="rgb(112,112,112)" transform="rotate(55 1053 2189.3)"/><ellipse cx="995.7" cy="2178.2" rx="9.89645" ry="10.7456" fill="rgb(38,38,38)"/><ellipse cx="740.5" cy="2161.6" rx="11.7456" ry="4.08876" fill="rgb(45,45,45)" transform="rotate(-10 740.5 2161.6)"/><ellipse cx="729.4" cy="2189.3" rx="9.89645" ry="7.04734" fill="rgb(41,41,41)" transform="rotate(40 729.4 2189.3)"/><ellipse cx="747.9" cy="2181.9" rx="8.04734" ry="4.08876" fill="rgb(45,45,45)" transform="rotate(20 747.9 2181.9)"/><ellipse cx="722" cy="2215.2" rx="6.19822" ry="5.93787" fill="rgb(49,49,49)"/><ellipse cx="790.5" cy="2181.9" rx="9.89645" ry="3.71893" fill="rgb(45,45,45)" transform="rotate(60 790.5 2181.9)"/><ellipse cx="666.6" cy="2185.6" rx="9.89645" ry="3.71893" fill="rgb(41,41,41)" transform="rotate(60 666.6 2185.6)"/><ellipse cx="664.7" cy="2209.6" rx="9.89645" ry="4.08876" fill="rgb(41,41,41)" transform="rotate(10 664.7 2209.6)"/><ellipse cx="627.7" cy="2181.9" rx="5.08876" ry="4.08876" fill="rgb(41,41,41)"/><ellipse cx="729.4" cy="2133.8" rx="15.4438" ry="2.97929" fill="rgb(41,41,41)" transform="rotate(25 729.4 2133.8)"/><ellipse cx="773.8" cy="2132" rx="8.04734" ry="2.97929" fill="rgb(45,45,45)" transform="rotate(20 773.8 2132)"/><ellipse cx="792.3" cy="2085.7" rx="9.89645" ry="4.45858" fill="rgb(52,52,52)" transform="rotate(25 792.3 2085.7)"/><ellipse cx="814.5" cy="2106.1" rx="11.7456" ry="4.08876" fill="rgb(45,45,45)" transform="rotate(20 814.5 2106.1)"/><ellipse cx="742.4" cy="2024.7" rx="9.89645" ry="4.08876" fill="rgb(41,41,41)" transform="rotate(-30 742.4 2024.7)"/><ellipse cx="735" cy="2070.2" rx="8.04734" ry="3.34911" fill="rgb(41,41,41)" transform="rotate(15 735 2070.2)"/><ellipse cx="670.3" cy="2082.8" rx="8.97189" ry="2.97929" fill="rgb(41,41,41)" transform="rotate(5 670.3 2082.8)"/><ellipse cx="731.3" cy="2101.3" rx="6.19822" ry="2.97929" fill="rgb(45,45,45)" transform="rotate(5 731.3 2101.3)"/><ellipse cx="710.9" cy="2143.1" rx="6.19822" ry="2.60947" fill="rgb(41,41,41)"/><ellipse cx="709.1" cy="1967.4" rx="5.08876" ry="2.60947" fill="rgb(41,41,41)"/><ellipse cx="969.8" cy="1992.5" rx="5.08876" ry="2.97929" fill="rgb(41,41,41)"/><ellipse cx="1049.3" cy="1989.6" rx="6.93787" ry="2.97929" fill="rgb(45,45,45)" transform="rotate(10 1049.3 1989.6)"/><ellipse cx="1038.2" cy="2091.3" rx="8.04734" ry="2.60947" fill="rgb(45,45,45)" transform="rotate(15 1038.2 2091.3)"/><ellipse cx="916.2" cy="2087.6" rx="6.19822" ry="2.42456" fill="rgb(41,41,41)" transform="rotate(5 916.2 2087.6)"/><ellipse cx="934.7" cy="2218.9" rx="4.71893" ry="3.71893" fill="rgb(45,45,45)"/><ellipse cx="992" cy="2232.9" rx="8.04734" ry="2.97929" fill="rgb(45,45,45)"/><ellipse cx="831.1" cy="2233.7" rx="8.04734" ry="2.97929" fill="rgb(45,45,45)"/><ellipse cx="670.3" cy="2233.7" rx="6.19822" ry="2.97929" fill="rgb(41,41,41)"/><ellipse cx="1045.6" cy="2215.5" rx="6" ry="4" fill="rgb(218,218,218)" transform="rotate(30 1045.6 2215.5)"/></g></g><polygon points="122,1959.7 188.6,1913.5 192,1908 215.6,1907.7 220.2,1921.2 204,1938.5 169.3,1980.9 165.5,1996.3 192.4,2017.5 219.4,2029 246.4,2038.7 261.8,2054.1 267.6,2065.6 256,2081 246.4,2090.7 242.5,2109.9 248.3,2131.1 252.2,2142.7 257.9,2136.9 288.8,2136.9 352.3,2083 361.9,2078 387,2078 444.8,2031 479.4,2029 485.2,2023.3 543,1973.2 548.8,1970.1 570.6,1969.9 578.9,1979.1 524.8,2029.8 519.9,2032.1 485.2,2032.9 481.4,2038.7 446.7,2073.3 419.7,2108 331.1,2161.9 219.4,2235.1 219,2242 122,2242" fill="#808080"/><polygon points="338.2,1727.9 342.8,1734.8 360.2,1731.7 387.1,1710.5 389.1,1700.9 381.4,1697 367.9,1700.1 340.9,1722.1" fill="#808080"/><polygon points="260,1808.8 269.6,1819.2 287,1819.2 329.4,1785.6 333.2,1774.1 325.5,1769.5 308.2,1772.2 263.9,1804.9" fill="#808080"/><polygon points="175.3,1895.4 192.6,1905.8 213.8,1905.8 275.4,1851.1 277.3,1843.4 269.6,1839.6 250.4,1843.4 179.1,1891.6" fill="#808080"/><polygon points="171,1805.5 183,1802.7 196,1805.5 198.8,1815.7 202.5,1824.9 205.2,1836 202.5,1849 197.8,1861.9 195.1,1873 194.1,1880.4 185,1890 176.6,1897 165.5,1882.2 171,1873 165.5,1861.9 164.5,1852.6 160.9,1843.4 162.7,1828.6 165.5,1822.1 172.9,1815.7 169.2,1810.1" fill="#808080"/><polygon points="124,1754.8 132.9,1751 135.6,1754.8 129,1766.4 124,1772.2" fill="#808080"/><polygon points="1041.7,1689.9 1053.2,1680.3 1074.3,1662.3 1074.3,1704.1 1060.9,1699.5 1047.5,1696.8" fill="#808080"/><polygon points="949.6,1743.6 959.2,1752.4 980.3,1754 1030.2,1712.9 1022.5,1706 999.5,1706 951.6,1740.5" fill="#808080"/><polygon points="857.6,1801.1 867.1,1808.8 890.2,1808.8 940,1768.5 932.4,1760.9 907.4,1760.9 859.5,1798.5" fill="#808080"/><polygon points="766.1,1856.3 776.5,1864.7 799.4,1865.5 849.3,1823.1 843.1,1814.7 811.9,1816 768.2,1852.2" fill="#808080"/><polygon points="670.4,1912.5 682.9,1921.6 707.9,1921.6 764,1873 755.7,1865.9 726.6,1864.7 672.5,1909.6" fill="#808080"/><polygon points="576.8,1968.7 587.2,1976.1 614.3,1976.1 670.4,1929.1 662.1,1921.6 633,1920.8 578.9,1965.7" fill="#808080"/></g>
<rect x="122" y="1654" width="3" height="585.2" fill="#000"/><rect x="122" y="2237.8" width="951" height="1.4" fill="#000"/><rect x="115" y="1656.05" width="8.5" height="1.8" fill="#000"/><rect x="115" y="1666" width="8.5" height="1.8" fill="#000"/><rect x="115" y="1675.95" width="8.5" height="1.8" fill="#000"/><rect x="108" y="1685.75" width="15.5" height="2.1" fill="#000"/><rect x="115" y="1695.85" width="8.5" height="1.8" fill="#000"/><rect x="115" y="1705.8" width="8.5" height="1.8" fill="#000"/><rect x="115" y="1715.75" width="8.5" height="1.8" fill="#000"/><rect x="115" y="1725.7" width="8.5" height="1.8" fill="#000"/><rect x="108" y="1735.5" width="15.5" height="2.1" fill="#000"/><rect x="115" y="1745.6" width="8.5" height="1.8" fill="#000"/><rect x="115" y="1755.55" width="8.5" height="1.8" fill="#000"/><rect x="115" y="1765.5" width="8.5" height="1.8" fill="#000"/><rect x="115" y="1775.45" width="8.5" height="1.8" fill="#000"/><rect x="108" y="1785.25" width="15.5" height="2.1" fill="#000"/><rect x="115" y="1795.35" width="8.5" height="1.8" fill="#000"/><rect x="115" y="1805.3" width="8.5" height="1.8" fill="#000"/><rect x="115" y="1815.25" width="8.5" height="1.8" fill="#000"/><rect x="115" y="1825.2" width="8.5" height="1.8" fill="#000"/><rect x="108" y="1835" width="15.5" height="2.1" fill="#000"/><rect x="115" y="1845.1" width="8.5" height="1.8" fill="#000"/><rect x="115" y="1855.05" width="8.5" height="1.8" fill="#000"/><rect x="115" y="1865" width="8.5" height="1.8" fill="#000"/><rect x="115" y="1874.95" width="8.5" height="1.8" fill="#000"/><rect x="108" y="1884.75" width="15.5" height="2.1" fill="#000"/><rect x="115" y="1894.85" width="8.5" height="1.8" fill="#000"/><rect x="115" y="1904.8" width="8.5" height="1.8" fill="#000"/><rect x="115" y="1914.75" width="8.5" height="1.8" fill="#000"/><rect x="115" y="1924.7" width="8.5" height="1.8" fill="#000"/><rect x="108" y="1934.5" width="15.5" height="2.1" fill="#000"/><rect x="115" y="1944.6" width="8.5" height="1.8" fill="#000"/><rect x="115" y="1954.55" width="8.5" height="1.8" fill="#000"/><rect x="115" y="1964.5" width="8.5" height="1.8" fill="#000"/><rect x="115" y="1974.45" width="8.5" height="1.8" fill="#000"/><rect x="108" y="1984.25" width="15.5" height="2.1" fill="#000"/><rect x="115" y="1994.35" width="8.5" height="1.8" fill="#000"/><rect x="115" y="2004.3" width="8.5" height="1.8" fill="#000"/><rect x="115" y="2014.25" width="8.5" height="1.8" fill="#000"/><rect x="115" y="2024.2" width="8.5" height="1.8" fill="#000"/><rect x="108" y="2034" width="15.5" height="2.1" fill="#000"/><rect x="115" y="2044.1" width="8.5" height="1.8" fill="#000"/><rect x="115" y="2054.05" width="8.5" height="1.8" fill="#000"/><rect x="115" y="2064" width="8.5" height="1.8" fill="#000"/><rect x="115" y="2073.95" width="8.5" height="1.8" fill="#000"/><rect x="108" y="2083.75" width="15.5" height="2.1" fill="#000"/><rect x="115" y="2093.85" width="8.5" height="1.8" fill="#000"/><rect x="115" y="2103.8" width="8.5" height="1.8" fill="#000"/><rect x="115" y="2113.75" width="8.5" height="1.8" fill="#000"/><rect x="115" y="2123.7" width="8.5" height="1.8" fill="#000"/><rect x="108" y="2133.5" width="15.5" height="2.1" fill="#000"/><rect x="115" y="2143.6" width="8.5" height="1.8" fill="#000"/><rect x="115" y="2153.55" width="8.5" height="1.8" fill="#000"/><rect x="115" y="2163.5" width="8.5" height="1.8" fill="#000"/><rect x="115" y="2173.45" width="8.5" height="1.8" fill="#000"/><rect x="108" y="2183.25" width="15.5" height="2.1" fill="#000"/><rect x="115" y="2193.35" width="8.5" height="1.8" fill="#000"/><rect x="115" y="2203.3" width="8.5" height="1.8" fill="#000"/><rect x="115" y="2213.25" width="8.5" height="1.8" fill="#000"/><rect x="115" y="2223.2" width="8.5" height="1.8" fill="#000"/><rect x="108" y="2233" width="15.5" height="2.1" fill="#000"/><text x="49.5" y="1691.8" font-size="17.4" textLength="47.5" lengthAdjust="spacingAndGlyphs">800</text><text x="49.5" y="1741.55" font-size="17.4" textLength="47.5" lengthAdjust="spacingAndGlyphs">750</text><text x="49.5" y="1791.3" font-size="17.4" textLength="47.5" lengthAdjust="spacingAndGlyphs">700</text><text x="49.5" y="1841.05" font-size="17.4" textLength="47.5" lengthAdjust="spacingAndGlyphs">650</text><text x="49.5" y="1890.8" font-size="17.4" textLength="47.5" lengthAdjust="spacingAndGlyphs">600</text><text x="49.5" y="1940.55" font-size="17.4" textLength="47.5" lengthAdjust="spacingAndGlyphs">550</text><text x="49.5" y="1990.3" font-size="17.4" textLength="47.5" lengthAdjust="spacingAndGlyphs">500</text><text x="49.5" y="2040.05" font-size="17.4" textLength="47.5" lengthAdjust="spacingAndGlyphs">450</text><text x="49.5" y="2089.8" font-size="17.4" textLength="47.5" lengthAdjust="spacingAndGlyphs">400</text><text x="49.5" y="2139.55" font-size="17.4" textLength="47.5" lengthAdjust="spacingAndGlyphs">350</text><text x="49.5" y="2189.3" font-size="17.4" textLength="47.5" lengthAdjust="spacingAndGlyphs">300</text><text x="49.5" y="2239.05" font-size="17.4" textLength="47.5" lengthAdjust="spacingAndGlyphs">250</text><rect x="121.146" y="2238.5" width="2" height="5.7" fill="#000"/><rect x="137.9" y="2238.5" width="2.4" height="10.7" fill="#000"/><rect x="155.054" y="2238.5" width="2" height="5.7" fill="#000"/><rect x="172.008" y="2238.5" width="2" height="5.7" fill="#000"/><rect x="188.962" y="2238.5" width="2" height="5.7" fill="#000"/><rect x="205.916" y="2238.5" width="2" height="5.7" fill="#000"/><rect x="222.67" y="2238.5" width="2.4" height="10.7" fill="#000"/><rect x="239.824" y="2238.5" width="2" height="5.7" fill="#000"/><rect x="256.778" y="2238.5" width="2" height="5.7" fill="#000"/><rect x="273.732" y="2238.5" width="2" height="5.7" fill="#000"/><rect x="290.686" y="2238.5" width="2" height="5.7" fill="#000"/><rect x="307.44" y="2238.5" width="2.4" height="10.7" fill="#000"/><rect x="324.594" y="2238.5" width="2" height="5.7" fill="#000"/><rect x="341.548" y="2238.5" width="2" height="5.7" fill="#000"/><rect x="358.502" y="2238.5" width="2" height="5.7" fill="#000"/><rect x="375.456" y="2238.5" width="2" height="5.7" fill="#000"/><rect x="392.21" y="2238.5" width="2.4" height="10.7" fill="#000"/><rect x="409.364" y="2238.5" width="2" height="5.7" fill="#000"/><rect x="426.318" y="2238.5" width="2" height="5.7" fill="#000"/><rect x="443.272" y="2238.5" width="2" height="5.7" fill="#000"/><rect x="460.226" y="2238.5" width="2" height="5.7" fill="#000"/><rect x="476.98" y="2238.5" width="2.4" height="10.7" fill="#000"/><rect x="494.134" y="2238.5" width="2" height="5.7" fill="#000"/><rect x="511.088" y="2238.5" width="2" height="5.7" fill="#000"/><rect x="528.042" y="2238.5" width="2" height="5.7" fill="#000"/><rect x="544.996" y="2238.5" width="2" height="5.7" fill="#000"/><rect x="561.75" y="2238.5" width="2.4" height="10.7" fill="#000"/><rect x="578.904" y="2238.5" width="2" height="5.7" fill="#000"/><rect x="595.858" y="2238.5" width="2" height="5.7" fill="#000"/><rect x="612.812" y="2238.5" width="2" height="5.7" fill="#000"/><rect x="629.766" y="2238.5" width="2" height="5.7" fill="#000"/><rect x="646.52" y="2238.5" width="2.4" height="10.7" fill="#000"/><rect x="663.674" y="2238.5" width="2" height="5.7" fill="#000"/><rect x="680.628" y="2238.5" width="2" height="5.7" fill="#000"/><rect x="697.582" y="2238.5" width="2" height="5.7" fill="#000"/><rect x="714.536" y="2238.5" width="2" height="5.7" fill="#000"/><rect x="731.29" y="2238.5" width="2.4" height="10.7" fill="#000"/><rect x="748.444" y="2238.5" width="2" height="5.7" fill="#000"/><rect x="765.398" y="2238.5" width="2" height="5.7" fill="#000"/><rect x="782.352" y="2238.5" width="2" height="5.7" fill="#000"/><rect x="799.306" y="2238.5" width="2" height="5.7" fill="#000"/><rect x="816.06" y="2238.5" width="2.4" height="10.7" fill="#000"/><rect x="833.214" y="2238.5" width="2" height="5.7" fill="#000"/><rect x="850.168" y="2238.5" width="2" height="5.7" fill="#000"/><rect x="867.122" y="2238.5" width="2" height="5.7" fill="#000"/><rect x="884.076" y="2238.5" width="2" height="5.7" fill="#000"/><rect x="900.83" y="2238.5" width="2.4" height="10.7" fill="#000"/><rect x="917.984" y="2238.5" width="2" height="5.7" fill="#000"/><rect x="934.938" y="2238.5" width="2" height="5.7" fill="#000"/><rect x="951.892" y="2238.5" width="2" height="5.7" fill="#000"/><rect x="968.846" y="2238.5" width="2" height="5.7" fill="#000"/><rect x="985.6" y="2238.5" width="2.4" height="10.7" fill="#000"/><rect x="1002.75" y="2238.5" width="2" height="5.7" fill="#000"/><rect x="1019.71" y="2238.5" width="2" height="5.7" fill="#000"/><rect x="1036.66" y="2238.5" width="2" height="5.7" fill="#000"/><rect x="1053.62" y="2238.5" width="2" height="5.7" fill="#000"/><rect x="1070.37" y="2238.5" width="2.4" height="10.7" fill="#000"/><text x="115.1" y="2271.8" font-size="17.4" textLength="47.5" lengthAdjust="spacingAndGlyphs">250</text><text x="199.87" y="2271.8" font-size="17.4" textLength="47.5" lengthAdjust="spacingAndGlyphs">300</text><text x="284.64" y="2271.8" font-size="17.4" textLength="47.5" lengthAdjust="spacingAndGlyphs">350</text><text x="369.41" y="2271.8" font-size="17.4" textLength="47.5" lengthAdjust="spacingAndGlyphs">400</text><text x="454.18" y="2271.8" font-size="17.4" textLength="47.5" lengthAdjust="spacingAndGlyphs">450</text><text x="538.95" y="2271.8" font-size="17.4" textLength="47.5" lengthAdjust="spacingAndGlyphs">500</text><text x="623.72" y="2271.8" font-size="17.4" textLength="47.5" lengthAdjust="spacingAndGlyphs">550</text><text x="708.49" y="2271.8" font-size="17.4" textLength="47.5" lengthAdjust="spacingAndGlyphs">600</text><text x="793.26" y="2271.8" font-size="17.4" textLength="47.5" lengthAdjust="spacingAndGlyphs">650</text><text x="878.03" y="2271.8" font-size="17.4" textLength="47.5" lengthAdjust="spacingAndGlyphs">700</text><text x="962.8" y="2271.8" font-size="17.4" textLength="47.5" lengthAdjust="spacingAndGlyphs">750</text><text x="1047.57" y="2271.8" font-size="17.4" textLength="47.5" lengthAdjust="spacingAndGlyphs">800</text><rect x="1092.4" y="1660" width="50.2" height="17.6" fill="#808080"/><rect x="1092.4" y="1677.6" width="50.2" height="18.2938" fill="#ff0000"/><rect x="1092.4" y="1695.39" width="50.2" height="18.2938" fill="#ff4000"/><rect x="1092.4" y="1713.19" width="50.2" height="18.2938" fill="#ff8000"/><rect x="1092.4" y="1730.98" width="50.2" height="18.2938" fill="#ffc000"/><rect x="1092.4" y="1748.77" width="50.2" height="18.2938" fill="#ffff00"/><rect x="1092.4" y="1766.57" width="50.2" height="18.2938" fill="#aaff00"/><rect x="1092.4" y="1784.36" width="50.2" height="18.2938" fill="#55ff00"/><rect x="1092.4" y="1802.16" width="50.2" height="18.2938" fill="#00ff00"/><rect x="1092.4" y="1819.95" width="50.2" height="18.2938" fill="#00ff40"/><rect x="1092.4" y="1837.74" width="50.2" height="18.2938" fill="#00ff80"/><rect x="1092.4" y="1855.54" width="50.2" height="18.2938" fill="#00ffc0"/><rect x="1092.4" y="1873.33" width="50.2" height="18.2938" fill="#00ffff"/><rect x="1092.4" y="1891.12" width="50.2" height="18.2938" fill="#00c0ff"/><rect x="1092.4" y="1908.92" width="50.2" height="18.2938" fill="#0080ff"/><rect x="1092.4" y="1926.71" width="50.2" height="18.2938" fill="#0040ff"/><rect x="1092.4" y="1944.51" width="50.2" height="35.0938" fill="#0000ff"/><text x="1150.5" y="1682.6" font-size="14" textLength="53" lengthAdjust="spacingAndGlyphs">250.0</text><text x="1150.5" y="1700.39" font-size="14" textLength="53" lengthAdjust="spacingAndGlyphs">234.4</text><text x="1150.5" y="1718.19" font-size="14" textLength="53" lengthAdjust="spacingAndGlyphs">218.8</text><text x="1150.5" y="1735.98" font-size="14" textLength="53" lengthAdjust="spacingAndGlyphs">203.1</text><text x="1150.5" y="1753.77" font-size="14" textLength="53" lengthAdjust="spacingAndGlyphs">187.5</text><text x="1150.5" y="1771.57" font-size="14" textLength="53" lengthAdjust="spacingAndGlyphs">171.9</text><text x="1150.5" y="1789.36" font-size="14" textLength="53" lengthAdjust="spacingAndGlyphs">156.3</text><text x="1150.5" y="1807.16" font-size="14" textLength="53" lengthAdjust="spacingAndGlyphs">140.6</text><text x="1150.5" y="1824.95" font-size="14" textLength="53" lengthAdjust="spacingAndGlyphs">125.0</text><text x="1150.5" y="1842.74" font-size="14" textLength="53" lengthAdjust="spacingAndGlyphs">109.4</text><text x="1150.5" y="1860.54" font-size="14" textLength="53" lengthAdjust="spacingAndGlyphs">93.75</text><text x="1150.5" y="1878.33" font-size="14" textLength="53" lengthAdjust="spacingAndGlyphs">78.13</text><text x="1150.5" y="1896.12" font-size="14" textLength="53" lengthAdjust="spacingAndGlyphs">62.50</text><text x="1150.5" y="1913.92" font-size="14" textLength="53" lengthAdjust="spacingAndGlyphs">46.88</text><text x="1150.5" y="1931.71" font-size="14" textLength="53" lengthAdjust="spacingAndGlyphs">31.25</text><text x="1150.5" y="1949.51" font-size="14" textLength="53" lengthAdjust="spacingAndGlyphs">15.63</text><text x="1150.5" y="1967.3" font-size="14" textLength="53" lengthAdjust="spacingAndGlyphs">0.000</text><text x="369.6" y="2306.3" font-size="34.5" font-weight="bold" textLength="466" lengthAdjust="spacingAndGlyphs">Excitation wavelength (nm)</text><text x="712.5" y="2358.7" font-size="30.5" font-weight="bold" textLength="352" lengthAdjust="spacingAndGlyphs">Sample: Control glass eel</text><text x="28.6" y="2166" font-size="35.5" font-weight="bold" textLength="441" lengthAdjust="spacingAndGlyphs" transform="rotate(-90 28.6 2166)">Emission wavelength (nm)</text><text transform="translate(1221.5 1647) scale(0.82 1)" x="0" y="0" font-size="113" font-weight="bold">c</text>
</svg>
</body></html>
